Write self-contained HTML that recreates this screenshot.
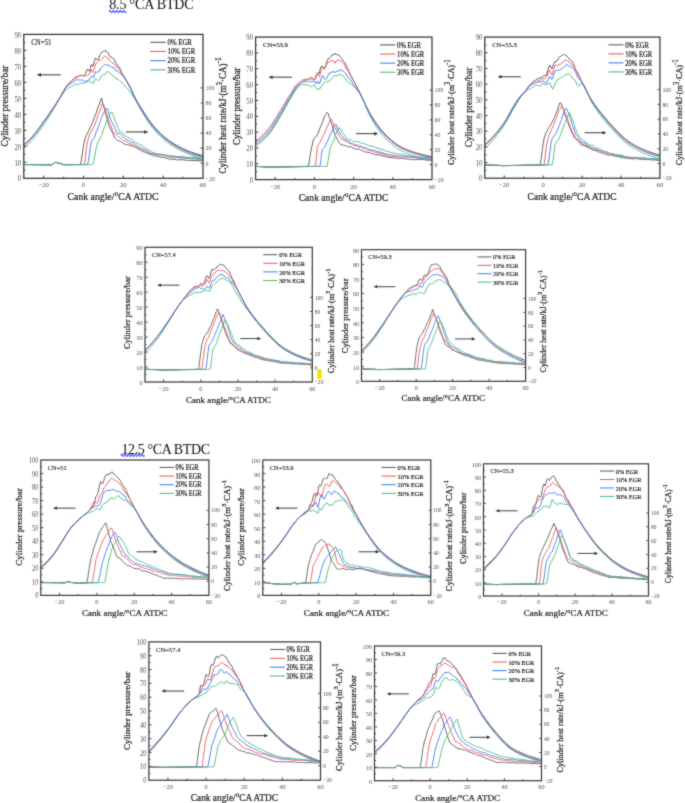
<!DOCTYPE html>
<html><head><meta charset="utf-8"><style>
html,body{margin:0;padding:0;background:#fff;width:685px;height:803px;overflow:hidden;font-family:"Liberation Serif",serif;}
svg{display:block;}
</style></head><body>
<svg width="685" height="803" viewBox="0 0 685 803">
<defs><filter id="bl" x="0" y="0" width="100%" height="100%" filterUnits="userSpaceOnUse"><feConvolveMatrix order="3" kernelMatrix="1 2 1 2 16 2 1 2 1" divisor="28" edgeMode="duplicate" preserveAlpha="false"/></filter></defs>
<rect width="685" height="803" fill="#fff"/>
<g filter="url(#bl)">

<text x="109.2" y="9.4" font-family="Liberation Serif, serif" font-size="14" letter-spacing="-0.15" fill="#111">8.5 °CA BTDC</text>
<path d="M109.20,11.60 q0.85,-2.00 1.70,0 t1.70,0 t1.70,0 t1.70,0 t1.70,0 t1.70,0 t1.70,0 t1.70,0 t1.70,0 t1.70,0" stroke="#3344f5" stroke-width="1.1" fill="none"/>
<text x="121.4" y="454" font-family="Liberation Serif, serif" font-size="14" letter-spacing="-0.37" fill="#111">12.5 °CA BTDC</text>
<path d="M120.80,455.40 q0.85,-2.00 1.70,0 t1.70,0 t1.70,0 t1.70,0 t1.70,0 t1.70,0 t1.70,0 t1.70,0 t1.70,0 t1.70,0 t1.70,0 t1.70,0 t1.70,0 t1.70,0" stroke="#3344f5" stroke-width="1.1" fill="none"/>
<rect x="317.3" y="369.1" width="4.4" height="10" fill="#ffe000"/>

<g transform="translate(23.8,34.4)">
<polyline points="0,130.1 1,130.2 2,130.2 3,130.2 4,130.2 5,130.2 6,130.2 7,130.2 8,130.2 9,130.3 10,130.3 11,130.3 11.9,130.3 12.9,130.3 13.9,130.3 14.9,130.3 15.9,130.3 16.9,130.3 17.9,130.4 18.9,130.4 19.9,130.4 20.9,130.4 21.9,130.4 22.9,130.4 23.9,130.4 24.9,130.4 25.9,130.4 26.9,130.5 27.9,130.5 28.9,129.8 29.9,129 30.9,128.3 31.9,128 32.9,128.2 33.8,128.4 34.8,128.7 35.8,128.9 36.8,129.2 37.8,129.6 38.8,129.9 39.8,130.3 40.8,130.3 41.8,130.3 42.8,130.3 43.8,130.3 44.8,130.3 45.8,130.3 46.8,130.2 47.8,130.2 48.8,130.2 49.8,130.2 50.8,130.2 51.8,130.2 52.8,130.2 53.8,130.2 54.8,130.2 55.8,130.2 56.7,130.2 57.7,124.8 58.7,118.1 59.7,111.3 60.7,106.6 61.7,103 62.7,100.4 63.7,98.6 64.7,96.6 65.7,94.6 66.7,92.2 67.7,90.3 68.7,88.2 69.7,85.6 70.7,83.2 71.7,80.3 72.7,77.9 73.7,74.3 74.7,71.8 75.7,69.5 76.7,66.5 77.7,63.6 78.6,67.3 79.6,71.3 80.6,74.3 81.6,78 82.6,82.1 83.6,85.6 84.6,89 85.6,91.9 86.6,94.5 87.6,96.5 88.6,97.9 89.6,100.5 90.6,102.8 91.6,104 92.6,105.1 93.6,105.9 94.6,105.9 95.6,106.9 96.6,107.1 97.6,107.4 98.6,108.3 99.6,108.9 100.6,109.7 101.5,109.9 102.5,110.4 103.5,110.1 104.5,110.6 105.5,110.6 106.5,111.1 107.5,111.4 108.5,111.4 109.5,111.7 110.5,112.4 111.5,113 112.5,113.5 113.5,114.1 114.5,114.8 115.5,115 116.5,115.6 117.5,116.3 118.5,116.8 119.5,117.2 120.5,117.7 121.5,118.1 122.5,118.5 123.4,119.1 124.4,119.3 125.4,119.7 126.4,120 127.4,120.5 128.4,120.7 129.4,121.1 130.4,121.4 131.4,121.7 132.4,121.7 133.4,121.8 134.4,122 135.4,122.3 136.4,122.5 137.4,122.7 138.4,123.1 139.4,123 140.4,123.1 141.4,123.4 142.4,123.7 143.4,124 144.4,124.4 145.4,124.5 146.3,125 147.3,124.8 148.3,124.7 149.3,124.8 150.3,125 151.3,125 152.3,125.3 153.3,125.5 154.3,125.5 155.3,125.5 156.3,125.2 157.3,125.3 158.3,125.5 159.3,125.4 160.3,125.5 161.3,125.8 162.3,125.9 163.3,125.8 164.3,126 165.3,126.1 166.3,125.9 167.3,126.2 168.2,126.2 169.2,126 170.2,126.1 171.2,126 172.2,126 173.2,126.3 174.2,126.3 175.2,126.4 176.2,126.5 177.2,126.4 178.2,126.5 179.2,126.5" fill="none" stroke="#5a5a5a" stroke-width="0.95" stroke-linejoin="round"/>
<polyline points="0,130.1 1,130.2 2,130.2 3,130.2 4,130.2 5,130.2 6,130.2 7,130.2 8,130.2 9,130.3 10,130.3 11,130.3 11.9,130.3 12.9,130.3 13.9,130.3 14.9,130.3 15.9,130.3 16.9,130.3 17.9,130.4 18.9,130.4 19.9,130.4 20.9,130.4 21.9,130.4 22.9,130.4 23.9,130.4 24.9,130.4 25.9,130.4 26.9,130.5 27.9,130.5 28.9,129.8 29.9,129 30.9,128.3 31.9,128 32.9,128.2 33.8,128.4 34.8,128.7 35.8,128.9 36.8,129.2 37.8,129.6 38.8,129.9 39.8,130.3 40.8,130.3 41.8,130.3 42.8,130.3 43.8,130.3 44.8,130.3 45.8,130.3 46.8,130.3 47.8,130.2 48.8,130.2 49.8,130.2 50.8,130.2 51.8,130.2 52.8,130.2 53.8,130.2 54.8,130.2 55.8,130.2 56.7,130.2 57.7,130.2 58.7,130.2 59.7,130.2 60.7,130.1 61.7,121.9 62.7,113.7 63.7,107.3 64.7,103.6 65.7,100.3 66.7,98 67.7,96.7 68.7,94.6 69.7,93.2 70.7,90.7 71.7,88.6 72.7,85.5 73.7,82.8 74.7,79.1 75.7,76.8 76.7,74.6 77.7,71.8 78.6,69.1 79.6,69.5 80.6,72 81.6,75.4 82.6,78.4 83.6,81 84.6,84.9 85.6,87.7 86.6,90.1 87.6,92.3 88.6,95.4 89.6,97.4 90.6,99.2 91.6,99.8 92.6,100.7 93.6,101.3 94.6,102.3 95.6,102.8 96.6,103.8 97.6,104.1 98.6,105.4 99.6,106.1 100.6,106.6 101.5,106.3 102.5,106.9 103.5,107.6 104.5,108.4 105.5,109 106.5,109.4 107.5,109.8 108.5,110.4 109.5,110.7 110.5,111.2 111.5,111.3 112.5,111.9 113.5,112.8 114.5,113.4 115.5,113.5 116.5,114.4 117.5,114.8 118.5,115.5 119.5,115.9 120.5,116.2 121.5,116.6 122.5,117.1 123.4,117.6 124.4,118.3 125.4,118.8 126.4,119 127.4,119 128.4,119.3 129.4,119.5 130.4,119.6 131.4,119.8 132.4,120 133.4,120.3 134.4,120.5 135.4,120.7 136.4,120.8 137.4,120.9 138.4,121.2 139.4,121.3 140.4,121.2 141.4,121.7 142.4,121.7 143.4,122 144.4,122.5 145.4,122.5 146.3,122.8 147.3,123 148.3,123 149.3,123.1 150.3,123.3 151.3,123.2 152.3,123.2 153.3,123.2 154.3,123.3 155.3,123.5 156.3,123.6 157.3,123.5 158.3,123.6 159.3,123.7 160.3,124 161.3,124.1 162.3,124 163.3,123.9 164.3,124 165.3,123.8 166.3,123.9 167.3,123.9 168.2,124 169.2,124 170.2,124.1 171.2,124.5 172.2,124.4 173.2,124.6 174.2,124.6 175.2,124.6 176.2,124.5 177.2,124.8 178.2,124.6 179.2,124.9" fill="none" stroke="#f25a5a" stroke-width="0.95" stroke-linejoin="round"/>
<polyline points="0,130.1 1,130.2 2,130.2 3,130.2 4,130.2 5,130.2 6,130.2 7,130.2 8,130.2 9,130.3 10,130.3 11,130.3 11.9,130.3 12.9,130.3 13.9,130.3 14.9,130.3 15.9,130.3 16.9,130.3 17.9,130.4 18.9,130.4 19.9,130.4 20.9,130.4 21.9,130.4 22.9,130.4 23.9,130.4 24.9,130.4 25.9,130.4 26.9,130.5 27.9,130.5 28.9,129.8 29.9,129 30.9,128.3 31.9,128 32.9,128.2 33.8,128.4 34.8,128.7 35.8,128.9 36.8,129.2 37.8,129.6 38.8,129.9 39.8,130.3 40.8,130.3 41.8,130.3 42.8,130.3 43.8,130.3 44.8,130.3 45.8,130.3 46.8,130.3 47.8,130.3 48.8,130.3 49.8,130.2 50.8,130.2 51.8,130.2 52.8,130.2 53.8,130.2 54.8,130.2 55.8,130.2 56.7,130.2 57.7,130.2 58.7,130.2 59.7,130.2 60.7,130.2 61.7,130.2 62.7,130.2 63.7,130.2 64.7,125.9 65.7,118.9 66.7,111.9 67.7,106.9 68.7,105.6 69.7,104.3 70.7,102.8 71.7,99.6 72.7,97.1 73.7,94.8 74.7,92.1 75.7,89.1 76.7,86.2 77.7,83.3 78.6,81 79.6,79.2 80.6,76.9 81.6,76.1 82.6,74.1 83.6,74.2 84.6,77.2 85.6,81 86.6,84.1 87.6,86.8 88.6,88.4 89.6,90.2 90.6,92.3 91.6,94.9 92.6,97.5 93.6,99 94.6,99.3 95.6,98.9 96.6,99.5 97.6,100.6 98.6,101.3 99.6,103 100.6,103.8 101.5,104.4 102.5,104.9 103.5,105.3 104.5,105.7 105.5,106.7 106.5,107.3 107.5,107.8 108.5,108.1 109.5,108.5 110.5,108.9 111.5,109.9 112.5,110.7 113.5,111.4 114.5,112.1 115.5,112.6 116.5,113.5 117.5,113.6 118.5,114.4 119.5,114.6 120.5,115.1 121.5,115.6 122.5,116.1 123.4,116.7 124.4,117.2 125.4,117.8 126.4,118.5 127.4,119 128.4,118.9 129.4,119.1 130.4,119.4 131.4,119.7 132.4,119.6 133.4,119.9 134.4,119.8 135.4,119.9 136.4,119.7 137.4,119.9 138.4,120.1 139.4,120.6 140.4,120.9 141.4,120.9 142.4,120.7 143.4,120.8 144.4,121.2 145.4,121.5 146.3,121.5 147.3,121.4 148.3,121.5 149.3,121.6 150.3,121.6 151.3,121.6 152.3,122 153.3,122.2 154.3,122.2 155.3,122.4 156.3,122.2 157.3,122.4 158.3,122.1 159.3,122.3 160.3,122.5 161.3,122.8 162.3,122.7 163.3,123.1 164.3,123 165.3,123.3 166.3,123.4 167.3,123.3 168.2,123.5 169.2,123.2 170.2,123.4 171.2,123.6 172.2,123.6 173.2,123.7 174.2,123.7 175.2,123.7 176.2,124.1 177.2,124.1 178.2,124.3 179.2,124.1" fill="none" stroke="#3f7ef0" stroke-width="0.95" stroke-linejoin="round"/>
<polyline points="0,130.1 1,130.2 2,130.2 3,130.2 4,130.2 5,130.2 6,130.2 7,130.2 8,130.2 9,130.3 10,130.3 11,130.3 11.9,130.3 12.9,130.3 13.9,130.3 14.9,130.3 15.9,130.3 16.9,130.3 17.9,130.4 18.9,130.4 19.9,130.4 20.9,130.4 21.9,130.4 22.9,130.4 23.9,130.4 24.9,130.4 25.9,130.4 26.9,130.5 27.9,130.5 28.9,129.8 29.9,129 30.9,128.3 31.9,128 32.9,128.2 33.8,128.4 34.8,128.7 35.8,128.9 36.8,129.2 37.8,129.6 38.8,129.9 39.8,130.3 40.8,130.3 41.8,130.3 42.8,130.3 43.8,130.3 44.8,130.3 45.8,130.3 46.8,130.3 47.8,130.3 48.8,130.3 49.8,130.3 50.8,130.3 51.8,130.2 52.8,130.2 53.8,130.2 54.8,130.2 55.8,130.2 56.7,130.2 57.7,130.2 58.7,130.2 59.7,130.2 60.7,130.2 61.7,130.2 62.7,130.2 63.7,130.2 64.7,130.2 65.7,130.2 66.7,130.2 67.7,130.2 68.7,130.2 69.7,128 70.7,122.6 71.7,117.2 72.7,112.1 73.7,108.9 74.7,106.9 75.7,105.4 76.7,102.8 77.7,101.2 78.6,99 79.6,95.6 80.6,92.5 81.6,90.7 82.6,87.6 83.6,84.9 84.6,83.4 85.6,81.3 86.6,79.6 87.6,77.6 88.6,78.6 89.6,81.2 90.6,83.8 91.6,86.9 92.6,89.4 93.6,91.7 94.6,94 95.6,97.1 96.6,97.4 97.6,97.9 98.6,97.8 99.6,99.1 100.6,100.6 101.5,101.6 102.5,102 103.5,102.5 104.5,103 105.5,103.9 106.5,104.3 107.5,104.3 108.5,105.5 109.5,106.5 110.5,107.4 111.5,107.5 112.5,108.4 113.5,108.7 114.5,109.4 115.5,109.8 116.5,110 117.5,110.6 118.5,111.5 119.5,112.2 120.5,112.7 121.5,113.7 122.5,114.5 123.4,114.6 124.4,115.4 125.4,115.8 126.4,116.5 127.4,116.9 128.4,117.7 129.4,118.2 130.4,118.7 131.4,118.7 132.4,119 133.4,119.2 134.4,119.8 135.4,119.8 136.4,120 137.4,120.1 138.4,120.4 139.4,120.5 140.4,120.6 141.4,120.8 142.4,121.4 143.4,121.6 144.4,121.7 145.4,121.8 146.3,122.3 147.3,122.4 148.3,122 149.3,122 150.3,122.3 151.3,122.7 152.3,122.5 153.3,122.9 154.3,122.8 155.3,123.1 156.3,123 157.3,123.3 158.3,123.1 159.3,123.5 160.3,123.6 161.3,123.6 162.3,123.7 163.3,124 164.3,124.1 165.3,124.2 166.3,124.3 167.3,124.5 168.2,124.5 169.2,124.5 170.2,124.3 171.2,124.3 172.2,124.6 173.2,124.5 174.2,124.6 175.2,125 176.2,124.9 177.2,125.2 178.2,125 179.2,125.1" fill="none" stroke="#4cbb7c" stroke-width="0.95" stroke-linejoin="round"/>
<polyline points="0,110.3 1,109.5 2,108.6 3,107.7 4,106.8 5,105.8 6,104.8 7,103.8 8,102.7 9,101.6 10,100.5 11,99.3 11.9,98.1 12.9,96.8 13.9,95.4 14.9,94.1 15.9,92.7 16.9,91.2 17.9,89.8 18.9,88.4 19.9,87 20.9,85.6 21.9,84.2 22.9,82.8 23.9,81.4 24.9,80 25.9,78.5 26.9,77.1 27.9,75.6 28.9,74.2 29.9,72.7 30.9,71.2 31.9,69.7 32.9,68.2 33.8,66.6 34.8,65.1 35.8,63.5 36.8,61.8 37.8,60.1 38.8,58.3 39.8,56.5 40.8,54.8 41.8,53.2 42.8,51.7 43.8,50.4 44.8,49.2 45.8,48.1 46.8,47.1 47.8,46.1 48.8,45.2 49.8,44.3 50.8,43.6 51.8,42.9 52.8,42.3 53.8,42.2 54.8,41.5 55.8,41.2 56.7,41.2 57.7,40.4 58.7,41.4 59.7,41.7 60.7,41.1 61.7,39.4 62.7,36.7 63.7,34.8 64.7,36.1 65.7,36.8 66.7,33.1 67.7,29.8 68.7,32.3 69.7,30.7 70.7,26 71.7,23.5 72.7,24.4 73.7,25.5 74.7,25.1 75.7,21.4 76.7,20 77.7,17.9 78.6,17.3 79.6,16.9 80.6,16.7 81.6,15.9 82.6,17.4 83.6,17.8 84.6,18.8 85.6,21.4 86.6,22.8 87.6,22.8 88.6,23.5 89.6,24 90.6,25.2 91.6,27.7 92.6,29.3 93.6,30.5 94.6,32.1 95.6,32.7 96.6,35.2 97.6,37.5 98.6,39.8 99.6,40.8 100.6,42.3 101.5,44.1 102.5,45.8 103.5,47.5 104.5,49.2 105.5,51 106.5,52.9 107.5,55.1 108.5,57.3 109.5,59.6 110.5,61.7 111.5,63.6 112.5,65.5 113.5,67.2 114.5,68.9 115.5,70.6 116.5,72.2 117.5,73.8 118.5,75.4 119.5,76.9 120.5,78.5 121.5,80 122.5,81.5 123.4,83 124.4,84.5 125.4,85.9 126.4,87.3 127.4,88.6 128.4,89.8 129.4,91.1 130.4,92.3 131.4,93.4 132.4,94.5 133.4,95.6 134.4,96.7 135.4,97.7 136.4,98.7 137.4,99.6 138.4,100.6 139.4,101.4 140.4,102.3 141.4,103.1 142.4,103.9 143.4,104.7 144.4,105.5 145.4,106.2 146.3,106.9 147.3,107.5 148.3,108.2 149.3,108.8 150.3,109.4 151.3,110 152.3,110.6 153.3,111.2 154.3,111.7 155.3,112.2 156.3,112.8 157.3,113.3 158.3,113.8 159.3,114.3 160.3,114.7 161.3,115.2 162.3,115.7 163.3,116.1 164.3,116.5 165.3,116.9 166.3,117.3 167.3,117.7 168.2,118 169.2,118.4 170.2,118.7 171.2,119 172.2,119.3 173.2,119.6 174.2,119.9 175.2,120.2 176.2,120.5 177.2,120.7 178.2,121 179.2,121.2" fill="none" stroke="#5a5a5a" stroke-width="1" stroke-linejoin="round"/>
<polyline points="0,113.8 1,113 2,112.1 3,111.2 4,110.3 5,109.3 6,108.3 7,107.2 8,106.2 9,105.1 10,103.9 11,102.8 11.9,101.5 12.9,100.2 13.9,98.9 14.9,97.5 15.9,96.1 16.9,94.7 17.9,93.3 18.9,91.8 19.9,90.3 20.9,88.9 21.9,87.3 22.9,85.8 23.9,84.2 24.9,82.6 25.9,81 26.9,79.3 27.9,77.7 28.9,76 29.9,74.3 30.9,72.6 31.9,70.8 32.9,68.9 33.8,67.1 34.8,65.4 35.8,63.7 36.8,62.3 37.8,60.9 38.8,59.5 39.8,58.2 40.8,57 41.8,55.9 42.8,55 43.8,54.2 44.8,53.5 45.8,52.9 46.8,52.4 47.8,51.9 48.8,51.4 49.8,50.8 50.8,50.3 51.8,49.9 52.8,49.7 53.8,50.2 54.8,49.7 55.8,49 56.7,48.7 57.7,48.9 58.7,48.7 59.7,48.8 60.7,48.8 61.7,47.8 62.7,47.7 63.7,47.3 64.7,46.7 65.7,47.1 66.7,47.2 67.7,48.5 68.7,49.5 69.7,48.6 70.7,45.6 71.7,44.2 72.7,44.9 73.7,45.9 74.7,46.3 75.7,45.4 76.7,43.6 77.7,41.7 78.6,41 79.6,40 80.6,40.7 81.6,39.3 82.6,37.8 83.6,37 84.6,37.6 85.6,38.6 86.6,39 87.6,39.6 88.6,40.6 89.6,42.1 90.6,42.5 91.6,43 92.6,44.7 93.6,44.6 94.6,45 95.6,46 96.6,46.9 97.6,47.5 98.6,49 99.6,50.1 100.6,51.3 101.5,52.1 102.5,53 103.5,54 104.5,55.1 105.5,56.3 106.5,57.7 107.5,59.1 108.5,60.7 109.5,62.3 110.5,63.9 111.5,65.5 112.5,67.2 113.5,69 114.5,70.9 115.5,72.7 116.5,74.6 117.5,76.3 118.5,78 119.5,79.7 120.5,81.3 121.5,82.9 122.5,84.5 123.4,86 124.4,87.5 125.4,88.9 126.4,90.3 127.4,91.6 128.4,92.9 129.4,94.1 130.4,95.3 131.4,96.5 132.4,97.6 133.4,98.7 134.4,99.7 135.4,100.7 136.4,101.7 137.4,102.7 138.4,103.6 139.4,104.5 140.4,105.3 141.4,106.2 142.4,107 143.4,107.7 144.4,108.5 145.4,109.2 146.3,109.9 147.3,110.6 148.3,111.2 149.3,111.8 150.3,112.5 151.3,113.1 152.3,113.6 153.3,114.2 154.3,114.8 155.3,115.3 156.3,115.8 157.3,116.3 158.3,116.8 159.3,117.3 160.3,117.8 161.3,118.2 162.3,118.7 163.3,119.1 164.3,119.6 165.3,120 166.3,120.4 167.3,120.7 168.2,121.1 169.2,121.4 170.2,121.7 171.2,122.1 172.2,122.4 173.2,122.7 174.2,123 175.2,123.3 176.2,123.5 177.2,123.8 178.2,124 179.2,124.2" fill="none" stroke="#4cbb7c" stroke-width="1" stroke-linejoin="round"/>
<polyline points="0,111.3 1,110.4 2,109.6 3,108.7 4,107.7 5,106.7 6,105.7 7,104.7 8,103.6 9,102.5 10,101.3 11,100.1 11.9,98.9 12.9,97.6 13.9,96.2 14.9,94.8 15.9,93.4 16.9,92 17.9,90.5 18.9,89.1 19.9,87.7 20.9,86.3 21.9,84.9 22.9,83.5 23.9,82 24.9,80.6 25.9,79.2 26.9,77.7 27.9,76.2 28.9,74.7 29.9,73.3 30.9,71.7 31.9,70.2 32.9,68.7 33.8,67.1 34.8,65.5 35.8,64 36.8,62.3 37.8,60.6 38.8,58.8 39.8,56.9 40.8,55.2 41.8,53.6 42.8,52.1 43.8,51 44.8,49.9 45.8,48.9 46.8,48 47.8,47.1 48.8,46.3 49.8,45.6 50.8,44.6 51.8,44 52.8,43.3 53.8,43.1 54.8,41.9 55.8,41.2 56.7,41.3 57.7,41.7 58.7,41.1 59.7,41.2 60.7,41.4 61.7,41.5 62.7,41.2 63.7,41.2 64.7,40.6 65.7,39.3 66.7,35.6 67.7,35.3 68.7,38.4 69.7,36.1 70.7,33.3 71.7,30.6 72.7,28.2 73.7,27.2 74.7,25.7 75.7,25.9 76.7,26.1 77.7,25.3 78.6,24.1 79.6,22.7 80.6,21.8 81.6,22.4 82.6,22.7 83.6,23.6 84.6,23.9 85.6,25.7 86.6,26.9 87.6,27.8 88.6,28.6 89.6,28.6 90.6,30.2 91.6,30.3 92.6,32.7 93.6,32.8 94.6,34.7 95.6,35.9 96.6,37.1 97.6,39 98.6,40.3 99.6,41.8 100.6,43.1 101.5,44.6 102.5,46.2 103.5,47.9 104.5,49.7 105.5,51.5 106.5,53.4 107.5,55.6 108.5,57.9 109.5,60.2 110.5,62.4 111.5,64.4 112.5,66.3 113.5,68.1 114.5,69.9 115.5,71.6 116.5,73.3 117.5,74.9 118.5,76.5 119.5,78.2 120.5,79.8 121.5,81.4 122.5,82.9 123.4,84.4 124.4,85.9 125.4,87.3 126.4,88.7 127.4,90 128.4,91.3 129.4,92.5 130.4,93.7 131.4,94.9 132.4,96 133.4,97.1 134.4,98.1 135.4,99.1 136.4,100.1 137.4,101.1 138.4,102 139.4,102.9 140.4,103.7 141.4,104.6 142.4,105.4 143.4,106.1 144.4,106.9 145.4,107.6 146.3,108.3 147.3,109 148.3,109.6 149.3,110.2 150.3,110.9 151.3,111.5 152.3,112 153.3,112.6 154.3,113.2 155.3,113.7 156.3,114.2 157.3,114.7 158.3,115.2 159.3,115.7 160.3,116.2 161.3,116.7 162.3,117.1 163.3,117.5 164.3,118 165.3,118.4 166.3,118.8 167.3,119.1 168.2,119.5 169.2,119.8 170.2,120.1 171.2,120.5 172.2,120.8 173.2,121.1 174.2,121.4 175.2,121.7 176.2,121.9 177.2,122.2 178.2,122.4 179.2,122.6" fill="none" stroke="#f25a5a" stroke-width="1" stroke-linejoin="round"/>
<polyline points="0,110.8 1,110 2,109.1 3,108.3 4,107.3 5,106.4 6,105.4 7,104.4 8,103.3 9,102.2 10,101.1 11,100 11.9,98.7 12.9,97.4 13.9,96.1 14.9,94.7 15.9,93.4 16.9,91.9 17.9,90.5 18.9,89.1 19.9,87.7 20.9,86.4 21.9,85 22.9,83.6 23.9,82.2 24.9,80.8 25.9,79.4 26.9,77.9 27.9,76.5 28.9,75 29.9,73.6 30.9,72.1 31.9,70.6 32.9,69.1 33.8,67.6 34.8,66 35.8,64.4 36.8,62.8 37.8,61 38.8,59.1 39.8,57.2 40.8,55.5 41.8,53.9 42.8,52.5 43.8,51.6 44.8,50.7 45.8,50 46.8,49.3 47.8,48.7 48.8,48.1 49.8,47.5 50.8,46.9 51.8,46 52.8,45.4 53.8,45.1 54.8,45.8 55.8,45.4 56.7,45.8 57.7,45.2 58.7,45.8 59.7,46.5 60.7,46.8 61.7,47 62.7,46.4 63.7,46.6 64.7,45.4 65.7,44.9 66.7,42.9 67.7,41.7 68.7,42.4 69.7,43.3 70.7,40.4 71.7,37.2 72.7,37.8 73.7,37.6 74.7,37.8 75.7,36.7 76.7,34 77.7,33.1 78.6,32.4 79.6,31.2 80.6,30.7 81.6,29.9 82.6,30.9 83.6,30 84.6,31.4 85.6,31 86.6,32.1 87.6,32.7 88.6,32.6 89.6,33 90.6,34.5 91.6,35.8 92.6,36.8 93.6,36.8 94.6,37.6 95.6,38.5 96.6,39.5 97.6,40 98.6,40.6 99.6,42.2 100.6,43.4 101.5,45.1 102.5,46.7 103.5,48.3 104.5,50 105.5,51.8 106.5,53.6 107.5,55.7 108.5,58 109.5,60.3 110.5,62.5 111.5,64.4 112.5,66.3 113.5,68.1 114.5,69.8 115.5,71.5 116.5,73.2 117.5,74.8 118.5,76.4 119.5,78 120.5,79.5 121.5,81.1 122.5,82.6 123.4,84.1 124.4,85.6 125.4,87 126.4,88.4 127.4,89.7 128.4,91 129.4,92.2 130.4,93.4 131.4,94.5 132.4,95.7 133.4,96.7 134.4,97.8 135.4,98.8 136.4,99.8 137.4,100.8 138.4,101.7 139.4,102.6 140.4,103.4 141.4,104.3 142.4,105.1 143.4,105.8 144.4,106.6 145.4,107.3 146.3,108 147.3,108.6 148.3,109.3 149.3,109.9 150.3,110.5 151.3,111.1 152.3,111.7 153.3,112.3 154.3,112.8 155.3,113.4 156.3,113.9 157.3,114.4 158.3,114.9 159.3,115.4 160.3,115.9 161.3,116.3 162.3,116.8 163.3,117.2 164.3,117.6 165.3,118 166.3,118.4 167.3,118.8 168.2,119.1 169.2,119.5 170.2,119.8 171.2,120.2 172.2,120.5 173.2,120.8 174.2,121.1 175.2,121.3 176.2,121.6 177.2,121.9 178.2,122.1 179.2,122.3" fill="none" stroke="#3f7ef0" stroke-width="1" stroke-linejoin="round"/>
</g>
<g transform="translate(23.8,34.4) scale(1.00000,0.99931)">
<rect x="0" y="0" width="179.2" height="144" fill="none" stroke="#3a3a3a" stroke-width="1.3"/>
<path d="M0,136h1.6M0,128h2.8M0,120h1.6M0,112h2.8M0,104h1.6M0,96h2.8M0,88h1.6M0,80h2.8M0,72h1.6M0,64h2.8M0,56h1.6M0,48h2.8M0,40h1.6M0,32h2.8M0,24h1.6M0,16h2.8M0,8h1.6M19.91,144v-2.8M39.82,144v-1.6M59.73,144v-2.8M79.64,144v-1.6M99.56,144v-2.8M119.47,144v-1.6M139.38,144v-2.8M159.29,144v-1.6M179.2,128.92h-2.4M179.2,113.84h-2.4M179.2,98.76h-2.4M179.2,83.69h-2.4M179.2,68.61h-2.4M179.2,53.53h-2.4" stroke="#444" stroke-width="1" fill="none"/>
<g font-family="Liberation Serif, serif" font-size="6.8" fill="#555"><text transform="translate(-2.6,147.2) scale(1.0,1.12)" text-anchor="end">0</text><text transform="translate(-2.6,131.2) scale(1.0,1.12)" text-anchor="end">10</text><text transform="translate(-2.6,115.2) scale(1.0,1.12)" text-anchor="end">20</text><text transform="translate(-2.6,99.2) scale(1.0,1.12)" text-anchor="end">30</text><text transform="translate(-2.6,83.2) scale(1.0,1.12)" text-anchor="end">40</text><text transform="translate(-2.6,67.2) scale(1.0,1.12)" text-anchor="end">50</text><text transform="translate(-2.6,51.2) scale(1.0,1.12)" text-anchor="end">60</text><text transform="translate(-2.6,35.2) scale(1.0,1.12)" text-anchor="end">70</text><text transform="translate(-2.6,19.2) scale(1.0,1.12)" text-anchor="end">80</text><text transform="translate(-2.6,3.2) scale(1.0,1.12)" text-anchor="end">90</text><text transform="translate(181.8,146.3) scale(0.88,0.95)">−20</text><text transform="translate(181.8,131.22) scale(0.88,0.95)">0</text><text transform="translate(181.8,116.14) scale(0.88,0.95)">20</text><text transform="translate(181.8,101.06) scale(0.88,0.95)">40</text><text transform="translate(181.8,85.99) scale(0.88,0.95)">60</text><text transform="translate(181.8,70.91) scale(0.88,0.95)">80</text><text transform="translate(181.8,55.83) scale(0.88,0.95)">100</text><text transform="translate(19.91,153.1) scale(1,1.05)" text-anchor="middle">−20</text><text transform="translate(59.73,153.1) scale(1,1.05)" text-anchor="middle">0</text><text transform="translate(99.56,153.1) scale(1,1.05)" text-anchor="middle">20</text><text transform="translate(139.38,153.1) scale(1,1.05)" text-anchor="middle">40</text><text transform="translate(179.2,153.1) scale(1,1.05)" text-anchor="middle">60</text></g>
<text font-family="Liberation Serif, serif" font-size="6.85" fill="#222" stroke="#222" stroke-width="0.12" transform="translate(7.5,10.4) scale(1,1.05)">CN=51</text>
<g font-family="Liberation Serif, serif" font-size="6.8" fill="#1a1a1a" stroke="#1a1a1a" stroke-width="0.18"><path d="M126.6,7.9H142" stroke="#5a5a5a" stroke-width="1.1"/><text transform="translate(143.7,10.7) scale(1.0,1.12)">0% EGR</text><path d="M126.6,17.1H142" stroke="#f25a5a" stroke-width="1.1"/><text transform="translate(143.7,19.9) scale(1.0,1.12)">10% EGR</text><path d="M126.6,26.3H142" stroke="#3f7ef0" stroke-width="1.1"/><text transform="translate(143.7,29.1) scale(1.0,1.12)">20% EGR</text><path d="M126.6,35.5H142" stroke="#4cbb7c" stroke-width="1.1"/><text transform="translate(143.7,38.3) scale(1.0,1.12)">30% EGR</text></g>
<path d="M16,40.5H36.9" stroke="#333" stroke-width="1"/><path d="M13,40.5l4.2,-1.8v3.6z" fill="#333"/>
<path d="M102.1,97.6H121.6" stroke="#333" stroke-width="1"/><path d="M124.6,97.6l-4.2,-1.8v3.6z" fill="#333"/>
<text font-family="Liberation Serif, serif" font-size="9.75" fill="#2a2a2a" stroke="#2a2a2a" stroke-width="0.25" x="89.3" y="166" text-anchor="middle">Cank angle/°CA ATDC</text>
</g>
<text font-family="Liberation Serif, serif" font-size="9.6" fill="#2a2a2a" stroke="#2a2a2a" stroke-width="0.25" text-anchor="middle" textLength="81" lengthAdjust="spacingAndGlyphs" transform="translate(8.3,106.05) rotate(-90)">Cylinder pressure/bar</text>
<text font-family="Liberation Serif, serif" font-size="9.3" fill="#2a2a2a" stroke="#2a2a2a" stroke-width="0.25" text-anchor="middle" textLength="116.3" lengthAdjust="spacingAndGlyphs" transform="translate(225.6,115.45) rotate(-90)">Cylinder heat rate/kJ·(m<tspan font-size="7.4" dy="-3.9">3</tspan><tspan dy="3.9">·CA)</tspan><tspan font-size="7.6" dy="-4.2">-1</tspan></text>
<g transform="translate(255.6,37.1)">
<polyline points="0,129.2 1,129.3 2,129.3 2.9,129.4 3.9,129.5 4.9,129.5 5.9,129.6 6.9,129.6 7.8,129.7 8.8,129.8 9.8,129.8 10.8,129.9 11.8,129.9 12.7,129.9 13.7,129.9 14.7,130 15.7,130 16.7,130 17.6,129.9 18.6,129.9 19.6,129.9 20.6,129.9 21.6,129.9 22.5,129.8 23.5,129.8 24.5,129.8 25.5,129.8 26.5,129.8 27.4,129.7 28.4,129.7 29.4,129.7 30.4,129.7 31.4,129.6 32.3,129.6 33.3,129.6 34.3,129.6 35.3,129.6 36.3,129.5 37.2,129.5 38.2,129.5 39.2,129.5 40.2,129.5 41.2,129.4 42.1,129.4 43.1,129.4 44.1,129.4 45.1,129.3 46.1,129.3 47,129.3 48,129.3 49,129.3 50,129.2 51,129.2 51.9,129.2 52.9,129.2 53.9,122.8 54.9,116.4 55.9,111 56.8,106.9 57.8,102.8 58.8,100.9 59.8,100.3 60.8,98.8 61.7,97.8 62.7,95.7 63.7,92.8 64.7,90.1 65.7,87.7 66.6,85.7 67.6,83 68.6,79.9 69.6,77.9 70.6,77 71.5,75.3 72.5,76.3 73.5,79.6 74.5,82 75.5,85.3 76.4,87.7 77.4,91 78.4,94.9 79.4,97.9 80.4,99.6 81.3,101.8 82.3,103.1 83.3,105.1 84.3,106.2 85.3,107.6 86.2,107.9 87.2,107.7 88.2,108.5 89.2,108.3 90.2,108.6 91.1,109.2 92.1,109.9 93.1,109.9 94.1,109.2 95.1,109.7 96,110.2 97,110.7 98,111.3 99,111.1 100,111.7 100.9,112.2 101.9,112.3 102.9,111.6 103.9,112 104.9,113 105.8,113.2 106.8,113.3 107.8,114.2 108.8,114.5 109.8,114.9 110.7,115.2 111.7,115 112.7,115.5 113.7,115.3 114.7,115.6 115.6,116.4 116.6,116.4 117.6,116.8 118.6,117.3 119.6,117.3 120.5,117.5 121.5,117.7 122.5,117.7 123.5,117.9 124.5,118.1 125.4,118.4 126.4,118.8 127.4,118.9 128.4,118.9 129.4,119.3 130.3,119.4 131.3,119.9 132.3,120 133.3,120.4 134.3,120.4 135.2,120.4 136.2,120.7 137.2,120.6 138.2,120.7 139.2,120.9 140.1,121 141.1,121.2 142.1,121.4 143.1,121.2 144.1,121.2 145,121.5 146,121.2 147,121.4 148,121.6 149,121.6 149.9,121.7 150.9,121.9 151.9,122 152.9,122.4 153.9,122.4 154.8,122.3 155.8,122.4 156.8,122.6 157.8,122.4 158.8,122.5 159.7,122.6 160.7,122.5 161.7,122.4 162.7,122.5 163.7,122.4 164.6,122.5 165.6,122.5 166.6,122.4 167.6,122.3 168.6,122.7 169.5,122.7 170.5,123 171.5,123 172.5,123 173.5,123 174.4,123.1 175.4,123.2 176.4,123" fill="none" stroke="#5a5a5a" stroke-width="0.94" stroke-linejoin="round"/>
<polyline points="0,129.2 1,129.3 2,129.3 2.9,129.4 3.9,129.5 4.9,129.5 5.9,129.6 6.9,129.6 7.8,129.7 8.8,129.8 9.8,129.8 10.8,129.9 11.8,129.9 12.7,129.9 13.7,129.9 14.7,130 15.7,130 16.7,130 17.6,130 18.6,129.9 19.6,129.9 20.6,129.9 21.6,129.9 22.5,129.9 23.5,129.9 24.5,129.8 25.5,129.8 26.5,129.8 27.4,129.8 28.4,129.8 29.4,129.7 30.4,129.7 31.4,129.7 32.3,129.7 33.3,129.7 34.3,129.7 35.3,129.6 36.3,129.6 37.2,129.6 38.2,129.6 39.2,129.6 40.2,129.6 41.2,129.5 42.1,129.5 43.1,129.5 44.1,129.5 45.1,129.5 46.1,129.4 47,129.4 48,129.4 49,129.4 50,129.4 51,129.4 51.9,129.3 52.9,129.3 53.9,129.3 54.9,129.3 55.9,129.3 56.8,129.3 57.8,129.2 58.8,129.2 59.8,129.2 60.8,119.6 61.7,110 62.7,108.1 63.7,106.3 64.7,104.5 65.7,102.2 66.6,100.8 67.6,98.7 68.6,97.3 69.6,94.3 70.6,92.4 71.5,89.8 72.5,87.8 73.5,85.7 74.5,83.3 75.5,81.9 76.4,83.3 77.4,86.1 78.4,87.7 79.4,90.1 80.4,92.5 81.3,94.1 82.3,96.3 83.3,98.1 84.3,99.9 85.3,101.6 86.2,101.8 87.2,102.1 88.2,103 89.2,104.1 90.2,103.8 91.1,104.5 92.1,105.3 93.1,105.9 94.1,106.3 95.1,106.2 96,107.3 97,107.6 98,108.6 99,108.1 100,108.5 100.9,108.6 101.9,109.2 102.9,109.3 103.9,110 104.9,109.9 105.8,110.1 106.8,111 107.8,111.3 108.8,111.5 109.8,111.8 110.7,112.4 111.7,113.2 112.7,113.4 113.7,113.3 114.7,113.5 115.6,113.7 116.6,114.1 117.6,114.4 118.6,114.9 119.6,115.3 120.5,115.5 121.5,115.7 122.5,115.9 123.5,116.1 124.5,116.3 125.4,116.4 126.4,116.7 127.4,117 128.4,117.5 129.4,117.7 130.3,118 131.3,118.4 132.3,118.6 133.3,118.9 134.3,118.9 135.2,119.2 136.2,119.1 137.2,119.4 138.2,119.2 139.2,119.5 140.1,119.5 141.1,119.4 142.1,119.5 143.1,119.6 144.1,120 145,120.1 146,120 147,120 148,119.9 149,119.9 149.9,120.1 150.9,120.1 151.9,120.4 152.9,120.5 153.9,120.5 154.8,120.4 155.8,120.4 156.8,120.5 157.8,120.6 158.8,120.4 159.7,120.7 160.7,121.2 161.7,121.2 162.7,121.1 163.7,121.2 164.6,121.1 165.6,121.1 166.6,121.3 167.6,121.5 168.6,121.4 169.5,121.9 170.5,121.9 171.5,122 172.5,121.7 173.5,121.8 174.4,121.8 175.4,122 176.4,122.4" fill="none" stroke="#f25a5a" stroke-width="0.94" stroke-linejoin="round"/>
<polyline points="0,129.2 1,129.3 2,129.3 2.9,129.4 3.9,129.5 4.9,129.5 5.9,129.6 6.9,129.6 7.8,129.7 8.8,129.8 9.8,129.8 10.8,129.9 11.8,129.9 12.7,129.9 13.7,129.9 14.7,130 15.7,130 16.7,130 17.6,130 18.6,129.9 19.6,129.9 20.6,129.9 21.6,129.9 22.5,129.9 23.5,129.9 24.5,129.8 25.5,129.8 26.5,129.8 27.4,129.8 28.4,129.8 29.4,129.8 30.4,129.8 31.4,129.7 32.3,129.7 33.3,129.7 34.3,129.7 35.3,129.7 36.3,129.7 37.2,129.6 38.2,129.6 39.2,129.6 40.2,129.6 41.2,129.6 42.1,129.6 43.1,129.5 44.1,129.5 45.1,129.5 46.1,129.5 47,129.5 48,129.5 49,129.5 50,129.4 51,129.4 51.9,129.4 52.9,129.4 53.9,129.4 54.9,129.4 55.9,129.3 56.8,129.3 57.8,129.3 58.8,129.3 59.8,129.3 60.8,129.3 61.7,129.2 62.7,129.2 63.7,129.2 64.7,127.5 65.7,119.2 66.6,112.3 67.6,111.4 68.6,110.4 69.6,108.9 70.6,107.2 71.5,104.6 72.5,103.1 73.5,99.8 74.5,97.7 75.5,95.9 76.4,94.4 77.4,91.7 78.4,88.9 79.4,87.2 80.4,87.3 81.3,89.8 82.3,92.8 83.3,94.5 84.3,95.9 85.3,97.5 86.2,98.7 87.2,99.9 88.2,101.4 89.2,102.1 90.2,102.7 91.1,103.5 92.1,103.7 93.1,104.2 94.1,105.3 95.1,105.5 96,106.7 97,106.5 98,107 99,107.9 100,107.7 100.9,107.9 101.9,108.2 102.9,108.5 103.9,109.1 104.9,108.8 105.8,109.2 106.8,109.7 107.8,110.2 108.8,110.5 109.8,110.7 110.7,110.9 111.7,111.1 112.7,111.9 113.7,112.4 114.7,112.5 115.6,112.7 116.6,113.1 117.6,113 118.6,113.2 119.6,113.6 120.5,114.2 121.5,114.1 122.5,114.6 123.5,114.8 124.5,115 125.4,115.2 126.4,115.5 127.4,115.8 128.4,116.1 129.4,116.6 130.3,116.8 131.3,117 132.3,117.4 133.3,117.5 134.3,117.8 135.2,117.7 136.2,117.9 137.2,118.1 138.2,118.4 139.2,118.5 140.1,118.6 141.1,118.6 142.1,118.7 143.1,118.9 144.1,119 145,119 146,119 147,118.9 148,119.2 149,119.2 149.9,119.5 150.9,119.5 151.9,119.4 152.9,119.4 153.9,119.7 154.8,119.8 155.8,119.9 156.8,120.1 157.8,120.2 158.8,120 159.7,120.5 160.7,120.3 161.7,120.5 162.7,120.8 163.7,121 164.6,121.1 165.6,121.2 166.6,121.3 167.6,121.3 168.6,121.3 169.5,121.5 170.5,121.6 171.5,121.8 172.5,121.8 173.5,122.3 174.4,122.1 175.4,122.1 176.4,122.2" fill="none" stroke="#3f7ef0" stroke-width="0.94" stroke-linejoin="round"/>
<polyline points="0,129.2 1,129.3 2,129.3 2.9,129.4 3.9,129.5 4.9,129.5 5.9,129.6 6.9,129.6 7.8,129.7 8.8,129.8 9.8,129.8 10.8,129.9 11.8,129.9 12.7,129.9 13.7,129.9 14.7,130 15.7,130 16.7,130 17.6,130 18.6,129.9 19.6,129.9 20.6,129.9 21.6,129.9 22.5,129.9 23.5,129.9 24.5,129.9 25.5,129.9 26.5,129.8 27.4,129.8 28.4,129.8 29.4,129.8 30.4,129.8 31.4,129.8 32.3,129.8 33.3,129.7 34.3,129.7 35.3,129.7 36.3,129.7 37.2,129.7 38.2,129.7 39.2,129.7 40.2,129.6 41.2,129.6 42.1,129.6 43.1,129.6 44.1,129.6 45.1,129.6 46.1,129.6 47,129.5 48,129.5 49,129.5 50,129.5 51,129.5 51.9,129.5 52.9,129.5 53.9,129.4 54.9,129.4 55.9,129.4 56.8,129.4 57.8,129.4 58.8,129.4 59.8,129.4 60.8,129.4 61.7,129.3 62.7,129.3 63.7,129.3 64.7,129.3 65.7,129.3 66.6,129.3 67.6,129.3 68.6,129.2 69.6,129.2 70.6,129.2 71.5,129.2 72.5,123.2 73.5,117.2 74.5,111.3 75.5,108.8 76.4,106.7 77.4,104.7 78.4,102.9 79.4,99.8 80.4,97.2 81.3,95 82.3,93.1 83.3,90.7 84.3,90.9 85.3,93 86.2,95 87.2,96.4 88.2,97 89.2,98.7 90.2,100.3 91.1,101.7 92.1,101.8 93.1,102.2 94.1,102.9 95.1,102.8 96,103.5 97,104.1 98,104.2 99,104.5 100,104.4 100.9,104.9 101.9,104.4 102.9,105.1 103.9,104.9 104.9,105.8 105.8,106 106.8,106.3 107.8,106.4 108.8,106.5 109.8,107.3 110.7,107.5 111.7,107.6 112.7,108.3 113.7,108.6 114.7,109 115.6,108.9 116.6,109.1 117.6,109.2 118.6,109.7 119.6,110.2 120.5,110.7 121.5,110.9 122.5,111.3 123.5,111.5 124.5,111.9 125.4,112.2 126.4,112.4 127.4,112.6 128.4,112.9 129.4,113.3 130.3,113.7 131.3,114.2 132.3,114.5 133.3,114.9 134.3,115 135.2,115.2 136.2,115.8 137.2,115.8 138.2,116.2 139.2,116.1 140.1,116.4 141.1,116.6 142.1,116.8 143.1,116.8 144.1,117.1 145,117.4 146,117.1 147,117.5 148,117.7 149,117.9 149.9,117.9 150.9,118.3 151.9,118.4 152.9,118.7 153.9,118.8 154.8,118.9 155.8,118.8 156.8,119 157.8,119.1 158.8,119 159.7,119.2 160.7,119.3 161.7,119.6 162.7,119.7 163.7,119.7 164.6,119.8 165.6,120.1 166.6,120 167.6,119.9 168.6,120.4 169.5,120.3 170.5,120.4 171.5,120.6 172.5,120.5 173.5,120.6 174.4,120.5 175.4,120.6 176.4,120.8" fill="none" stroke="#4cbb7c" stroke-width="0.94" stroke-linejoin="round"/>
<polyline points="0,107.2 1,106.6 2,106 2.9,105.4 3.9,104.6 4.9,103.9 5.9,103 6.9,102.2 7.8,101.3 8.8,100.3 9.8,99.3 10.8,98.3 11.8,97.3 12.7,96.2 13.7,95.1 14.7,93.9 15.7,92.6 16.7,91.2 17.6,89.7 18.6,88.2 19.6,86.6 20.6,85 21.6,83.4 22.5,81.8 23.5,80.2 24.5,78.6 25.5,77 26.5,75.4 27.4,73.7 28.4,71.9 29.4,70.2 30.4,68.4 31.4,66.7 32.3,65 33.3,63.3 34.3,61.6 35.3,60 36.3,58.3 37.2,56.6 38.2,54.9 39.2,53.3 40.2,51.8 41.2,50.4 42.1,49.2 43.1,48.2 44.1,47.2 45.1,46.2 46.1,45.3 47,44.5 48,43.8 49,43.3 50,42.9 51,42.9 51.9,42.5 52.9,42.5 53.9,41.5 54.9,40.7 55.9,40.5 56.8,41.1 57.8,41.6 58.8,42.2 59.8,41.2 60.8,37.5 61.7,36.7 62.7,35.8 63.7,36.4 64.7,31.3 65.7,29.3 66.6,29 67.6,30.1 68.6,30.7 69.6,30.1 70.6,27.5 71.5,23.7 72.5,21.8 73.5,21.3 74.5,20.4 75.5,19.3 76.4,17.7 77.4,18 78.4,16.7 79.4,16.9 80.4,16.5 81.3,17.7 82.3,17.8 83.3,18.1 84.3,19.2 85.3,20.6 86.2,21.6 87.2,22.9 88.2,24.6 89.2,25.5 90.2,27.5 91.1,29.1 92.1,31.4 93.1,33.9 94.1,37 95.1,38.7 96,40.1 97,42.1 98,43.6 99,45.4 100,47.5 100.9,49.4 101.9,51.3 102.9,53.2 103.9,55.2 104.9,57.1 105.8,59.1 106.8,61.2 107.8,63.2 108.8,65.3 109.8,67.3 110.7,69.3 111.7,71.2 112.7,73.1 113.7,75 114.7,76.7 115.6,78.3 116.6,79.9 117.6,81.4 118.6,82.9 119.6,84.4 120.5,85.8 121.5,87.2 122.5,88.6 123.5,89.9 124.5,91.2 125.4,92.4 126.4,93.6 127.4,94.8 128.4,95.9 129.4,96.9 130.3,97.9 131.3,98.9 132.3,99.8 133.3,100.8 134.3,101.7 135.2,102.5 136.2,103.4 137.2,104.2 138.2,105 139.2,105.8 140.1,106.5 141.1,107.2 142.1,107.8 143.1,108.4 144.1,109 145,109.5 146,110 147,110.5 148,111 149,111.4 149.9,111.9 150.9,112.3 151.9,112.7 152.9,113.1 153.9,113.5 154.8,113.8 155.8,114.2 156.8,114.5 157.8,114.8 158.8,115.1 159.7,115.4 160.7,115.7 161.7,116 162.7,116.3 163.7,116.6 164.6,116.8 165.6,117.1 166.6,117.4 167.6,117.6 168.6,117.8 169.5,118.1 170.5,118.3 171.5,118.5 172.5,118.7 173.5,118.9 174.4,119.1 175.4,119.2 176.4,119.4" fill="none" stroke="#5a5a5a" stroke-width="0.98" stroke-linejoin="round"/>
<polyline points="0,109.1 1,108.5 2,107.9 2.9,107.2 3.9,106.5 4.9,105.7 5.9,104.9 6.9,104 7.8,103.1 8.8,102.1 9.8,101.1 10.8,100.1 11.8,99 12.7,97.9 13.7,96.8 14.7,95.5 15.7,94.2 16.7,92.7 17.6,91.2 18.6,89.7 19.6,88.1 20.6,86.4 21.6,84.8 22.5,83.1 23.5,81.5 24.5,79.8 25.5,78.2 26.5,76.5 27.4,74.7 28.4,73 29.4,71.2 30.4,69.4 31.4,67.6 32.3,65.8 33.3,64.1 34.3,62.4 35.3,60.8 36.3,59.1 37.2,57.4 38.2,55.8 39.2,54.2 40.2,52.8 41.2,51.5 42.1,50.5 43.1,49.6 44.1,48.8 45.1,48 46.1,47.5 47,47.3 48,47.4 49,47.4 50,47.6 51,47.7 51.9,48.2 52.9,47.9 53.9,48.7 54.9,49.3 55.9,49.7 56.8,49 57.8,48.2 58.8,48 59.8,50.1 60.8,50.8 61.7,52.7 62.7,51.8 63.7,52.2 64.7,51 65.7,49.4 66.6,47.7 67.6,46.4 68.6,45.8 69.6,45.2 70.6,44.2 71.5,44.5 72.5,45 73.5,43.7 74.5,43.3 75.5,41.9 76.4,41 77.4,40.2 78.4,39 79.4,38.4 80.4,39.1 81.3,38.4 82.3,38.4 83.3,37.5 84.3,37.7 85.3,37.2 86.2,37.8 87.2,39 88.2,40.1 89.2,41 90.2,42.6 91.1,43.3 92.1,44.2 93.1,45.6 94.1,46.1 95.1,46.8 96,47.4 97,48.6 98,49.4 99,50.3 100,51.3 100.9,52.4 101.9,53.5 102.9,54.7 103.9,56.1 104.9,57.8 105.8,59.6 106.8,61.6 107.8,63.8 108.8,66 109.8,68.4 110.7,70.7 111.7,73 112.7,75.2 113.7,77.4 114.7,79.4 115.6,81.2 116.6,82.9 117.6,84.5 118.6,86.1 119.6,87.7 120.5,89.2 121.5,90.7 122.5,92.2 123.5,93.6 124.5,94.9 125.4,96.2 126.4,97.4 127.4,98.6 128.4,99.6 129.4,100.7 130.3,101.7 131.3,102.7 132.3,103.6 133.3,104.6 134.3,105.5 135.2,106.4 136.2,107.2 137.2,108 138.2,108.8 139.2,109.6 140.1,110.3 141.1,111 142.1,111.6 143.1,112.2 144.1,112.8 145,113.3 146,113.8 147,114.3 148,114.8 149,115.2 149.9,115.7 150.9,116.1 151.9,116.5 152.9,116.9 153.9,117.3 154.8,117.6 155.8,118 156.8,118.3 157.8,118.6 158.8,118.9 159.7,119.2 160.7,119.5 161.7,119.8 162.7,120.1 163.7,120.4 164.6,120.6 165.6,120.9 166.6,121.2 167.6,121.4 168.6,121.6 169.5,121.9 170.5,122.1 171.5,122.3 172.5,122.5 173.5,122.7 174.4,122.9 175.4,123 176.4,123.2" fill="none" stroke="#4cbb7c" stroke-width="0.98" stroke-linejoin="round"/>
<polyline points="0,104 1,103.3 2,102.6 2.9,101.8 3.9,100.9 4.9,100 5.9,99.1 6.9,98.1 7.8,97.1 8.8,96.1 9.8,95 10.8,93.9 11.8,92.8 12.7,91.6 13.7,90.4 14.7,89.1 15.7,87.7 16.7,86.3 17.6,84.8 18.6,83.3 19.6,81.7 20.6,80.2 21.6,78.6 22.5,77 23.5,75.4 24.5,73.8 25.5,72.3 26.5,70.7 27.4,69.1 28.4,67.4 29.4,65.8 30.4,64.2 31.4,62.5 32.3,60.9 33.3,59.3 34.3,57.8 35.3,56.2 36.3,54.6 37.2,53 38.2,51.3 39.2,49.8 40.2,48.4 41.2,47.2 42.1,46.2 43.1,45.5 44.1,44.7 45.1,44 46.1,43.4 47,42.8 48,42.5 49,42.3 50,42.1 51,42.2 51.9,42 52.9,41.4 53.9,41.6 54.9,42.1 55.9,42.2 56.8,42.8 57.8,42.3 58.8,42.2 59.8,42.2 60.8,38.6 61.7,35.4 62.7,38.4 63.7,39.4 64.7,36.4 65.7,31.1 66.6,30.1 67.6,30.7 68.6,32.4 69.6,30.8 70.6,27.6 71.5,25.7 72.5,25.8 73.5,24.7 74.5,24 75.5,23.2 76.4,23 77.4,24.3 78.4,24.3 79.4,26.1 80.4,24 81.3,24.1 82.3,22.5 83.3,23.4 84.3,23.6 85.3,24.1 86.2,24.8 87.2,25.8 88.2,26.5 89.2,28.4 90.2,31 91.1,32.5 92.1,33.7 93.1,34.6 94.1,35.9 95.1,38.2 96,39.5 97,41.5 98,43.7 99,45.4 100,47.2 100.9,49.1 101.9,50.9 102.9,52.8 103.9,54.8 104.9,56.8 105.8,58.8 106.8,60.9 107.8,63 108.8,65.1 109.8,67.2 110.7,69.3 111.7,71.3 112.7,73.2 113.7,75.1 114.7,76.9 115.6,78.6 116.6,80.2 117.6,81.8 118.6,83.4 119.6,84.9 120.5,86.4 121.5,87.8 122.5,89.2 123.5,90.5 124.5,91.8 125.4,93.1 126.4,94.3 127.4,95.4 128.4,96.5 129.4,97.5 130.3,98.5 131.3,99.5 132.3,100.4 133.3,101.4 134.3,102.3 135.2,103.2 136.2,104 137.2,104.8 138.2,105.6 139.2,106.4 140.1,107.1 141.1,107.8 142.1,108.4 143.1,109.1 144.1,109.6 145,110.1 146,110.7 147,111.1 148,111.6 149,112.1 149.9,112.5 150.9,112.9 151.9,113.3 152.9,113.7 153.9,114.1 154.8,114.4 155.8,114.8 156.8,115.1 157.8,115.4 158.8,115.8 159.7,116.1 160.7,116.4 161.7,116.6 162.7,116.9 163.7,117.2 164.6,117.5 165.6,117.7 166.6,118 167.6,118.2 168.6,118.5 169.5,118.7 170.5,118.9 171.5,119.1 172.5,119.3 173.5,119.5 174.4,119.7 175.4,119.9 176.4,120" fill="none" stroke="#f25a5a" stroke-width="0.98" stroke-linejoin="round"/>
<polyline points="0,105.3 1,104.7 2,104 2.9,103.3 3.9,102.5 4.9,101.7 5.9,100.8 6.9,99.9 7.8,98.9 8.8,98 9.8,96.9 10.8,95.9 11.8,94.8 12.7,93.7 13.7,92.5 14.7,91.3 15.7,89.9 16.7,88.5 17.6,87 18.6,85.5 19.6,83.9 20.6,82.3 21.6,80.7 22.5,79.1 23.5,77.5 24.5,75.9 25.5,74.4 26.5,72.8 27.4,71.1 28.4,69.5 29.4,67.8 30.4,66.1 31.4,64.5 32.3,62.8 33.3,61.2 34.3,59.7 35.3,58.1 36.3,56.4 37.2,54.7 38.2,52.9 39.2,51.3 40.2,49.9 41.2,48.7 42.1,47.8 43.1,47.1 44.1,46.5 45.1,45.9 46.1,45.4 47,45 48,44.7 49,44.5 50,44.6 51,44.7 51.9,44.3 52.9,44.1 53.9,44.9 54.9,44.1 55.9,45.2 56.8,44.3 57.8,44.4 58.8,43.7 59.8,46.1 60.8,47 61.7,44.2 62.7,44.4 63.7,46.8 64.7,44.8 65.7,40.8 66.6,38.3 67.6,38.9 68.6,41.3 69.6,42.4 70.6,41.5 71.5,40.1 72.5,38.3 73.5,36.3 74.5,35.9 75.5,35.3 76.4,34.9 77.4,34.5 78.4,34.7 79.4,35.4 80.4,34.7 81.3,34.3 82.3,33.9 83.3,33.9 84.3,32.6 85.3,33.2 86.2,33 87.2,34.1 88.2,34.3 89.2,35.4 90.2,36.5 91.1,38.3 92.1,39.9 93.1,40.5 94.1,42.2 95.1,43 96,44.4 97,45.8 98,47.7 99,49.2 100,50.6 100.9,51.9 101.9,53.1 102.9,54.3 103.9,55.8 104.9,57.5 105.8,59.3 106.8,61.3 107.8,63.4 108.8,65.5 109.8,67.7 110.7,69.8 111.7,72 112.7,74.1 113.7,76 114.7,77.9 115.6,79.6 116.6,81.2 117.6,82.7 118.6,84.3 119.6,85.7 120.5,87.2 121.5,88.6 122.5,90 123.5,91.3 124.5,92.6 125.4,93.9 126.4,95.1 127.4,96.2 128.4,97.3 129.4,98.3 130.3,99.3 131.3,100.3 132.3,101.2 133.3,102.2 134.3,103.1 135.2,104 136.2,104.8 137.2,105.6 138.2,106.4 139.2,107.2 140.1,107.9 141.1,108.6 142.1,109.2 143.1,109.8 144.1,110.4 145,110.9 146,111.4 147,111.9 148,112.4 149,112.9 149.9,113.3 150.9,113.7 151.9,114.1 152.9,114.5 153.9,114.9 154.8,115.2 155.8,115.6 156.8,115.9 157.8,116.2 158.8,116.5 159.7,116.8 160.7,117.1 161.7,117.4 162.7,117.7 163.7,118 164.6,118.3 165.6,118.5 166.6,118.8 167.6,119 168.6,119.3 169.5,119.5 170.5,119.7 171.5,119.9 172.5,120.1 173.5,120.3 174.4,120.5 175.4,120.7 176.4,120.8" fill="none" stroke="#3f7ef0" stroke-width="0.98" stroke-linejoin="round"/>
</g>
<g transform="translate(255.6,37.1) scale(0.98438,0.98958)">
<rect x="0" y="0" width="179.2" height="144" fill="none" stroke="#3a3a3a" stroke-width="1.3"/>
<path d="M0,136h1.6M0,128h2.8M0,120h1.6M0,112h2.8M0,104h1.6M0,96h2.8M0,88h1.6M0,80h2.8M0,72h1.6M0,64h2.8M0,56h1.6M0,48h2.8M0,40h1.6M0,32h2.8M0,24h1.6M0,16h2.8M0,8h1.6M19.91,144v-2.8M39.82,144v-1.6M59.73,144v-2.8M79.64,144v-1.6M99.56,144v-2.8M119.47,144v-1.6M139.38,144v-2.8M159.29,144v-1.6M179.2,128.92h-2.4M179.2,113.84h-2.4M179.2,98.76h-2.4M179.2,83.69h-2.4M179.2,68.61h-2.4M179.2,53.53h-2.4" stroke="#444" stroke-width="1" fill="none"/>
<g font-family="Liberation Serif, serif" font-size="6.8" fill="#555"><text transform="translate(-2.6,147.2) scale(1.0,1.12)" text-anchor="end">0</text><text transform="translate(-2.6,131.2) scale(1.0,1.12)" text-anchor="end">10</text><text transform="translate(-2.6,115.2) scale(1.0,1.12)" text-anchor="end">20</text><text transform="translate(-2.6,99.2) scale(1.0,1.12)" text-anchor="end">30</text><text transform="translate(-2.6,83.2) scale(1.0,1.12)" text-anchor="end">40</text><text transform="translate(-2.6,67.2) scale(1.0,1.12)" text-anchor="end">50</text><text transform="translate(-2.6,51.2) scale(1.0,1.12)" text-anchor="end">60</text><text transform="translate(-2.6,35.2) scale(1.0,1.12)" text-anchor="end">70</text><text transform="translate(-2.6,19.2) scale(1.0,1.12)" text-anchor="end">80</text><text transform="translate(-2.6,3.2) scale(1.0,1.12)" text-anchor="end">90</text><text transform="translate(181.8,146.3) scale(0.88,0.95)">−20</text><text transform="translate(181.8,131.22) scale(0.88,0.95)">0</text><text transform="translate(181.8,116.14) scale(0.88,0.95)">20</text><text transform="translate(181.8,101.06) scale(0.88,0.95)">40</text><text transform="translate(181.8,85.99) scale(0.88,0.95)">60</text><text transform="translate(181.8,70.91) scale(0.88,0.95)">80</text><text transform="translate(181.8,55.83) scale(0.88,0.95)">100</text><text transform="translate(19.91,153.1) scale(1,1.05)" text-anchor="middle">−20</text><text transform="translate(59.73,153.1) scale(1,1.05)" text-anchor="middle">0</text><text transform="translate(99.56,153.1) scale(1,1.05)" text-anchor="middle">20</text><text transform="translate(139.38,153.1) scale(1,1.05)" text-anchor="middle">40</text><text transform="translate(179.2,153.1) scale(1,1.05)" text-anchor="middle">60</text></g>
<text font-family="Liberation Serif, serif" font-size="6.85" fill="#222" stroke="#222" stroke-width="0.12" transform="translate(7.5,10.4) scale(1,1.05)">CN=53.9</text>
<g font-family="Liberation Serif, serif" font-size="6.8" fill="#1a1a1a" stroke="#1a1a1a" stroke-width="0.18"><path d="M126.6,7.9H142" stroke="#5a5a5a" stroke-width="1.1"/><text transform="translate(143.7,10.7) scale(1.0,1.12)">0% EGR</text><path d="M126.6,17.1H142" stroke="#f25a5a" stroke-width="1.1"/><text transform="translate(143.7,19.9) scale(1.0,1.12)">10% EGR</text><path d="M126.6,26.3H142" stroke="#3f7ef0" stroke-width="1.1"/><text transform="translate(143.7,29.1) scale(1.0,1.12)">20% EGR</text><path d="M126.6,35.5H142" stroke="#4cbb7c" stroke-width="1.1"/><text transform="translate(143.7,38.3) scale(1.0,1.12)">30% EGR</text></g>
<path d="M16,40.5H36.9" stroke="#333" stroke-width="1"/><path d="M13,40.5l4.2,-1.8v3.6z" fill="#333"/>
<path d="M102.1,97.6H121.6" stroke="#333" stroke-width="1"/><path d="M124.6,97.6l-4.2,-1.8v3.6z" fill="#333"/>
<text font-family="Liberation Serif, serif" font-size="9.75" fill="#2a2a2a" stroke="#2a2a2a" stroke-width="0.25" x="89.3" y="166" text-anchor="middle">Cank angle/°CA ATDC</text>
</g>
<text font-family="Liberation Serif, serif" font-size="9.47" fill="#2a2a2a" stroke="#2a2a2a" stroke-width="0.25" text-anchor="middle" textLength="77.3" lengthAdjust="spacingAndGlyphs" transform="translate(240.34,106.3) rotate(-90)">Cylinder pressure/bar</text>
<text font-family="Liberation Serif, serif" font-size="9.18" fill="#2a2a2a" stroke="#2a2a2a" stroke-width="0.25" text-anchor="middle" textLength="105.8" lengthAdjust="spacingAndGlyphs" transform="translate(454.33,112.2) rotate(-90)">Cylinder heat rate/kJ·(m<tspan font-size="7.3" dy="-3.85">3</tspan><tspan dy="3.85">·CA)</tspan><tspan font-size="7.5" dy="-4.15">-1</tspan></text>
<g transform="translate(484.8,37.1)">
<polyline points="0,127.8 1,127.8 1.9,127.8 2.9,127.9 3.9,127.9 4.9,127.9 5.8,128 6.8,128 7.8,128 8.8,128.1 9.7,128.1 10.7,128.1 11.7,128.2 12.6,128.2 13.6,128.2 14.6,128.3 15.6,128.4 16.5,128.5 17.5,128.6 18.5,128.5 19.5,128.5 20.4,128.5 21.4,128.5 22.4,128.5 23.3,128.4 24.3,128.4 25.3,128.4 26.3,128.4 27.2,128.4 28.2,128.3 29.2,128.3 30.2,128.3 31.1,128.3 32.1,128.3 33.1,128.2 34,128.2 35,128.2 36,128.2 37,128.2 37.9,128.1 38.9,128.1 39.9,128.1 40.9,128.1 41.8,128.1 42.8,128 43.8,128 44.7,128 45.7,128 46.7,128 47.7,127.9 48.6,127.9 49.6,127.9 50.6,127.9 51.6,127.9 52.5,127.8 53.5,127.8 54.5,127.8 55.4,127.8 56.4,121.7 57.4,114.1 58.4,106.6 59.3,101.6 60.3,98.1 61.3,95.4 62.3,94 63.2,91.9 64.2,90.2 65.2,89.2 66.1,87.2 67.1,85.7 68.1,83.4 69.1,81.6 70,79.4 71,76.5 72,74.7 73,71.9 73.9,68.8 74.9,65.9 75.9,65.8 76.8,67.5 77.8,70.4 78.8,72.4 79.8,76.1 80.7,79 81.7,81.6 82.7,84.5 83.7,86.9 84.6,89.7 85.6,91.8 86.6,93.9 87.5,96.6 88.5,98.3 89.5,100.4 90.5,101.3 91.4,102.1 92.4,102.7 93.4,104.4 94.4,104.7 95.3,106.6 96.3,107.5 97.3,108.1 98.3,107.8 99.2,108.5 100.2,108.8 101.2,109.5 102.1,109.8 103.1,110.3 104.1,111 105.1,111.3 106,111.8 107,112.4 108,112.9 109,113.3 109.9,113.2 110.9,113.5 111.9,113.9 112.8,114.2 113.8,114.9 114.8,115.2 115.8,115.3 116.7,116 117.7,116.1 118.7,116.2 119.7,116.7 120.6,117 121.6,117.3 122.6,117.9 123.5,117.9 124.5,117.8 125.5,117.8 126.5,118.2 127.4,118.4 128.4,118.8 129.4,118.9 130.4,119 131.3,119.1 132.3,119.4 133.3,119.5 134.2,119.7 135.2,120 136.2,120.2 137.2,120.5 138.1,120.6 139.1,120.7 140.1,120.8 141.1,121.1 142,121.1 143,121.3 144,121.3 144.9,121.4 145.9,121.6 146.9,121.7 147.9,121.7 148.8,121.9 149.8,121.8 150.8,121.6 151.8,121.5 152.7,121.7 153.7,121.8 154.7,122.1 155.6,122.2 156.6,122.1 157.6,122.3 158.6,122.2 159.5,122.5 160.5,122.5 161.5,122.6 162.5,122.3 163.4,122.4 164.4,122.3 165.4,122.7 166.3,122.8 167.3,122.8 168.3,122.7 169.3,122.8 170.2,122.9 171.2,122.9 172.2,123.3 173.2,123.2 174.1,123.5 175.1,123.3" fill="none" stroke="#5a5a5a" stroke-width="0.93" stroke-linejoin="round"/>
<polyline points="0,127.8 1,127.8 1.9,127.8 2.9,127.9 3.9,127.9 4.9,127.9 5.8,128 6.8,128 7.8,128 8.8,128.1 9.7,128.1 10.7,128.1 11.7,128.2 12.6,128.2 13.6,128.2 14.6,128.3 15.6,128.4 16.5,128.5 17.5,128.6 18.5,128.5 19.5,128.5 20.4,128.5 21.4,128.5 22.4,128.5 23.3,128.4 24.3,128.4 25.3,128.4 26.3,128.4 27.2,128.4 28.2,128.4 29.2,128.3 30.2,128.3 31.1,128.3 32.1,128.3 33.1,128.3 34,128.2 35,128.2 36,128.2 37,128.2 37.9,128.2 38.9,128.2 39.9,128.1 40.9,128.1 41.8,128.1 42.8,128.1 43.8,128.1 44.7,128 45.7,128 46.7,128 47.7,128 48.6,128 49.6,128 50.6,127.9 51.6,127.9 52.5,127.9 53.5,127.9 54.5,127.9 55.4,127.8 56.4,127.8 57.4,127.8 58.4,127.8 59.3,127.8 60.3,119.6 61.3,111.5 62.3,105.3 63.2,101.7 64.2,98.4 65.2,95.8 66.1,94.2 67.1,91.4 68.1,89.3 69.1,87.3 70,85 71,82.2 72,79.5 73,76.2 73.9,74.1 74.9,72.6 75.9,70.7 76.8,69 77.8,70 78.8,72.2 79.8,74.6 80.7,76.6 81.7,79.2 82.7,81.5 83.7,84.5 84.6,88.1 85.6,90.1 86.6,92.2 87.5,95.2 88.5,96.8 89.5,98.2 90.5,100.4 91.4,100.8 92.4,102.2 93.4,103 94.4,103.6 95.3,104.6 96.3,105.2 97.3,106.9 98.3,107.2 99.2,107.6 100.2,108.4 101.2,108.8 102.1,108.4 103.1,109.8 104.1,110.1 105.1,110.5 106,111.2 107,111.3 108,111.4 109,111.6 109.9,112.4 110.9,112.6 111.9,112.8 112.8,113 113.8,113.4 114.8,113.7 115.8,114.4 116.7,115 117.7,115.3 118.7,115.5 119.7,116.1 120.6,116.3 121.6,116.4 122.6,116.5 123.5,117 124.5,117.2 125.5,117.4 126.5,117.6 127.4,117.6 128.4,117.7 129.4,117.9 130.4,118.3 131.3,118.6 132.3,118.8 133.3,118.6 134.2,118.9 135.2,119 136.2,119.4 137.2,119.7 138.1,120 139.1,120.2 140.1,120.2 141.1,120.5 142,120.6 143,120.9 144,120.8 144.9,121.1 145.9,121 146.9,121.1 147.9,121.3 148.8,121.1 149.8,121.1 150.8,121.1 151.8,121 152.7,121.4 153.7,121.7 154.7,121.7 155.6,121.7 156.6,121.9 157.6,121.9 158.6,122 159.5,122 160.5,122.1 161.5,122.1 162.5,122.3 163.4,122.2 164.4,122.5 165.4,122.3 166.3,122.6 167.3,122.6 168.3,122.4 169.3,122.2 170.2,122.4 171.2,122.7 172.2,122.6 173.2,123 174.1,123.2 175.1,123.3" fill="none" stroke="#f25a5a" stroke-width="0.93" stroke-linejoin="round"/>
<polyline points="0,127.8 1,127.8 1.9,127.8 2.9,127.9 3.9,127.9 4.9,127.9 5.8,128 6.8,128 7.8,128 8.8,128.1 9.7,128.1 10.7,128.1 11.7,128.2 12.6,128.2 13.6,128.2 14.6,128.3 15.6,128.4 16.5,128.5 17.5,128.6 18.5,128.5 19.5,128.5 20.4,128.5 21.4,128.5 22.4,128.5 23.3,128.5 24.3,128.4 25.3,128.4 26.3,128.4 27.2,128.4 28.2,128.4 29.2,128.4 30.2,128.3 31.1,128.3 32.1,128.3 33.1,128.3 34,128.3 35,128.3 36,128.2 37,128.2 37.9,128.2 38.9,128.2 39.9,128.2 40.9,128.2 41.8,128.1 42.8,128.1 43.8,128.1 44.7,128.1 45.7,128.1 46.7,128.1 47.7,128 48.6,128 49.6,128 50.6,128 51.6,128 52.5,128 53.5,127.9 54.5,127.9 55.4,127.9 56.4,127.9 57.4,127.9 58.4,127.9 59.3,127.8 60.3,127.8 61.3,127.8 62.3,127.8 63.2,127.8 64.2,121.8 65.2,114.3 66.1,107.3 67.1,102 68.1,100.5 69.1,98.9 70,98.3 71,96.4 72,94.6 73,91.9 73.9,90 74.9,87.2 75.9,84.5 76.8,82.3 77.8,79 78.8,75.8 79.8,73.7 80.7,71.8 81.7,71.2 82.7,73.6 83.7,76.5 84.6,78.1 85.6,81.4 86.6,84.3 87.5,88.1 88.5,90.9 89.5,93.1 90.5,96.5 91.4,98.1 92.4,99.1 93.4,100.1 94.4,101.8 95.3,103.1 96.3,104.1 97.3,105.5 98.3,105.7 99.2,105.1 100.2,106.5 101.2,106.9 102.1,108.5 103.1,108.9 104.1,108.8 105.1,109.4 106,109.8 107,110.2 108,110.5 109,111.4 109.9,111.9 110.9,111.7 111.9,112.2 112.8,112.9 113.8,113 114.8,113.5 115.8,113.3 116.7,113.8 117.7,114.3 118.7,114.3 119.7,114.7 120.6,115.1 121.6,115.2 122.6,115.4 123.5,115.7 124.5,116.1 125.5,116.5 126.5,116.7 127.4,116.8 128.4,116.6 129.4,117.2 130.4,117.3 131.3,117.8 132.3,117.7 133.3,117.8 134.2,117.9 135.2,118 136.2,118.1 137.2,118.2 138.1,118.6 139.1,118.8 140.1,119.4 141.1,119.6 142,119.7 143,120 144,120 144.9,120.1 145.9,120.1 146.9,120.3 147.9,120.3 148.8,120.3 149.8,120.3 150.8,120.2 151.8,120.2 152.7,120.3 153.7,120.3 154.7,120.6 155.6,120.6 156.6,120.7 157.6,120.6 158.6,120.6 159.5,120.7 160.5,120.9 161.5,120.9 162.5,121.4 163.4,121.6 164.4,121.4 165.4,121.4 166.3,121.3 167.3,121.7 168.3,121.6 169.3,122 170.2,121.8 171.2,121.7 172.2,121.8 173.2,121.9 174.1,122.1 175.1,122" fill="none" stroke="#3f7ef0" stroke-width="0.93" stroke-linejoin="round"/>
<polyline points="0,127.8 1,127.8 1.9,127.8 2.9,127.9 3.9,127.9 4.9,127.9 5.8,128 6.8,128 7.8,128 8.8,128.1 9.7,128.1 10.7,128.1 11.7,128.2 12.6,128.2 13.6,128.2 14.6,128.3 15.6,128.4 16.5,128.5 17.5,128.6 18.5,128.5 19.5,128.5 20.4,128.5 21.4,128.5 22.4,128.5 23.3,128.5 24.3,128.5 25.3,128.4 26.3,128.4 27.2,128.4 28.2,128.4 29.2,128.4 30.2,128.4 31.1,128.3 32.1,128.3 33.1,128.3 34,128.3 35,128.3 36,128.3 37,128.3 37.9,128.2 38.9,128.2 39.9,128.2 40.9,128.2 41.8,128.2 42.8,128.2 43.8,128.1 44.7,128.1 45.7,128.1 46.7,128.1 47.7,128.1 48.6,128.1 49.6,128.1 50.6,128 51.6,128 52.5,128 53.5,128 54.5,128 55.4,128 56.4,128 57.4,127.9 58.4,127.9 59.3,127.9 60.3,127.9 61.3,127.9 62.3,127.9 63.2,127.8 64.2,127.8 65.2,127.8 66.1,127.8 67.1,127.8 68.1,124.6 69.1,116.8 70,108.9 71,106.1 72,104.4 73,103.8 73.9,102.1 74.9,99.7 75.9,96.9 76.8,94.9 77.8,91.7 78.8,89.5 79.8,86.8 80.7,84.4 81.7,82.1 82.7,79.9 83.7,76.9 84.6,75.3 85.6,77.4 86.6,80.1 87.5,81.9 88.5,84.9 89.5,87.7 90.5,91.3 91.4,93.1 92.4,95.6 93.4,98 94.4,99.4 95.3,100.2 96.3,101.6 97.3,102.4 98.3,102.9 99.2,104.1 100.2,104.2 101.2,105.7 102.1,106.1 103.1,106.9 104.1,107.3 105.1,107.9 106,108 107,108.2 108,108.2 109,108.9 109.9,109.7 110.9,110.5 111.9,110.8 112.8,111.4 113.8,111.6 114.8,111.9 115.8,112.5 116.7,112.9 117.7,113.4 118.7,113.8 119.7,114.1 120.6,114.3 121.6,114.7 122.6,114.8 123.5,115.3 124.5,115.9 125.5,116.5 126.5,116.6 127.4,116.9 128.4,117.2 129.4,117.5 130.4,118.1 131.3,118.2 132.3,118.7 133.3,119 134.2,119.4 135.2,119.2 136.2,119.4 137.2,119.4 138.1,119.6 139.1,119.6 140.1,119.8 141.1,120.1 142,120.1 143,120.5 144,120.3 144.9,120.2 145.9,120.5 146.9,120.5 147.9,120.5 148.8,120.8 149.8,121 150.8,121.1 151.8,121.2 152.7,121.3 153.7,121.3 154.7,121.3 155.6,121.5 156.6,121.7 157.6,121.6 158.6,121.6 159.5,122 160.5,121.8 161.5,121.6 162.5,121.6 163.4,121.7 164.4,121.7 165.4,121.9 166.3,121.9 167.3,122.1 168.3,122 169.3,121.9 170.2,121.8 171.2,122.2 172.2,122 173.2,122.2 174.1,122.1 175.1,122.1" fill="none" stroke="#4cbb7c" stroke-width="0.93" stroke-linejoin="round"/>
<polyline points="0,107.5 1,106.7 1.9,105.8 2.9,104.9 3.9,104 4.9,103.1 5.8,102.1 6.8,101.1 7.8,100 8.8,99 9.7,97.9 10.7,96.8 11.7,95.7 12.6,94.5 13.6,93.3 14.6,92.1 15.6,90.8 16.5,89.5 17.5,88.2 18.5,86.8 19.5,85.4 20.4,83.9 21.4,82.3 22.4,80.6 23.3,78.8 24.3,77 25.3,75.3 26.3,73.5 27.2,71.8 28.2,70 29.2,68.3 30.2,66.7 31.1,65.2 32.1,63.7 33.1,62.3 34,61 35,59.7 36,58.6 37,57.6 37.9,56.6 38.9,55.5 39.9,54.5 40.9,53.3 41.8,51.9 42.8,50.6 43.8,49.2 44.7,48.1 45.7,47.1 46.7,46.1 47.7,45.2 48.6,44.4 49.6,43.5 50.6,43 51.6,42.5 52.5,41.7 53.5,41.8 54.5,40.9 55.4,41.7 56.4,40 57.4,40.2 58.4,39 59.3,38.5 60.3,39 61.3,38.4 62.3,35.9 63.2,32.8 64.2,29.7 65.2,28.1 66.1,30.7 67.1,31.9 68.1,28.9 69.1,26.4 70,24.4 71,24.7 72,24 73,23 73.9,20.6 74.9,19.5 75.9,19.4 76.8,18.4 77.8,18.4 78.8,17.4 79.8,17.6 80.7,17.6 81.7,18.6 82.7,19.9 83.7,20.7 84.6,22 85.6,23.1 86.6,23.6 87.5,24.6 88.5,26.4 89.5,29 90.5,32 91.4,33.6 92.4,34.5 93.4,36.6 94.4,39.2 95.3,41.2 96.3,43.3 97.3,45.3 98.3,46.9 99.2,48.9 100.2,50.8 101.2,52.7 102.1,54.6 103.1,56.4 104.1,58.1 105.1,59.9 106,61.5 107,63.1 108,64.5 109,66 109.9,67.4 110.9,68.8 111.9,70.1 112.8,71.4 113.8,72.7 114.8,73.9 115.8,75.1 116.7,76.3 117.7,77.5 118.7,78.7 119.7,79.8 120.6,80.9 121.6,82.1 122.6,83.2 123.5,84.3 124.5,85.4 125.5,86.5 126.5,87.6 127.4,88.7 128.4,89.8 129.4,90.9 130.4,92 131.3,93 132.3,94 133.3,95 134.2,96 135.2,97 136.2,97.9 137.2,98.9 138.1,99.7 139.1,100.6 140.1,101.4 141.1,102.2 142,102.9 143,103.7 144,104.3 144.9,105 145.9,105.6 146.9,106.2 147.9,106.8 148.8,107.4 149.8,108 150.8,108.5 151.8,109 152.7,109.6 153.7,110.1 154.7,110.5 155.6,111 156.6,111.5 157.6,111.9 158.6,112.3 159.5,112.7 160.5,113.1 161.5,113.5 162.5,113.9 163.4,114.3 164.4,114.6 165.4,115 166.3,115.3 167.3,115.7 168.3,116 169.3,116.3 170.2,116.6 171.2,116.9 172.2,117.2 173.2,117.4 174.1,117.7 175.1,117.9" fill="none" stroke="#5a5a5a" stroke-width="0.98" stroke-linejoin="round"/>
<polyline points="0,111.3 1,110.4 1.9,109.5 2.9,108.5 3.9,107.6 4.9,106.6 5.8,105.5 6.8,104.4 7.8,103.4 8.8,102.2 9.7,101.1 10.7,100 11.7,98.8 12.6,97.5 13.6,96.3 14.6,95 15.6,93.7 16.5,92.3 17.5,90.9 18.5,89.5 19.5,88.1 20.4,86.6 21.4,85 22.4,83.3 23.3,81.6 24.3,79.8 25.3,78 26.3,76.3 27.2,74.5 28.2,72.7 29.2,71.1 30.2,69.5 31.1,67.9 32.1,66.2 33.1,64.5 34,62.9 35,61.2 36,59.7 37,58.3 37.9,57 38.9,55.8 39.9,54.9 40.9,54.1 41.8,53.5 42.8,53 43.8,52.4 44.7,51.9 45.7,51.4 46.7,50.8 47.7,50.2 48.6,49.6 49.6,49 50.6,48.5 51.6,48.2 52.5,48 53.5,48.2 54.5,49.1 55.4,49.2 56.4,48.1 57.4,47.4 58.4,46 59.3,46.8 60.3,47.7 61.3,47.8 62.3,47.1 63.2,46.5 64.2,45.9 65.2,46 66.1,48 67.1,51.1 68.1,52 69.1,49.5 70,47.1 71,45.5 72,44 73,42.2 73.9,42.1 74.9,41 75.9,40.7 76.8,39.9 77.8,39.7 78.8,39 79.8,38.1 80.7,37.1 81.7,37.9 82.7,37 83.7,36.8 84.6,37.2 85.6,38.6 86.6,39.2 87.5,41.1 88.5,41.6 89.5,42.5 90.5,43.4 91.4,45.8 92.4,47.8 93.4,48.8 94.4,48.1 95.3,47.6 96.3,46.8 97.3,46.8 98.3,47.2 99.2,48.3 100.2,49.9 101.2,51.9 102.1,54.1 103.1,56.6 104.1,59 105.1,61.4 106,63.6 107,65.5 108,67.1 109,68.6 109.9,70.1 110.9,71.6 111.9,73 112.8,74.4 113.8,75.7 114.8,77.1 115.8,78.4 116.7,79.6 117.7,80.9 118.7,82.1 119.7,83.3 120.6,84.5 121.6,85.7 122.6,86.8 123.5,87.9 124.5,89 125.5,90.1 126.5,91.2 127.4,92.3 128.4,93.4 129.4,94.5 130.4,95.6 131.3,96.6 132.3,97.6 133.3,98.6 134.2,99.6 135.2,100.6 136.2,101.5 137.2,102.5 138.1,103.3 139.1,104.2 140.1,105 141.1,105.8 142,106.5 143,107.3 144,107.9 144.9,108.6 145.9,109.2 146.9,109.8 147.9,110.4 148.8,111 149.8,111.6 150.8,112.1 151.8,112.7 152.7,113.2 153.7,113.7 154.7,114.1 155.6,114.6 156.6,115.1 157.6,115.5 158.6,115.9 159.5,116.3 160.5,116.7 161.5,117.1 162.5,117.5 163.4,117.9 164.4,118.2 165.4,118.6 166.3,118.9 167.3,119.3 168.3,119.6 169.3,119.9 170.2,120.2 171.2,120.5 172.2,120.8 173.2,121 174.1,121.3 175.1,121.5" fill="none" stroke="#4cbb7c" stroke-width="0.98" stroke-linejoin="round"/>
<polyline points="0,108.5 1,107.6 1.9,106.8 2.9,105.8 3.9,104.9 4.9,103.9 5.8,102.9 6.8,101.9 7.8,100.9 8.8,99.8 9.7,98.7 10.7,97.6 11.7,96.4 12.6,95.3 13.6,94.1 14.6,92.8 15.6,91.6 16.5,90.3 17.5,88.9 18.5,87.5 19.5,86.1 20.4,84.6 21.4,83 22.4,81.2 23.3,79.4 24.3,77.6 25.3,75.9 26.3,74.1 27.2,72.4 28.2,70.6 29.2,68.9 30.2,67.3 31.1,65.7 32.1,64.3 33.1,62.8 34,61.5 35,60.2 36,59.1 37,58 37.9,57 38.9,56 39.9,54.9 40.9,53.7 41.8,52.3 42.8,50.9 43.8,49.6 44.7,48.5 45.7,47.7 46.7,47 47.7,46.3 48.6,45.7 49.6,45.1 50.6,44.4 51.6,44.3 52.5,43.9 53.5,43.7 54.5,43.7 55.4,43.4 56.4,42.6 57.4,41.6 58.4,41.7 59.3,41.9 60.3,41.5 61.3,40.3 62.3,39.1 63.2,36.1 64.2,33.5 65.2,33.6 66.1,36 67.1,38 68.1,35 69.1,31.5 70,28.4 71,28.2 72,28.3 73,28.2 73.9,27.7 74.9,27.1 75.9,27.1 76.8,26.1 77.8,25 78.8,24.7 79.8,23.3 80.7,23 81.7,23 82.7,23.7 83.7,24.5 84.6,24.8 85.6,26.1 86.6,27.6 87.5,28.3 88.5,29.9 89.5,30.3 90.5,32.2 91.4,34.2 92.4,35.6 93.4,37.3 94.4,39.2 95.3,41.5 96.3,43.5 97.3,45.1 98.3,47.2 99.2,49 100.2,50.9 101.2,52.8 102.1,54.8 103.1,56.7 104.1,58.5 105.1,60.3 106,62.1 107,63.7 108,65.2 109,66.7 109.9,68.2 110.9,69.6 111.9,71 112.8,72.4 113.8,73.7 114.8,75 115.8,76.3 116.7,77.5 117.7,78.8 118.7,80 119.7,81.2 120.6,82.3 121.6,83.5 122.6,84.6 123.5,85.7 124.5,86.8 125.5,87.9 126.5,89 127.4,90.1 128.4,91.2 129.4,92.3 130.4,93.4 131.3,94.4 132.3,95.4 133.3,96.5 134.2,97.4 135.2,98.4 136.2,99.3 137.2,100.3 138.1,101.1 139.1,102 140.1,102.8 141.1,103.6 142,104.4 143,105.1 144,105.7 144.9,106.4 145.9,107 146.9,107.6 147.9,108.2 148.8,108.8 149.8,109.4 150.8,109.9 151.8,110.5 152.7,111 153.7,111.5 154.7,112 155.6,112.4 156.6,112.9 157.6,113.3 158.6,113.7 159.5,114.1 160.5,114.5 161.5,114.9 162.5,115.3 163.4,115.7 164.4,116 165.4,116.4 166.3,116.7 167.3,117.1 168.3,117.4 169.3,117.7 170.2,118 171.2,118.3 172.2,118.6 173.2,118.8 174.1,119.1 175.1,119.3" fill="none" stroke="#f25a5a" stroke-width="0.98" stroke-linejoin="round"/>
<polyline points="0,108 1,107.2 1.9,106.3 2.9,105.5 3.9,104.5 4.9,103.6 5.8,102.6 6.8,101.6 7.8,100.6 8.8,99.6 9.7,98.5 10.7,97.4 11.7,96.3 12.6,95.1 13.6,94 14.6,92.8 15.6,91.5 16.5,90.2 17.5,88.9 18.5,87.5 19.5,86.1 20.4,84.7 21.4,83.1 22.4,81.4 23.3,79.6 24.3,77.8 25.3,76.1 26.3,74.4 27.2,72.6 28.2,70.9 29.2,69.2 30.2,67.6 31.1,66.1 32.1,64.6 33.1,63.2 34,61.9 35,60.7 36,59.5 37,58.5 37.9,57.5 38.9,56.5 39.9,55.4 40.9,54.2 41.8,52.7 42.8,51.2 43.8,49.9 44.7,48.9 45.7,48.3 46.7,47.7 47.7,47.3 48.6,46.9 49.6,46.3 50.6,46 51.6,45.3 52.5,45 53.5,45.3 54.5,44.6 55.4,44.9 56.4,45.2 57.4,44 58.4,43.8 59.3,44.5 60.3,45.3 61.3,46.3 62.3,44.7 63.2,42.4 64.2,40.5 65.2,39.2 66.1,41.5 67.1,42.3 68.1,40 69.1,37.1 70,34.1 71,33.4 72,33.7 73,32.6 73.9,33.2 74.9,33.2 75.9,32.3 76.8,32 77.8,30.9 78.8,30 79.8,29.6 80.7,28.4 81.7,27.2 82.7,28.1 83.7,29 84.6,28.6 85.6,29.8 86.6,30.2 87.5,31.1 88.5,31.7 89.5,33.3 90.5,34.1 91.4,36.3 92.4,38.9 93.4,40.6 94.4,41.7 95.3,42.9 96.3,44.2 97.3,45.7 98.3,47.6 99.2,49.3 100.2,51.2 101.2,53.1 102.1,55 103.1,57 104.1,58.9 105.1,60.7 106,62.5 107,64.1 108,65.7 109,67.1 109.9,68.5 110.9,69.9 111.9,71.3 112.8,72.6 113.8,73.9 114.8,75.2 115.8,76.4 116.7,77.7 117.7,78.9 118.7,80 119.7,81.2 120.6,82.3 121.6,83.5 122.6,84.6 123.5,85.7 124.5,86.8 125.5,87.9 126.5,89 127.4,90.1 128.4,91.2 129.4,92.3 130.4,93.4 131.3,94.4 132.3,95.4 133.3,96.5 134.2,97.4 135.2,98.4 136.2,99.3 137.2,100.3 138.1,101.1 139.1,102 140.1,102.8 141.1,103.6 142,104.4 143,105.1 144,105.7 144.9,106.4 145.9,107 146.9,107.6 147.9,108.2 148.8,108.8 149.8,109.4 150.8,109.9 151.8,110.5 152.7,111 153.7,111.5 154.7,112 155.6,112.4 156.6,112.9 157.6,113.3 158.6,113.7 159.5,114.1 160.5,114.5 161.5,114.9 162.5,115.3 163.4,115.7 164.4,116 165.4,116.4 166.3,116.7 167.3,117.1 168.3,117.4 169.3,117.7 170.2,118 171.2,118.3 172.2,118.6 173.2,118.8 174.1,119.1 175.1,119.3" fill="none" stroke="#3f7ef0" stroke-width="0.98" stroke-linejoin="round"/>
</g>
<g transform="translate(484.8,37.1) scale(0.97712,0.97986)">
<rect x="0" y="0" width="179.2" height="144" fill="none" stroke="#3a3a3a" stroke-width="1.3"/>
<path d="M0,136h1.6M0,128h2.8M0,120h1.6M0,112h2.8M0,104h1.6M0,96h2.8M0,88h1.6M0,80h2.8M0,72h1.6M0,64h2.8M0,56h1.6M0,48h2.8M0,40h1.6M0,32h2.8M0,24h1.6M0,16h2.8M0,8h1.6M19.91,144v-2.8M39.82,144v-1.6M59.73,144v-2.8M79.64,144v-1.6M99.56,144v-2.8M119.47,144v-1.6M139.38,144v-2.8M159.29,144v-1.6M179.2,128.92h-2.4M179.2,113.84h-2.4M179.2,98.76h-2.4M179.2,83.69h-2.4M179.2,68.61h-2.4M179.2,53.53h-2.4" stroke="#444" stroke-width="1" fill="none"/>
<g font-family="Liberation Serif, serif" font-size="6.8" fill="#555"><text transform="translate(-2.6,147.2) scale(1.0,1.12)" text-anchor="end">0</text><text transform="translate(-2.6,131.2) scale(1.0,1.12)" text-anchor="end">10</text><text transform="translate(-2.6,115.2) scale(1.0,1.12)" text-anchor="end">20</text><text transform="translate(-2.6,99.2) scale(1.0,1.12)" text-anchor="end">30</text><text transform="translate(-2.6,83.2) scale(1.0,1.12)" text-anchor="end">40</text><text transform="translate(-2.6,67.2) scale(1.0,1.12)" text-anchor="end">50</text><text transform="translate(-2.6,51.2) scale(1.0,1.12)" text-anchor="end">60</text><text transform="translate(-2.6,35.2) scale(1.0,1.12)" text-anchor="end">70</text><text transform="translate(-2.6,19.2) scale(1.0,1.12)" text-anchor="end">80</text><text transform="translate(-2.6,3.2) scale(1.0,1.12)" text-anchor="end">90</text><text transform="translate(181.8,146.3) scale(0.88,0.95)">−20</text><text transform="translate(181.8,131.22) scale(0.88,0.95)">0</text><text transform="translate(181.8,116.14) scale(0.88,0.95)">20</text><text transform="translate(181.8,101.06) scale(0.88,0.95)">40</text><text transform="translate(181.8,85.99) scale(0.88,0.95)">60</text><text transform="translate(181.8,70.91) scale(0.88,0.95)">80</text><text transform="translate(181.8,55.83) scale(0.88,0.95)">100</text><text transform="translate(19.91,153.1) scale(1,1.05)" text-anchor="middle">−20</text><text transform="translate(59.73,153.1) scale(1,1.05)" text-anchor="middle">0</text><text transform="translate(99.56,153.1) scale(1,1.05)" text-anchor="middle">20</text><text transform="translate(139.38,153.1) scale(1,1.05)" text-anchor="middle">40</text><text transform="translate(179.2,153.1) scale(1,1.05)" text-anchor="middle">60</text></g>
<text font-family="Liberation Serif, serif" font-size="6.85" fill="#222" stroke="#222" stroke-width="0.12" transform="translate(7.5,10.4) scale(1,1.05)">CN=55.3</text>
<g font-family="Liberation Serif, serif" font-size="6.8" fill="#1a1a1a" stroke="#1a1a1a" stroke-width="0.18"><path d="M126.6,7.9H142" stroke="#5a5a5a" stroke-width="1.1"/><text transform="translate(143.7,10.7) scale(1.0,1.12)">0% EGR</text><path d="M126.6,17.1H142" stroke="#f25a5a" stroke-width="1.1"/><text transform="translate(143.7,19.9) scale(1.0,1.12)">10% EGR</text><path d="M126.6,26.3H142" stroke="#3f7ef0" stroke-width="1.1"/><text transform="translate(143.7,29.1) scale(1.0,1.12)">20% EGR</text><path d="M126.6,35.5H142" stroke="#4cbb7c" stroke-width="1.1"/><text transform="translate(143.7,38.3) scale(1.0,1.12)">30% EGR</text></g>
<path d="M16,40.5H36.9" stroke="#333" stroke-width="1"/><path d="M13,40.5l4.2,-1.8v3.6z" fill="#333"/>
<path d="M102.1,97.6H121.6" stroke="#333" stroke-width="1"/><path d="M124.6,97.6l-4.2,-1.8v3.6z" fill="#333"/>
<text font-family="Liberation Serif, serif" font-size="9.75" fill="#2a2a2a" stroke="#2a2a2a" stroke-width="0.25" x="89.3" y="166" text-anchor="middle">Cank angle/°CA ATDC</text>
</g>
<text font-family="Liberation Serif, serif" font-size="9.39" fill="#2a2a2a" stroke="#2a2a2a" stroke-width="0.24" text-anchor="middle" textLength="79.7" lengthAdjust="spacingAndGlyphs" transform="translate(471.7,107.4) rotate(-90)">Cylinder pressure/bar</text>
<text font-family="Liberation Serif, serif" font-size="9.1" fill="#2a2a2a" stroke="#2a2a2a" stroke-width="0.24" text-anchor="middle" textLength="106" lengthAdjust="spacingAndGlyphs" transform="translate(682.35,112.3) rotate(-90)">Cylinder heat rate/kJ·(m<tspan font-size="7.24" dy="-3.82">3</tspan><tspan dy="3.82">·CA)</tspan><tspan font-size="7.44" dy="-4.11">-1</tspan></text>
<g transform="translate(145,247.3)">
<polyline points="0,122 0.9,122 1.9,122 2.8,122.1 3.7,122.1 4.6,122.1 5.6,122.2 6.5,122.2 7.4,122.2 8.4,122.3 9.3,122.3 10.2,122.3 11.2,122.4 12.1,122.4 13,122.4 13.9,122.5 14.9,122.6 15.8,122.7 16.7,122.7 17.7,122.7 18.6,122.7 19.5,122.7 20.4,122.7 21.4,122.6 22.3,122.6 23.2,122.6 24.2,122.6 25.1,122.6 26,122.5 27,122.5 27.9,122.5 28.8,122.5 29.7,122.5 30.7,122.4 31.6,122.4 32.5,122.4 33.5,122.4 34.4,122.4 35.3,122.4 36.2,122.3 37.2,122.3 38.1,122.3 39,122.3 40,122.3 40.9,122.2 41.8,122.2 42.8,122.2 43.7,122.2 44.6,122.2 45.5,122.1 46.5,122.1 47.4,122.1 48.3,122.1 49.3,122.1 50.2,122 51.1,122 52,122 53,122 53.9,120.4 54.8,112.7 55.8,104.9 56.7,98 57.6,94.4 58.6,91.6 59.5,88.9 60.4,88.1 61.3,86.9 62.3,85.2 63.2,83.9 64.1,81.8 65.1,79.4 66,78.1 66.9,75.8 67.8,73.1 68.8,71.5 69.7,68.8 70.6,66.1 71.6,64 72.5,61.5 73.4,63.4 74.4,66.6 75.3,68.6 76.2,71.6 77.1,74.8 78.1,78.2 79,80.9 79.9,84.1 80.9,86 81.8,88.8 82.7,90.6 83.7,92.4 84.6,94.1 85.5,96.3 86.4,96.6 87.4,97.1 88.3,98.6 89.2,98.8 90.2,100.1 91.1,100.6 92,102.1 92.9,102.3 93.9,103.1 94.8,103.5 95.7,103.9 96.7,104.5 97.6,104.9 98.5,105 99.5,105.6 100.4,106.5 101.3,106.7 102.2,106.7 103.2,107.2 104.1,107.5 105,108.1 106,108.4 106.9,108.9 107.8,108.9 108.7,109.3 109.7,109.9 110.6,109.9 111.5,110.2 112.5,110.6 113.4,110.9 114.3,111.3 115.3,111.6 116.2,112 117.1,112.3 118,112.5 119,112.4 119.9,112.7 120.8,113 121.8,113.1 122.7,113.4 123.6,113.5 124.5,113.5 125.5,113.7 126.4,113.9 127.3,113.8 128.3,114 129.2,114.4 130.1,114.4 131.1,114.6 132,114.8 132.9,115.1 133.8,115.6 134.8,115.5 135.7,115.8 136.6,115.8 137.6,115.8 138.5,116 139.4,116.1 140.3,116 141.3,115.8 142.2,115.8 143.1,116.1 144.1,116.3 145,116.2 145.9,116.3 146.9,116.5 147.8,116.6 148.7,116.7 149.6,116.5 150.6,116.5 151.5,116.4 152.4,116.8 153.4,116.8 154.3,116.8 155.2,116.8 156.1,116.8 157.1,117 158,117 158.9,117 159.9,117.3 160.8,117 161.7,117.1 162.7,117.1 163.6,117.3 164.5,117.6 165.4,117.6 166.4,117.6 167.3,117.8" fill="none" stroke="#5a5a5a" stroke-width="0.89" stroke-linejoin="round"/>
<polyline points="0,122 0.9,122 1.9,122 2.8,122.1 3.7,122.1 4.6,122.1 5.6,122.2 6.5,122.2 7.4,122.2 8.4,122.3 9.3,122.3 10.2,122.3 11.2,122.4 12.1,122.4 13,122.4 13.9,122.5 14.9,122.6 15.8,122.7 16.7,122.7 17.7,122.7 18.6,122.7 19.5,122.7 20.4,122.7 21.4,122.6 22.3,122.6 23.2,122.6 24.2,122.6 25.1,122.6 26,122.6 27,122.5 27.9,122.5 28.8,122.5 29.7,122.5 30.7,122.5 31.6,122.4 32.5,122.4 33.5,122.4 34.4,122.4 35.3,122.4 36.2,122.4 37.2,122.3 38.1,122.3 39,122.3 40,122.3 40.9,122.3 41.8,122.3 42.8,122.2 43.7,122.2 44.6,122.2 45.5,122.2 46.5,122.2 47.4,122.2 48.3,122.1 49.3,122.1 50.2,122.1 51.1,122.1 52,122.1 53,122.1 53.9,122 54.8,122 55.8,122 56.7,122 57.6,115.8 58.6,108 59.5,101 60.4,97.3 61.3,94 62.3,91.7 63.2,90.7 64.1,88.6 65.1,85.7 66,83 66.9,80.8 67.8,78.9 68.8,76.5 69.7,74.2 70.6,72.1 71.6,69.4 72.5,67.5 73.4,65.3 74.4,65.6 75.3,67.6 76.2,70.5 77.1,72.6 78.1,75.7 79,78.5 79.9,80.4 80.9,83 81.8,86.5 82.7,88.9 83.7,91.3 84.6,93.9 85.5,94.3 86.4,95.6 87.4,96.6 88.3,97.1 89.2,98.6 90.2,99.6 91.1,100.2 92,100.8 92.9,102.2 93.9,102 94.8,102.8 95.7,103 96.7,104.1 97.6,104.5 98.5,104.7 99.5,104.7 100.4,104.7 101.3,105.1 102.2,105.6 103.2,106.6 104.1,106.9 105,106.9 106,107.2 106.9,108.1 107.8,108.2 108.7,108.7 109.7,109.1 110.6,109.3 111.5,109.4 112.5,109.6 113.4,109.9 114.3,110.6 115.3,110.9 116.2,111.3 117.1,111.4 118,111.7 119,111.8 119.9,112.1 120.8,112.3 121.8,112.4 122.7,112.5 123.6,112.7 124.5,112.9 125.5,112.9 126.4,113.2 127.3,113.4 128.3,113.3 129.2,113.7 130.1,113.7 131.1,113.8 132,114.3 132.9,114.4 133.8,114.6 134.8,115 135.7,115.1 136.6,115.4 137.6,115.2 138.5,115.3 139.4,115.3 140.3,115.4 141.3,115.7 142.2,115.9 143.1,115.9 144.1,115.8 145,115.9 145.9,115.9 146.9,115.9 147.8,116.1 148.7,116.3 149.6,116.2 150.6,116.4 151.5,116.4 152.4,116.3 153.4,116.6 154.3,116.5 155.2,116.6 156.1,116.6 157.1,116.6 158,116.6 158.9,116.8 159.9,116.8 160.8,117 161.7,116.9 162.7,117.3 163.6,117.4 164.5,117.3 165.4,117.4 166.4,117.4 167.3,117.2" fill="none" stroke="#f25a5a" stroke-width="0.89" stroke-linejoin="round"/>
<polyline points="0,122 0.9,122 1.9,122 2.8,122.1 3.7,122.1 4.6,122.1 5.6,122.2 6.5,122.2 7.4,122.2 8.4,122.3 9.3,122.3 10.2,122.3 11.2,122.4 12.1,122.4 13,122.4 13.9,122.5 14.9,122.6 15.8,122.7 16.7,122.7 17.7,122.7 18.6,122.7 19.5,122.7 20.4,122.7 21.4,122.6 22.3,122.6 23.2,122.6 24.2,122.6 25.1,122.6 26,122.6 27,122.6 27.9,122.5 28.8,122.5 29.7,122.5 30.7,122.5 31.6,122.5 32.5,122.5 33.5,122.4 34.4,122.4 35.3,122.4 36.2,122.4 37.2,122.4 38.1,122.4 39,122.3 40,122.3 40.9,122.3 41.8,122.3 42.8,122.3 43.7,122.3 44.6,122.3 45.5,122.2 46.5,122.2 47.4,122.2 48.3,122.2 49.3,122.2 50.2,122.2 51.1,122.1 52,122.1 53,122.1 53.9,122.1 54.8,122.1 55.8,122.1 56.7,122.1 57.6,122 58.6,122 59.5,122 60.4,122 61.3,118.8 62.3,111 63.2,103.7 64.1,97.6 65.1,96.5 66,95.1 66.9,93.8 67.8,92.5 68.8,90 69.7,87.9 70.6,85.6 71.6,82.9 72.5,81.2 73.4,78.4 74.4,76.2 75.3,74.5 76.2,72.3 77.1,69.2 78.1,67.1 79,69.9 79.9,72.4 80.9,74.9 81.8,76.7 82.7,79.5 83.7,83 84.6,86.2 85.5,89.1 86.4,92.2 87.4,93.2 88.3,94.8 89.2,95.3 90.2,96.9 91.1,97.5 92,98.6 92.9,99.7 93.9,99.9 94.8,101 95.7,101.4 96.7,101.6 97.6,102.4 98.5,103.4 99.5,104.2 100.4,104.9 101.3,105.3 102.2,105.6 103.2,105.6 104.1,105.8 105,106.4 106,106.7 106.9,107.1 107.8,107.3 108.7,108.1 109.7,108.1 110.6,108.6 111.5,108.8 112.5,108.9 113.4,109.1 114.3,109.4 115.3,109.7 116.2,110.3 117.1,110.6 118,110.8 119,111 119.9,111.2 120.8,111.2 121.8,111.2 122.7,111.5 123.6,111.5 124.5,111.7 125.5,111.9 126.4,112.2 127.3,112.3 128.3,112.5 129.2,112.8 130.1,113 131.1,113.1 132,113.2 132.9,113.3 133.8,113.4 134.8,113.7 135.7,114.2 136.6,114.4 137.6,114.5 138.5,114.5 139.4,114.2 140.3,114.4 141.3,114.5 142.2,114.5 143.1,114.9 144.1,115 145,114.8 145.9,115 146.9,115.2 147.8,115.1 148.7,115.3 149.6,115.5 150.6,115.4 151.5,115.7 152.4,115.5 153.4,115.7 154.3,115.6 155.2,115.7 156.1,115.7 157.1,115.8 158,115.9 158.9,115.9 159.9,116 160.8,116.3 161.7,116.3 162.7,116.2 163.6,116.4 164.5,116.1 165.4,116.3 166.4,116.4 167.3,116.3" fill="none" stroke="#3f7ef0" stroke-width="0.89" stroke-linejoin="round"/>
<polyline points="0,122 0.9,122 1.9,122 2.8,122.1 3.7,122.1 4.6,122.1 5.6,122.2 6.5,122.2 7.4,122.2 8.4,122.3 9.3,122.3 10.2,122.3 11.2,122.4 12.1,122.4 13,122.4 13.9,122.5 14.9,122.6 15.8,122.7 16.7,122.7 17.7,122.7 18.6,122.7 19.5,122.7 20.4,122.7 21.4,122.7 22.3,122.6 23.2,122.6 24.2,122.6 25.1,122.6 26,122.6 27,122.6 27.9,122.6 28.8,122.5 29.7,122.5 30.7,122.5 31.6,122.5 32.5,122.5 33.5,122.5 34.4,122.5 35.3,122.4 36.2,122.4 37.2,122.4 38.1,122.4 39,122.4 40,122.4 40.9,122.4 41.8,122.3 42.8,122.3 43.7,122.3 44.6,122.3 45.5,122.3 46.5,122.3 47.4,122.3 48.3,122.2 49.3,122.2 50.2,122.2 51.1,122.2 52,122.2 53,122.2 53.9,122.2 54.8,122.1 55.8,122.1 56.7,122.1 57.6,122.1 58.6,122.1 59.5,122.1 60.4,122.1 61.3,122 62.3,122 63.2,122 64.1,122 65.1,122 66,117.1 66.9,109 67.8,102.2 68.8,100.5 69.7,99.2 70.6,97.6 71.6,95.5 72.5,92.4 73.4,90 74.4,87 75.3,84.8 76.2,82.6 77.1,79.9 78.1,78.1 79,75 79.9,72.6 80.9,74.1 81.8,76.1 82.7,77.1 83.7,79.8 84.6,81.3 85.5,84 86.4,86.6 87.4,88.6 88.3,91.8 89.2,93.6 90.2,95.2 91.1,96.3 92,96.8 92.9,97.8 93.9,97.6 94.8,98.1 95.7,99.5 96.7,100.8 97.6,101.8 98.5,101.6 99.5,102.4 100.4,102.7 101.3,103.2 102.2,103.9 103.2,104.6 104.1,104.6 105,105.1 106,105.7 106.9,106.1 107.8,106.2 108.7,106.9 109.7,107.3 110.6,107.8 111.5,108.5 112.5,108.4 113.4,108.7 114.3,109 115.3,109.1 116.2,109.4 117.1,109.9 118,110.3 119,110.5 119.9,111.2 120.8,111.2 121.8,111.4 122.7,111.7 123.6,112 124.5,112.6 125.5,112.9 126.4,113.3 127.3,113.6 128.3,113.9 129.2,113.9 130.1,113.8 131.1,114.1 132,114.1 132.9,114.4 133.8,114.3 134.8,114.6 135.7,114.8 136.6,114.8 137.6,114.9 138.5,115.2 139.4,115.2 140.3,115.5 141.3,115.5 142.2,115.6 143.1,115.9 144.1,115.7 145,115.9 145.9,115.7 146.9,115.8 147.8,115.8 148.7,115.8 149.6,115.9 150.6,116 151.5,116 152.4,116 153.4,115.9 154.3,116.1 155.2,115.9 156.1,115.9 157.1,116.1 158,116.2 158.9,116.3 159.9,116.3 160.8,116.1 161.7,116.4 162.7,116.3 163.6,116.4 164.5,116.4 165.4,116.6 166.4,116.6 167.3,116.6" fill="none" stroke="#4cbb7c" stroke-width="0.89" stroke-linejoin="round"/>
<polyline points="0,103.1 0.9,102.2 1.9,101.3 2.8,100.4 3.7,99.4 4.6,98.4 5.6,97.4 6.5,96.4 7.4,95.4 8.4,94.3 9.3,93.2 10.2,92.1 11.2,90.9 12.1,89.8 13,88.6 13.9,87.3 14.9,86.1 15.8,84.8 16.7,83.5 17.7,82.1 18.6,80.8 19.5,79.4 20.4,78.1 21.4,76.7 22.3,75.3 23.2,74 24.2,72.5 25.1,71.1 26,69.6 27,68.2 27.9,66.8 28.8,65.3 29.7,63.9 30.7,62.6 31.6,61.3 32.5,60 33.5,58.7 34.4,57.4 35.3,56.1 36.2,54.9 37.2,53.6 38.1,52.4 39,51.1 40,49.8 40.9,48.5 41.8,47.3 42.8,46 43.7,44.9 44.6,43.8 45.5,42.8 46.5,41.8 47.4,40.9 48.3,40.3 49.3,39.4 50.2,39.2 51.1,39.7 52,39.4 53,39.3 53.9,38.6 54.8,37.6 55.8,35.9 56.7,37 57.6,36.9 58.6,36.1 59.5,34.7 60.4,32 61.3,28.8 62.3,28.4 63.2,29.9 64.1,31.1 65.1,29.2 66,24.7 66.9,21.9 67.8,21.7 68.8,22.9 69.7,22.1 70.6,21.2 71.6,19.5 72.5,19.8 73.4,18.5 74.4,17.7 75.3,16.8 76.2,17.3 77.1,17.5 78.1,17.7 79,18 79.9,19.6 80.9,20.4 81.8,22 82.7,22.2 83.7,23.1 84.6,25.5 85.5,26.9 86.4,29.2 87.4,31.7 88.3,32.8 89.2,34.9 90.2,37.4 91.1,39.5 92,41.4 92.9,43.3 93.9,45 94.8,46.7 95.7,48.5 96.7,50.3 97.6,52.1 98.5,53.8 99.5,55.5 100.4,57.1 101.3,58.7 102.2,60.2 103.2,61.6 104.1,63 105,64.3 106,65.6 106.9,66.9 107.8,68.2 108.7,69.4 109.7,70.6 110.6,71.7 111.5,72.9 112.5,74 113.4,75.1 114.3,76.2 115.3,77.2 116.2,78.3 117.1,79.4 118,80.5 119,81.5 119.9,82.6 120.8,83.7 121.8,84.7 122.7,85.7 123.6,86.8 124.5,87.8 125.5,88.8 126.4,89.8 127.3,90.7 128.3,91.7 129.2,92.6 130.1,93.5 131.1,94.4 132,95.2 132.9,96 133.8,96.8 134.8,97.6 135.7,98.3 136.6,98.9 137.6,99.6 138.5,100.2 139.4,100.8 140.3,101.4 141.3,102 142.2,102.5 143.1,103.1 144.1,103.6 145,104.1 145.9,104.6 146.9,105.1 147.8,105.5 148.7,106 149.6,106.4 150.6,106.8 151.5,107.2 152.4,107.6 153.4,108 154.3,108.4 155.2,108.7 156.1,109.1 157.1,109.4 158,109.8 158.9,110.1 159.9,110.4 160.8,110.7 161.7,111 162.7,111.3 163.6,111.6 164.5,111.8 165.4,112.1 166.4,112.3 167.3,112.5" fill="none" stroke="#5a5a5a" stroke-width="0.93" stroke-linejoin="round"/>
<polyline points="0,105.8 0.9,104.9 1.9,104 2.8,103.1 3.7,102.1 4.6,101.1 5.6,100.1 6.5,99 7.4,97.9 8.4,96.8 9.3,95.7 10.2,94.6 11.2,93.4 12.1,92.2 13,90.9 13.9,89.6 14.9,88.3 15.8,87 16.7,85.6 17.7,84.2 18.6,82.7 19.5,81.3 20.4,79.8 21.4,78.4 22.3,76.9 23.2,75.4 24.2,73.9 25.1,72.3 26,70.7 27,69.1 27.9,67.5 28.8,66 29.7,64.5 30.7,63 31.6,61.6 32.5,60.1 33.5,58.7 34.4,57.3 35.3,55.9 36.2,54.7 37.2,53.6 38.1,52.7 39,51.9 40,51.2 40.9,50.5 41.8,49.9 42.8,49.3 43.7,48.8 44.6,48.2 45.5,47.7 46.5,47.2 47.4,46.8 48.3,46.3 49.3,45.7 50.2,45.7 51.1,44.9 52,45.1 53,45.1 53.9,44.6 54.8,45.1 55.8,45 56.7,45 57.6,43.4 58.6,43.5 59.5,43 60.4,43 61.3,43.4 62.3,42.9 63.2,43.6 64.1,43.7 65.1,43.9 66,41.4 66.9,38.7 67.8,38.4 68.8,37.4 69.7,36.5 70.6,35.9 71.6,34.7 72.5,34.3 73.4,32.9 74.4,32 75.3,32.2 76.2,31.7 77.1,30.9 78.1,30.9 79,31.3 79.9,31.7 80.9,32.9 81.8,32.8 82.7,33.7 83.7,33.5 84.6,34.6 85.5,35.6 86.4,36.6 87.4,38.6 88.3,40 89.2,42.2 90.2,43.8 91.1,45 92,46.6 92.9,48.2 93.9,49.8 94.8,51.4 95.7,53 96.7,54.5 97.6,55.9 98.5,57.2 99.5,58.5 100.4,59.8 101.3,61 102.2,62.2 103.2,63.4 104.1,64.6 105,65.7 106,66.8 106.9,67.9 107.8,69 108.7,70.1 109.7,71.2 110.6,72.2 111.5,73.3 112.5,74.3 113.4,75.3 114.3,76.4 115.3,77.4 116.2,78.4 117.1,79.4 118,80.4 119,81.5 119.9,82.5 120.8,83.5 121.8,84.6 122.7,85.6 123.6,86.7 124.5,87.7 125.5,88.7 126.4,89.7 127.3,90.7 128.3,91.7 129.2,92.7 130.1,93.6 131.1,94.5 132,95.4 132.9,96.2 133.8,97.1 134.8,97.8 135.7,98.6 136.6,99.2 137.6,99.9 138.5,100.5 139.4,101.1 140.3,101.7 141.3,102.3 142.2,102.8 143.1,103.4 144.1,103.9 145,104.4 145.9,104.9 146.9,105.4 147.8,105.8 148.7,106.3 149.6,106.7 150.6,107.1 151.5,107.5 152.4,107.9 153.4,108.3 154.3,108.7 155.2,109 156.1,109.4 157.1,109.7 158,110.1 158.9,110.4 159.9,110.7 160.8,111 161.7,111.3 162.7,111.6 163.6,111.9 164.5,112.1 165.4,112.4 166.4,112.6 167.3,112.8" fill="none" stroke="#4cbb7c" stroke-width="0.93" stroke-linejoin="round"/>
<polyline points="0,103.6 0.9,102.7 1.9,101.7 2.8,100.8 3.7,99.8 4.6,98.8 5.6,97.8 6.5,96.8 7.4,95.7 8.4,94.6 9.3,93.5 10.2,92.4 11.2,91.2 12.1,90.1 13,88.9 13.9,87.6 14.9,86.3 15.8,85 16.7,83.7 17.7,82.3 18.6,81 19.5,79.6 20.4,78.2 21.4,76.9 22.3,75.5 23.2,74.1 24.2,72.7 25.1,71.2 26,69.7 27,68.3 27.9,66.8 28.8,65.4 29.7,64 30.7,62.6 31.6,61.3 32.5,59.9 33.5,58.6 34.4,57.3 35.3,56 36.2,54.8 37.2,53.6 38.1,52.4 39,51.2 40,50.1 40.9,48.9 41.8,47.8 42.8,46.7 43.7,45.7 44.6,44.8 45.5,43.9 46.5,43 47.4,42.2 48.3,41.2 49.3,40.8 50.2,39.6 51.1,39.3 52,39 53,39.1 53.9,38 54.8,38.3 55.8,38.6 56.7,38 57.6,38.7 58.6,37.8 59.5,37.7 60.4,35.6 61.3,33.3 62.3,31.9 63.2,34.3 64.1,35.7 65.1,34.1 66,30.5 66.9,29 67.8,27.6 68.8,26.2 69.7,25.7 70.6,25 71.6,24.2 72.5,22.6 73.4,22.9 74.4,23 75.3,23.6 76.2,23.1 77.1,23.3 78.1,23.4 79,23.8 79.9,24 80.9,24.5 81.8,25.9 82.7,26.6 83.7,28.1 84.6,28.4 85.5,29.7 86.4,30.7 87.4,32.8 88.3,34.7 89.2,36.7 90.2,38.2 91.1,39.6 92,41.2 92.9,43.2 93.9,44.9 94.8,46.8 95.7,48.6 96.7,50.4 97.6,52.3 98.5,54.1 99.5,55.9 100.4,57.6 101.3,59.3 102.2,60.8 103.2,62.3 104.1,63.7 105,65.1 106,66.5 106.9,67.8 107.8,69.1 108.7,70.4 109.7,71.6 110.6,72.8 111.5,74 112.5,75.2 113.4,76.3 114.3,77.5 115.3,78.6 116.2,79.7 117.1,80.8 118,81.8 119,82.9 119.9,83.9 120.8,85 121.8,86 122.7,87.1 123.6,88.1 124.5,89.1 125.5,90.1 126.4,91.1 127.3,92.1 128.3,93 129.2,93.9 130.1,94.8 131.1,95.7 132,96.6 132.9,97.4 133.8,98.2 134.8,98.9 135.7,99.6 136.6,100.3 137.6,100.9 138.5,101.6 139.4,102.2 140.3,102.8 141.3,103.3 142.2,103.9 143.1,104.4 144.1,104.9 145,105.5 145.9,105.9 146.9,106.4 147.8,106.9 148.7,107.3 149.6,107.7 150.6,108.2 151.5,108.6 152.4,109 153.4,109.3 154.3,109.7 155.2,110.1 156.1,110.4 157.1,110.8 158,111.1 158.9,111.5 159.9,111.8 160.8,112.1 161.7,112.4 162.7,112.7 163.6,112.9 164.5,113.2 165.4,113.4 166.4,113.7 167.3,113.9" fill="none" stroke="#f25a5a" stroke-width="0.93" stroke-linejoin="round"/>
<polyline points="0,102.7 0.9,101.8 1.9,100.9 2.8,100 3.7,99 4.6,98.1 5.6,97.1 6.5,96 7.4,95 8.4,93.9 9.3,92.9 10.2,91.8 11.2,90.6 12.1,89.5 13,88.3 13.9,87.1 14.9,85.8 15.8,84.6 16.7,83.2 17.7,81.9 18.6,80.6 19.5,79.2 20.4,77.9 21.4,76.5 22.3,75.2 23.2,73.8 24.2,72.4 25.1,71 26,69.5 27,68.1 27.9,66.7 28.8,65.3 29.7,63.9 30.7,62.6 31.6,61.2 32.5,59.9 33.5,58.5 34.4,57.2 35.3,55.9 36.2,54.7 37.2,53.5 38.1,52.4 39,51.4 40,50.4 40.9,49.4 41.8,48.5 42.8,47.7 43.7,46.9 44.6,46.1 45.5,45.3 46.5,44.6 47.4,43.6 48.3,42.7 49.3,42.4 50.2,41.7 51.1,41 52,41 53,40.3 53.9,39.9 54.8,40.4 55.8,41.2 56.7,40.9 57.6,40.9 58.6,41.9 59.5,41.7 60.4,40.8 61.3,39.8 62.3,38.7 63.2,40.3 64.1,40.8 65.1,40.1 66,36.2 66.9,34.7 67.8,33.1 68.8,33 69.7,32.7 70.6,31.3 71.6,30.3 72.5,29.5 73.4,29 74.4,28.2 75.3,26.7 76.2,27.2 77.1,27.4 78.1,27.6 79,28.9 79.9,29.3 80.9,29.9 81.8,30.5 82.7,31 83.7,30.5 84.6,32.2 85.5,33.3 86.4,35.6 87.4,35.4 88.3,36.4 89.2,38 90.2,39.3 91.1,40.3 92,42.1 92.9,43.5 93.9,45.2 94.8,47.1 95.7,48.8 96.7,50.7 97.6,52.5 98.5,54.4 99.5,56.2 100.4,58 101.3,59.7 102.2,61.2 103.2,62.7 104.1,64.1 105,65.4 106,66.8 106.9,68.1 107.8,69.3 108.7,70.6 109.7,71.8 110.6,73 111.5,74.1 112.5,75.3 113.4,76.4 114.3,77.5 115.3,78.6 116.2,79.7 117.1,80.8 118,81.8 119,82.9 119.9,83.9 120.8,85 121.8,86 122.7,87.1 123.6,88.1 124.5,89.1 125.5,90.1 126.4,91.1 127.3,92.1 128.3,93 129.2,93.9 130.1,94.8 131.1,95.7 132,96.6 132.9,97.4 133.8,98.2 134.8,98.9 135.7,99.6 136.6,100.3 137.6,100.9 138.5,101.6 139.4,102.2 140.3,102.8 141.3,103.3 142.2,103.9 143.1,104.4 144.1,104.9 145,105.5 145.9,105.9 146.9,106.4 147.8,106.9 148.7,107.3 149.6,107.7 150.6,108.2 151.5,108.6 152.4,109 153.4,109.3 154.3,109.7 155.2,110.1 156.1,110.4 157.1,110.8 158,111.1 158.9,111.5 159.9,111.8 160.8,112.1 161.7,112.4 162.7,112.7 163.6,112.9 164.5,113.2 165.4,113.4 166.4,113.7 167.3,113.9" fill="none" stroke="#3f7ef0" stroke-width="0.93" stroke-linejoin="round"/>
</g>
<g transform="translate(145,247.3) scale(0.93359,0.93542)">
<rect x="0" y="0" width="179.2" height="144" fill="none" stroke="#3a3a3a" stroke-width="1.3"/>
<path d="M0,136h1.6M0,128h2.8M0,120h1.6M0,112h2.8M0,104h1.6M0,96h2.8M0,88h1.6M0,80h2.8M0,72h1.6M0,64h2.8M0,56h1.6M0,48h2.8M0,40h1.6M0,32h2.8M0,24h1.6M0,16h2.8M0,8h1.6M19.91,144v-2.8M39.82,144v-1.6M59.73,144v-2.8M79.64,144v-1.6M99.56,144v-2.8M119.47,144v-1.6M139.38,144v-2.8M159.29,144v-1.6M179.2,128.92h-2.4M179.2,113.84h-2.4M179.2,98.76h-2.4M179.2,83.69h-2.4M179.2,68.61h-2.4M179.2,53.53h-2.4" stroke="#444" stroke-width="1" fill="none"/>
<g font-family="Liberation Serif, serif" font-size="6.8" fill="#555"><text transform="translate(-2.6,147.2) scale(1.0,1.12)" text-anchor="end">0</text><text transform="translate(-2.6,131.2) scale(1.0,1.12)" text-anchor="end">10</text><text transform="translate(-2.6,115.2) scale(1.0,1.12)" text-anchor="end">20</text><text transform="translate(-2.6,99.2) scale(1.0,1.12)" text-anchor="end">30</text><text transform="translate(-2.6,83.2) scale(1.0,1.12)" text-anchor="end">40</text><text transform="translate(-2.6,67.2) scale(1.0,1.12)" text-anchor="end">50</text><text transform="translate(-2.6,51.2) scale(1.0,1.12)" text-anchor="end">60</text><text transform="translate(-2.6,35.2) scale(1.0,1.12)" text-anchor="end">70</text><text transform="translate(-2.6,19.2) scale(1.0,1.12)" text-anchor="end">80</text><text transform="translate(-2.6,3.2) scale(1.0,1.12)" text-anchor="end">90</text><text transform="translate(181.8,146.3) scale(0.88,0.95)">−20</text><text transform="translate(181.8,131.22) scale(0.88,0.95)">0</text><text transform="translate(181.8,116.14) scale(0.88,0.95)">20</text><text transform="translate(181.8,101.06) scale(0.88,0.95)">40</text><text transform="translate(181.8,85.99) scale(0.88,0.95)">60</text><text transform="translate(181.8,70.91) scale(0.88,0.95)">80</text><text transform="translate(181.8,55.83) scale(0.88,0.95)">100</text><text transform="translate(19.91,153.1) scale(1,1.05)" text-anchor="middle">−20</text><text transform="translate(59.73,153.1) scale(1,1.05)" text-anchor="middle">0</text><text transform="translate(99.56,153.1) scale(1,1.05)" text-anchor="middle">20</text><text transform="translate(139.38,153.1) scale(1,1.05)" text-anchor="middle">40</text><text transform="translate(179.2,153.1) scale(1,1.05)" text-anchor="middle">60</text></g>
<text font-family="Liberation Serif, serif" font-size="6.85" fill="#222" stroke="#222" stroke-width="0.12" transform="translate(7.5,10.4) scale(1,1.05)">CN=57.4</text>
<g font-family="Liberation Serif, serif" font-size="6.8" fill="#1a1a1a" stroke="#1a1a1a" stroke-width="0.18"><path d="M126.6,7.9H142" stroke="#5a5a5a" stroke-width="1.1"/><text transform="translate(143.7,10.7) scale(1.0,1.12)">0% EGR</text><path d="M126.6,17.1H142" stroke="#f25a5a" stroke-width="1.1"/><text transform="translate(143.7,19.9) scale(1.0,1.12)">10% EGR</text><path d="M126.6,26.3H142" stroke="#3f7ef0" stroke-width="1.1"/><text transform="translate(143.7,29.1) scale(1.0,1.12)">20% EGR</text><path d="M126.6,35.5H142" stroke="#4cbb7c" stroke-width="1.1"/><text transform="translate(143.7,38.3) scale(1.0,1.12)">30% EGR</text></g>
<path d="M16,40.5H36.9" stroke="#333" stroke-width="1"/><path d="M13,40.5l4.2,-1.8v3.6z" fill="#333"/>
<path d="M102.1,97.6H121.6" stroke="#333" stroke-width="1"/><path d="M124.6,97.6l-4.2,-1.8v3.6z" fill="#333"/>
<text font-family="Liberation Serif, serif" font-size="9.75" fill="#2a2a2a" stroke="#2a2a2a" stroke-width="0.25" x="89.3" y="166" text-anchor="middle">Cank angle/°CA ATDC</text>
</g>
<text font-family="Liberation Serif, serif" font-size="8.97" fill="#2a2a2a" stroke="#2a2a2a" stroke-width="0.23" text-anchor="middle" textLength="72.7" lengthAdjust="spacingAndGlyphs" transform="translate(129.53,312.6) rotate(-90)">Cylinder pressure/bar</text>
<text font-family="Liberation Serif, serif" font-size="8.69" fill="#2a2a2a" stroke="#2a2a2a" stroke-width="0.23" text-anchor="middle" textLength="104.9" lengthAdjust="spacingAndGlyphs" transform="translate(333.96,320.85) rotate(-90)">Cylinder heat rate/kJ·(m<tspan font-size="6.92" dy="-3.64">3</tspan><tspan dy="3.64">·CA)</tspan><tspan font-size="7.1" dy="-3.92">-1</tspan></text>
<g transform="translate(361.5,249.7)">
<polyline points="0,119.2 0.9,119.2 1.8,119.2 2.7,119.3 3.6,119.3 4.6,119.3 5.5,119.4 6.4,119.4 7.3,119.4 8.2,119.5 9.1,119.5 10,119.5 10.9,119.5 11.9,119.6 12.8,119.6 13.7,119.7 14.6,119.8 15.5,119.8 16.4,119.9 17.3,119.9 18.2,119.9 19.1,119.8 20.1,119.8 21,119.8 21.9,119.8 22.8,119.8 23.7,119.8 24.6,119.7 25.5,119.7 26.4,119.7 27.4,119.7 28.3,119.7 29.2,119.6 30.1,119.6 31,119.6 31.9,119.6 32.8,119.6 33.7,119.6 34.6,119.5 35.6,119.5 36.5,119.5 37.4,119.5 38.3,119.5 39.2,119.4 40.1,119.4 41,119.4 41.9,119.4 42.8,119.4 43.8,119.4 44.7,119.3 45.6,119.3 46.5,119.3 47.4,119.3 48.3,119.3 49.2,119.2 50.1,119.2 51.1,119.2 52,119.2 52.9,117.7 53.8,110.1 54.7,102.6 55.6,96 56.5,92.5 57.4,89.1 58.3,87.1 59.3,85.6 60.2,84.6 61.1,83.7 62,81.2 62.9,79.5 63.8,77.9 64.7,75.8 65.6,73.9 66.6,72 67.5,70 68.4,67.5 69.3,64.8 70.2,62.7 71.1,59.6 72,62.4 72.9,64.7 73.8,67.2 74.8,69.4 75.7,72 76.6,75.6 77.5,78.3 78.4,81.3 79.3,83.4 80.2,85.4 81.1,87.7 82.1,90.3 83,92.9 83.9,94.9 84.8,95.3 85.7,96.4 86.6,96.4 87.5,97.5 88.4,97.9 89.3,99 90.3,99.4 91.2,100.7 92.1,100.6 93,101 93.9,101.6 94.8,101.9 95.7,102.4 96.6,103.2 97.5,103 98.5,103.3 99.4,104 100.3,104.5 101.2,104.9 102.1,105.4 103,105.8 103.9,106 104.8,106.5 105.8,106.2 106.7,106.4 107.6,106.9 108.5,107.5 109.4,107.9 110.3,108 111.2,108.3 112.1,108.6 113,109.1 114,109.3 114.9,109.9 115.8,109.9 116.7,110.2 117.6,110.3 118.5,110.6 119.4,110.6 120.3,110.6 121.3,110.9 122.2,111 123.1,111.3 124,111.3 124.9,111.6 125.8,111.6 126.7,111.8 127.6,111.7 128.5,111.9 129.5,112.4 130.4,112.5 131.3,112.6 132.2,112.9 133.1,113.1 134,113 134.9,113.2 135.8,113.3 136.8,113.1 137.7,113.4 138.6,113.6 139.5,113.7 140.4,113.8 141.3,113.8 142.2,113.9 143.1,114 144,113.9 145,113.9 145.9,113.8 146.8,114 147.7,114.2 148.6,113.9 149.5,114.1 150.4,113.9 151.3,114.2 152.2,114.4 153.2,114.4 154.1,114.4 155,114.5 155.9,114.5 156.8,114.6 157.7,114.6 158.6,114.4 159.5,114.6 160.5,114.6 161.4,114.6 162.3,114.8 163.2,114.9 164.1,115" fill="none" stroke="#5a5a5a" stroke-width="0.87" stroke-linejoin="round"/>
<polyline points="0,119.2 0.9,119.2 1.8,119.2 2.7,119.3 3.6,119.3 4.6,119.3 5.5,119.4 6.4,119.4 7.3,119.4 8.2,119.5 9.1,119.5 10,119.5 10.9,119.5 11.9,119.6 12.8,119.6 13.7,119.7 14.6,119.8 15.5,119.8 16.4,119.9 17.3,119.9 18.2,119.9 19.1,119.9 20.1,119.8 21,119.8 21.9,119.8 22.8,119.8 23.7,119.8 24.6,119.7 25.5,119.7 26.4,119.7 27.4,119.7 28.3,119.7 29.2,119.7 30.1,119.6 31,119.6 31.9,119.6 32.8,119.6 33.7,119.6 34.6,119.6 35.6,119.5 36.5,119.5 37.4,119.5 38.3,119.5 39.2,119.5 40.1,119.5 41,119.4 41.9,119.4 42.8,119.4 43.8,119.4 44.7,119.4 45.6,119.4 46.5,119.3 47.4,119.3 48.3,119.3 49.2,119.3 50.1,119.3 51.1,119.3 52,119.2 52.9,119.2 53.8,119.2 54.7,119.2 55.6,119.2 56.5,113.1 57.4,105.5 58.3,98.8 59.3,95.6 60.2,92.1 61.1,90.2 62,88.5 62.9,87 63.8,84.6 64.7,82.1 65.6,79.3 66.6,77.7 67.5,75.2 68.4,72.8 69.3,70.1 70.2,68.1 71.1,65.7 72,63.4 72.9,65.3 73.8,67.7 74.8,69.4 75.7,71.1 76.6,73.3 77.5,76.1 78.4,79 79.3,81.4 80.2,84 81.1,86.5 82.1,89.3 83,90.2 83.9,91.1 84.8,92.6 85.7,93.4 86.6,94.9 87.5,95.3 88.4,97.3 89.3,97.6 90.3,99.5 91.2,100.1 92.1,100 93,100.4 93.9,101.2 94.8,101.7 95.7,102 96.6,102.1 97.5,102.8 98.5,103.5 99.4,103.8 100.3,103.7 101.2,104.4 102.1,104.7 103,104.4 103.9,104.5 104.8,105 105.8,105.6 106.7,105.9 107.6,106.5 108.5,106.5 109.4,106.9 110.3,107.4 111.2,107.7 112.1,107.8 113,108.5 114,108.6 114.9,109 115.8,109.2 116.7,109.1 117.6,109.5 118.5,109.5 119.4,109.8 120.3,110.1 121.3,110 122.2,110.3 123.1,110.3 124,110.5 124.9,110.7 125.8,110.8 126.7,111.1 127.6,111.2 128.5,111.4 129.5,111.7 130.4,111.8 131.3,111.9 132.2,112.2 133.1,112.2 134,112.5 134.9,112.7 135.8,112.9 136.8,113 137.7,113.1 138.6,113 139.5,113.1 140.4,113.1 141.3,113.2 142.2,113.2 143.1,113.3 144,113.1 145,113 145.9,113.3 146.8,113.4 147.7,113.4 148.6,113.5 149.5,113.5 150.4,113.4 151.3,113.7 152.2,113.7 153.2,113.6 154.1,113.9 155,113.8 155.9,113.8 156.8,114 157.7,114.3 158.6,114.2 159.5,114.1 160.5,114.2 161.4,114.4 162.3,114.5 163.2,114.7 164.1,114.7" fill="none" stroke="#f25a5a" stroke-width="0.87" stroke-linejoin="round"/>
<polyline points="0,119.2 0.9,119.2 1.8,119.2 2.7,119.3 3.6,119.3 4.6,119.3 5.5,119.4 6.4,119.4 7.3,119.4 8.2,119.5 9.1,119.5 10,119.5 10.9,119.5 11.9,119.6 12.8,119.6 13.7,119.7 14.6,119.8 15.5,119.8 16.4,119.9 17.3,119.9 18.2,119.9 19.1,119.9 20.1,119.8 21,119.8 21.9,119.8 22.8,119.8 23.7,119.8 24.6,119.8 25.5,119.7 26.4,119.7 27.4,119.7 28.3,119.7 29.2,119.7 30.1,119.7 31,119.7 31.9,119.6 32.8,119.6 33.7,119.6 34.6,119.6 35.6,119.6 36.5,119.6 37.4,119.5 38.3,119.5 39.2,119.5 40.1,119.5 41,119.5 41.9,119.5 42.8,119.5 43.8,119.4 44.7,119.4 45.6,119.4 46.5,119.4 47.4,119.4 48.3,119.4 49.2,119.3 50.1,119.3 51.1,119.3 52,119.3 52.9,119.3 53.8,119.3 54.7,119.3 55.6,119.2 56.5,119.2 57.4,119.2 58.3,119.2 59.3,119.2 60.2,116.1 61.1,108.5 62,101.2 62.9,95.4 63.8,94 64.7,92.8 65.6,92.2 66.6,89.8 67.5,88.3 68.4,85.3 69.3,82.9 70.2,81.4 71.1,79.3 72,77 72.9,74 73.8,71.9 74.8,69.7 75.7,67.6 76.6,65.9 77.5,67.9 78.4,70.6 79.3,72.5 80.2,75.4 81.1,78.8 82.1,81.3 83,83.8 83.9,86.5 84.8,89.8 85.7,91.5 86.6,92.7 87.5,94.4 88.4,94.9 89.3,96 90.3,96.4 91.2,97.9 92.1,97.9 93,98.9 93.9,98.9 94.8,99.6 95.7,100.1 96.6,100.4 97.5,101.2 98.5,102.6 99.4,102.7 100.3,103.1 101.2,103.6 102.1,103.9 103,104.4 103.9,104.6 104.8,104.8 105.8,104.9 106.7,105.1 107.6,105.8 108.5,106 109.4,106.5 110.3,106.5 111.2,107.1 112.1,107.4 113,107.5 114,108 114.9,108.2 115.8,108.1 116.7,108.2 117.6,108.5 118.5,108.5 119.4,108.9 120.3,109 121.3,109.1 122.2,109.2 123.1,109.5 124,109.6 124.9,110 125.8,110.4 126.7,110.5 127.6,110.4 128.5,110.5 129.5,110.7 130.4,111.2 131.3,111.3 132.2,111.5 133.1,111.6 134,112 134.9,111.9 135.8,111.7 136.8,111.9 137.7,111.9 138.6,111.9 139.5,112.1 140.4,112.1 141.3,112.1 142.2,112.1 143.1,112.2 144,112.2 145,112.5 145.9,112.4 146.8,112.7 147.7,112.8 148.6,112.8 149.5,112.8 150.4,113.1 151.3,113.2 152.2,113.3 153.2,113.3 154.1,113.5 155,113.3 155.9,113.4 156.8,113.4 157.7,113.8 158.6,113.7 159.5,113.5 160.5,113.5 161.4,113.6 162.3,113.8 163.2,113.9 164.1,113.9" fill="none" stroke="#3f7ef0" stroke-width="0.87" stroke-linejoin="round"/>
<polyline points="0,119.2 0.9,119.2 1.8,119.2 2.7,119.3 3.6,119.3 4.6,119.3 5.5,119.4 6.4,119.4 7.3,119.4 8.2,119.5 9.1,119.5 10,119.5 10.9,119.5 11.9,119.6 12.8,119.6 13.7,119.7 14.6,119.8 15.5,119.8 16.4,119.9 17.3,119.9 18.2,119.9 19.1,119.9 20.1,119.8 21,119.8 21.9,119.8 22.8,119.8 23.7,119.8 24.6,119.8 25.5,119.8 26.4,119.7 27.4,119.7 28.3,119.7 29.2,119.7 30.1,119.7 31,119.7 31.9,119.7 32.8,119.7 33.7,119.6 34.6,119.6 35.6,119.6 36.5,119.6 37.4,119.6 38.3,119.6 39.2,119.6 40.1,119.5 41,119.5 41.9,119.5 42.8,119.5 43.8,119.5 44.7,119.5 45.6,119.5 46.5,119.4 47.4,119.4 48.3,119.4 49.2,119.4 50.1,119.4 51.1,119.4 52,119.4 52.9,119.3 53.8,119.3 54.7,119.3 55.6,119.3 56.5,119.3 57.4,119.3 58.3,119.3 59.3,119.2 60.2,119.2 61.1,119.2 62,119.2 62.9,119.2 63.8,119.2 64.7,114.4 65.6,106.5 66.6,99.9 67.5,98.4 68.4,96.8 69.3,95.1 70.2,92.9 71.1,90.3 72,87.9 72.9,85.7 73.8,83.7 74.8,80.7 75.7,78.9 76.6,76.2 77.5,73.8 78.4,71.1 79.3,72.1 80.2,73.6 81.1,75.7 82.1,77.5 83,79.5 83.9,82.7 84.8,85.2 85.7,87.2 86.6,89.6 87.5,91.7 88.4,92.4 89.3,93.4 90.3,93.9 91.2,94.7 92.1,95.9 93,97 93.9,97.4 94.8,97.8 95.7,99.1 96.6,99.2 97.5,99.5 98.5,100.4 99.4,100.7 100.3,101.7 101.2,101.7 102.1,102.6 103,103.1 103.9,103.3 104.8,103.8 105.8,104 106.7,104.2 107.6,104.5 108.5,105 109.4,105.4 110.3,105.5 111.2,105.9 112.1,106.3 113,106.8 114,107.4 114.9,107.7 115.8,107.8 116.7,108.1 117.6,108.5 118.5,108.8 119.4,108.9 120.3,109.4 121.3,109.5 122.2,110 123.1,110 124,110.5 124.9,110.8 125.8,111 126.7,111.1 127.6,111.2 128.5,111.4 129.5,111.5 130.4,111.7 131.3,111.9 132.2,112 133.1,112.3 134,112.3 134.9,112.3 135.8,112.4 136.8,112.5 137.7,112.4 138.6,112.4 139.5,112.5 140.4,112.9 141.3,112.9 142.2,113.1 143.1,113.2 144,113.3 145,113.1 145.9,113.1 146.8,113.1 147.7,113.3 148.6,113.1 149.5,113.1 150.4,113.4 151.3,113.3 152.2,113.2 153.2,113.5 154.1,113.6 155,113.8 155.9,114 156.8,113.9 157.7,113.6 158.6,113.6 159.5,113.6 160.5,113.8 161.4,114.1 162.3,114 163.2,113.8 164.1,114" fill="none" stroke="#4cbb7c" stroke-width="0.87" stroke-linejoin="round"/>
<polyline points="0,100.7 0.9,99.9 1.8,99 2.7,98.1 3.6,97.1 4.6,96.2 5.5,95.2 6.4,94.2 7.3,93.2 8.2,92.1 9.1,91 10,90 10.9,88.9 11.9,87.7 12.8,86.5 13.7,85.3 14.6,84.1 15.5,82.8 16.4,81.5 17.3,80.2 18.2,78.9 19.1,77.6 20.1,76.3 21,74.9 21.9,73.6 22.8,72.3 23.7,70.9 24.6,69.5 25.5,68.1 26.4,66.7 27.4,65.3 28.3,63.9 29.2,62.5 30.1,61.1 31,59.8 31.9,58.5 32.8,57.1 33.7,55.8 34.6,54.5 35.6,53.2 36.5,52 37.4,50.7 38.3,49.5 39.2,48.4 40.1,47.2 41,46.1 41.9,44.9 42.8,43.9 43.8,42.8 44.7,41.8 45.6,40.7 46.5,39.9 47.4,38.8 48.3,38.4 49.2,37.6 50.1,37.4 51.1,37.4 52,36.1 52.9,36.3 53.8,36.2 54.7,36 55.6,34 56.5,33.2 57.4,30.1 58.3,29.2 59.3,29.6 60.2,30.7 61.1,29.5 62,27.4 62.9,25.5 63.8,25.2 64.7,25.7 65.6,25.1 66.6,23.8 67.5,20.7 68.4,18.2 69.3,16.4 70.2,14.8 71.1,15 72,15 72.9,14.3 73.8,14.7 74.8,14.1 75.7,14.6 76.6,15.1 77.5,16.3 78.4,16.9 79.3,19.1 80.2,20.3 81.1,21.4 82.1,23.5 83,24.5 83.9,26.1 84.8,27 85.7,29.3 86.6,31.7 87.5,34.9 88.4,36 89.3,38 90.3,39.6 91.2,41.4 92.1,43 93,44.7 93.9,46.3 94.8,48 95.7,49.6 96.6,51.1 97.5,52.6 98.5,54.1 99.4,55.5 100.3,56.9 101.2,58.3 102.1,59.6 103,60.9 103.9,62.2 104.8,63.4 105.8,64.6 106.7,65.8 107.6,67 108.5,68.2 109.4,69.3 110.3,70.4 111.2,71.5 112.1,72.6 113,73.7 114,74.8 114.9,75.8 115.8,76.9 116.7,77.9 117.6,79 118.5,80 119.4,81 120.3,82 121.3,83 122.2,84 123.1,85 124,86 124.9,86.9 125.8,87.9 126.7,88.8 127.6,89.7 128.5,90.5 129.5,91.4 130.4,92.2 131.3,93 132.2,93.8 133.1,94.5 134,95.2 134.9,95.9 135.8,96.5 136.8,97.2 137.7,97.8 138.6,98.4 139.5,99 140.4,99.6 141.3,100.2 142.2,100.7 143.1,101.2 144,101.8 145,102.3 145.9,102.8 146.8,103.3 147.7,103.8 148.6,104.2 149.5,104.7 150.4,105.2 151.3,105.6 152.2,106 153.2,106.5 154.1,106.9 155,107.3 155.9,107.7 156.8,108.1 157.7,108.5 158.6,108.9 159.5,109.3 160.5,109.6 161.4,110 162.3,110.3 163.2,110.7 164.1,111" fill="none" stroke="#5a5a5a" stroke-width="0.92" stroke-linejoin="round"/>
<polyline points="0,103.4 0.9,102.5 1.8,101.6 2.7,100.7 3.6,99.8 4.6,98.8 5.5,97.8 6.4,96.7 7.3,95.7 8.2,94.6 9.1,93.5 10,92.4 10.9,91.2 11.9,90.1 12.8,88.8 13.7,87.6 14.6,86.3 15.5,85 16.4,83.6 17.3,82.2 18.2,80.8 19.1,79.4 20.1,78 21,76.6 21.9,75.2 22.8,73.7 23.7,72.2 24.6,70.6 25.5,69.1 26.4,67.5 27.4,66 28.3,64.4 29.2,63 30.1,61.6 31,60.2 31.9,58.7 32.8,57.3 33.7,55.9 34.6,54.6 35.6,53.4 36.5,52.4 37.4,51.5 38.3,50.7 39.2,50 40.1,49.4 41,48.8 41.9,48.3 42.8,47.8 43.8,47.3 44.7,46.8 45.6,46.3 46.5,46.1 47.4,45.7 48.3,45.1 49.2,45.1 50.1,44.8 51.1,44.5 52,44 52.9,43.7 53.8,45.2 54.7,45.2 55.6,43.9 56.5,43.4 57.4,42.5 58.3,43.2 59.3,43.1 60.2,43 61.1,43.8 62,43.9 62.9,43.9 63.8,41.4 64.7,40 65.6,37.7 66.6,36.8 67.5,35.3 68.4,34.9 69.3,33.9 70.2,33.8 71.1,34.1 72,33.2 72.9,32.7 73.8,31.5 74.8,31.5 75.7,30 76.6,30.3 77.5,30 78.4,30.3 79.3,30 80.2,30.8 81.1,31.7 82.1,32.1 83,33.2 83.9,33.1 84.8,33.9 85.7,35.1 86.6,35.2 87.5,36.1 88.4,36.5 89.3,37.7 90.3,38.3 91.2,39.2 92.1,40.2 93,41.5 93.9,43.1 94.8,44.7 95.7,46.5 96.6,48.4 97.5,50.2 98.5,52 99.4,53.7 100.3,55.3 101.2,56.7 102.1,58.1 103,59.5 103.9,60.8 104.8,62.2 105.8,63.5 106.7,64.7 107.6,66 108.5,67.2 109.4,68.4 110.3,69.6 111.2,70.8 112.1,72 113,73.1 114,74.2 114.9,75.2 115.8,76.3 116.7,77.3 117.6,78.4 118.5,79.4 119.4,80.4 120.3,81.5 121.3,82.5 122.2,83.5 123.1,84.4 124,85.4 124.9,86.3 125.8,87.3 126.7,88.2 127.6,89.1 128.5,89.9 129.5,90.8 130.4,91.6 131.3,92.4 132.2,93.2 133.1,93.9 134,94.6 134.9,95.3 135.8,96 136.8,96.6 137.7,97.2 138.6,97.8 139.5,98.4 140.4,99 141.3,99.6 142.2,100.1 143.1,100.7 144,101.2 145,101.7 145.9,102.2 146.8,102.7 147.7,103.2 148.6,103.6 149.5,104.1 150.4,104.6 151.3,105 152.2,105.5 153.2,105.9 154.1,106.3 155,106.7 155.9,107.1 156.8,107.5 157.7,107.9 158.6,108.3 159.5,108.7 160.5,109.1 161.4,109.4 162.3,109.7 163.2,110.1 164.1,110.4" fill="none" stroke="#4cbb7c" stroke-width="0.92" stroke-linejoin="round"/>
<polyline points="0,101.6 0.9,100.7 1.8,99.8 2.7,98.9 3.6,98 4.6,97 5.5,96 6.4,95 7.3,93.9 8.2,92.9 9.1,91.8 10,90.7 10.9,89.6 11.9,88.4 12.8,87.3 13.7,86 14.6,84.8 15.5,83.5 16.4,82.2 17.3,80.9 18.2,79.6 19.1,78.2 20.1,76.9 21,75.5 21.9,74.2 22.8,72.8 23.7,71.4 24.6,70 25.5,68.6 26.4,67.2 27.4,65.8 28.3,64.4 29.2,63 30.1,61.6 31,60.3 31.9,58.9 32.8,57.6 33.7,56.2 34.6,54.9 35.6,53.7 36.5,52.4 37.4,51.2 38.3,50 39.2,48.7 40.1,47.5 41,46.3 41.9,45.2 42.8,44.1 43.8,43.2 44.7,42.4 45.6,41.6 46.5,40.9 47.4,40.6 48.3,39.8 49.2,39.6 50.1,38.6 51.1,38 52,36.6 52.9,36.1 53.8,35.7 54.7,35.2 55.6,36.1 56.5,35.9 57.4,35.4 58.3,33.8 59.3,33.3 60.2,33.7 61.1,31.9 62,30.2 62.9,27.7 63.8,27.1 64.7,27.2 65.6,26.4 66.6,25.3 67.5,23.6 68.4,22.4 69.3,21 70.2,21.1 71.1,20.2 72,20.1 72.9,19.2 73.8,19.4 74.8,19.4 75.7,18.9 76.6,18.3 77.5,19.2 78.4,19.8 79.3,21.3 80.2,22.6 81.1,23.9 82.1,24.3 83,25.8 83.9,27.4 84.8,27.9 85.7,31.1 86.6,33 87.5,35.5 88.4,37.2 89.3,38.5 90.3,40.3 91.2,42.1 92.1,43.7 93,45.3 93.9,47 94.8,48.6 95.7,50.3 96.6,51.9 97.5,53.5 98.5,55 99.4,56.5 100.3,58 101.2,59.4 102.1,60.7 103,62.1 103.9,63.4 104.8,64.7 105.8,66 106.7,67.2 107.6,68.5 108.5,69.7 109.4,70.9 110.3,72 111.2,73.2 112.1,74.3 113,75.4 114,76.5 114.9,77.6 115.8,78.6 116.7,79.7 117.6,80.7 118.5,81.8 119.4,82.8 120.3,83.8 121.3,84.8 122.2,85.8 123.1,86.8 124,87.7 124.9,88.7 125.8,89.6 126.7,90.5 127.6,91.4 128.5,92.3 129.5,93.1 130.4,93.9 131.3,94.7 132.2,95.5 133.1,96.2 134,97 134.9,97.6 135.8,98.3 136.8,98.9 137.7,99.6 138.6,100.2 139.5,100.8 140.4,101.4 141.3,101.9 142.2,102.5 143.1,103 144,103.5 145,104 145.9,104.5 146.8,105 147.7,105.5 148.6,106 149.5,106.4 150.4,106.9 151.3,107.4 152.2,107.8 153.2,108.2 154.1,108.7 155,109.1 155.9,109.5 156.8,109.9 157.7,110.3 158.6,110.7 159.5,111 160.5,111.4 161.4,111.7 162.3,112.1 163.2,112.4 164.1,112.7" fill="none" stroke="#f25a5a" stroke-width="0.92" stroke-linejoin="round"/>
<polyline points="0,101.2 0.9,100.3 1.8,99.5 2.7,98.6 3.6,97.6 4.6,96.7 5.5,95.7 6.4,94.7 7.3,93.7 8.2,92.7 9.1,91.6 10,90.5 10.9,89.4 11.9,88.3 12.8,87.2 13.7,86 14.6,84.7 15.5,83.5 16.4,82.2 17.3,80.9 18.2,79.6 19.1,78.3 20.1,77 21,75.6 21.9,74.3 22.8,73 23.7,71.6 24.6,70.2 25.5,68.9 26.4,67.5 27.4,66.1 28.3,64.7 29.2,63.3 30.1,62 31,60.7 31.9,59.3 32.8,58 33.7,56.7 34.6,55.4 35.6,54.1 36.5,52.8 37.4,51.6 38.3,50.4 39.2,49 40.1,47.7 41,46.4 41.9,45.3 42.8,44.3 43.8,43.5 44.7,43 45.6,42.5 46.5,42.1 47.4,41.6 48.3,41.4 49.2,42 50.1,41.4 51.1,40.6 52,40.4 52.9,40.2 53.8,39.5 54.7,39.5 55.6,39.5 56.5,38.6 57.4,38.1 58.3,36.2 59.3,36.4 60.2,37.8 61.1,37 62,34.7 62.9,32.6 63.8,31.6 64.7,30.6 65.6,30 66.6,29.1 67.5,28.3 68.4,27.1 69.3,26.5 70.2,26.2 71.1,25.4 72,24.8 72.9,25.4 73.8,24.6 74.8,24.7 75.7,24.6 76.6,24.9 77.5,25.5 78.4,26.1 79.3,25.6 80.2,26.2 81.1,27.1 82.1,27 83,28.6 83.9,29.9 84.8,31.3 85.7,32.4 86.6,34.7 87.5,36.2 88.4,38.1 89.3,39.3 90.3,41.1 91.2,42.8 92.1,44.3 93,45.8 93.9,47.5 94.8,49.1 95.7,50.8 96.6,52.4 97.5,54 98.5,55.6 99.4,57.1 100.3,58.5 101.2,59.9 102.1,61.2 103,62.5 103.9,63.8 104.8,65.1 105.8,66.4 106.7,67.6 107.6,68.8 108.5,70 109.4,71.1 110.3,72.3 111.2,73.4 112.1,74.5 113,75.6 114,76.7 114.9,77.7 115.8,78.8 116.7,79.8 117.6,80.9 118.5,81.9 119.4,82.9 120.3,83.9 121.3,84.9 122.2,85.9 123.1,86.9 124,87.9 124.9,88.8 125.8,89.8 126.7,90.7 127.6,91.6 128.5,92.4 129.5,93.3 130.4,94.1 131.3,94.9 132.2,95.7 133.1,96.4 134,97.1 134.9,97.8 135.8,98.4 136.8,99.1 137.7,99.7 138.6,100.3 139.5,100.9 140.4,101.5 141.3,102.1 142.2,102.6 143.1,103.1 144,103.7 145,104.2 145.9,104.7 146.8,105.2 147.7,105.7 148.6,106.1 149.5,106.6 150.4,107.1 151.3,107.5 152.2,107.9 153.2,108.4 154.1,108.8 155,109.2 155.9,109.6 156.8,110 157.7,110.4 158.6,110.8 159.5,111.2 160.5,111.5 161.4,111.9 162.3,112.2 163.2,112.6 164.1,112.9" fill="none" stroke="#3f7ef0" stroke-width="0.92" stroke-linejoin="round"/>
</g>
<g transform="translate(361.5,249.7) scale(0.91574,0.91389)">
<rect x="0" y="0" width="179.2" height="144" fill="none" stroke="#3a3a3a" stroke-width="1.3"/>
<path d="M0,136h1.6M0,128h2.8M0,120h1.6M0,112h2.8M0,104h1.6M0,96h2.8M0,88h1.6M0,80h2.8M0,72h1.6M0,64h2.8M0,56h1.6M0,48h2.8M0,40h1.6M0,32h2.8M0,24h1.6M0,16h2.8M0,8h1.6M19.91,144v-2.8M39.82,144v-1.6M59.73,144v-2.8M79.64,144v-1.6M99.56,144v-2.8M119.47,144v-1.6M139.38,144v-2.8M159.29,144v-1.6M179.2,128.92h-2.4M179.2,113.84h-2.4M179.2,98.76h-2.4M179.2,83.69h-2.4M179.2,68.61h-2.4M179.2,53.53h-2.4" stroke="#444" stroke-width="1" fill="none"/>
<g font-family="Liberation Serif, serif" font-size="6.8" fill="#555"><text transform="translate(-2.6,147.2) scale(1.0,1.12)" text-anchor="end">0</text><text transform="translate(-2.6,131.2) scale(1.0,1.12)" text-anchor="end">10</text><text transform="translate(-2.6,115.2) scale(1.0,1.12)" text-anchor="end">20</text><text transform="translate(-2.6,99.2) scale(1.0,1.12)" text-anchor="end">30</text><text transform="translate(-2.6,83.2) scale(1.0,1.12)" text-anchor="end">40</text><text transform="translate(-2.6,67.2) scale(1.0,1.12)" text-anchor="end">50</text><text transform="translate(-2.6,51.2) scale(1.0,1.12)" text-anchor="end">60</text><text transform="translate(-2.6,35.2) scale(1.0,1.12)" text-anchor="end">70</text><text transform="translate(-2.6,19.2) scale(1.0,1.12)" text-anchor="end">80</text><text transform="translate(-2.6,3.2) scale(1.0,1.12)" text-anchor="end">90</text><text transform="translate(181.8,146.3) scale(0.88,0.95)">−20</text><text transform="translate(181.8,131.22) scale(0.88,0.95)">0</text><text transform="translate(181.8,116.14) scale(0.88,0.95)">20</text><text transform="translate(181.8,101.06) scale(0.88,0.95)">40</text><text transform="translate(181.8,85.99) scale(0.88,0.95)">60</text><text transform="translate(181.8,70.91) scale(0.88,0.95)">80</text><text transform="translate(181.8,55.83) scale(0.88,0.95)">100</text><text transform="translate(19.91,153.1) scale(1,1.05)" text-anchor="middle">−20</text><text transform="translate(59.73,153.1) scale(1,1.05)" text-anchor="middle">0</text><text transform="translate(99.56,153.1) scale(1,1.05)" text-anchor="middle">20</text><text transform="translate(139.38,153.1) scale(1,1.05)" text-anchor="middle">40</text><text transform="translate(179.2,153.1) scale(1,1.05)" text-anchor="middle">60</text></g>
<text font-family="Liberation Serif, serif" font-size="6.85" fill="#222" stroke="#222" stroke-width="0.12" transform="translate(7.5,10.4) scale(1,1.05)">CN=59.3</text>
<g font-family="Liberation Serif, serif" font-size="6.8" fill="#1a1a1a" stroke="#1a1a1a" stroke-width="0.18"><path d="M126.6,7.9H142" stroke="#5a5a5a" stroke-width="1.1"/><text transform="translate(143.7,10.7) scale(1.0,1.12)">0% EGR</text><path d="M126.6,17.1H142" stroke="#f25a5a" stroke-width="1.1"/><text transform="translate(143.7,19.9) scale(1.0,1.12)">10% EGR</text><path d="M126.6,26.3H142" stroke="#3f7ef0" stroke-width="1.1"/><text transform="translate(143.7,29.1) scale(1.0,1.12)">20% EGR</text><path d="M126.6,35.5H142" stroke="#4cbb7c" stroke-width="1.1"/><text transform="translate(143.7,38.3) scale(1.0,1.12)">30% EGR</text></g>
<path d="M16,40.5H36.9" stroke="#333" stroke-width="1"/><path d="M13,40.5l4.2,-1.8v3.6z" fill="#333"/>
<path d="M102.1,97.6H121.6" stroke="#333" stroke-width="1"/><path d="M124.6,97.6l-4.2,-1.8v3.6z" fill="#333"/>
<text font-family="Liberation Serif, serif" font-size="9.75" fill="#2a2a2a" stroke="#2a2a2a" stroke-width="0.25" x="89.3" y="166" text-anchor="middle">Cank angle/°CA ATDC</text>
</g>
<text font-family="Liberation Serif, serif" font-size="8.78" fill="#2a2a2a" stroke="#2a2a2a" stroke-width="0.23" text-anchor="middle" textLength="74.9" lengthAdjust="spacingAndGlyphs" transform="translate(348.11,315.9) rotate(-90)">Cylinder pressure/bar</text>
<text font-family="Liberation Serif, serif" font-size="8.51" fill="#2a2a2a" stroke="#2a2a2a" stroke-width="0.23" text-anchor="middle" textLength="102.3" lengthAdjust="spacingAndGlyphs" transform="translate(546.01,321.25) rotate(-90)">Cylinder heat rate/kJ·(m<tspan font-size="6.77" dy="-3.57">3</tspan><tspan dy="3.57">·CA)</tspan><tspan font-size="6.95" dy="-3.84">-1</tspan></text>
<g transform="translate(40.8,460)">
<polyline points="0,122.5 0.9,122.5 1.9,122.6 2.8,122.6 3.7,122.6 4.7,122.6 5.6,122.6 6.5,122.6 7.5,122.6 8.4,122.6 9.3,122.6 10.3,122.7 11.2,122.7 12.1,122.7 13.1,122.7 14,122.7 14.9,122.7 15.9,122.7 16.8,122.7 17.7,122.7 18.7,122.7 19.6,122.8 20.5,122.8 21.5,122.8 22.4,122.8 23.3,122.8 24.3,122.8 25.2,122.4 26.1,121.9 27.1,121.5 28,121.8 29,122.1 29.9,122.4 30.8,122.5 31.8,122.6 32.7,122.7 33.6,122.8 34.6,122.9 35.5,123 36.4,123.1 37.4,123.2 38.3,123.1 39.2,123.1 40.2,123 41.1,122.9 42,122.9 43,122.8 43.9,122.7 44.8,122.6 45.8,122.6 46.7,120 47.6,113.6 48.6,107.3 49.5,101.8 50.4,97.8 51.4,94.2 52.3,91 53.2,87.5 54.2,84.8 55.1,82.7 56,79.7 57,77.3 57.9,74.6 58.8,71.5 59.8,70.6 60.7,69 61.6,67.5 62.6,66.3 63.5,64.9 64.4,63 65.4,63.6 66.3,67.6 67.2,71.3 68.2,74.2 69.1,78.1 70,81.4 71,83.7 71.9,85.8 72.8,87.6 73.8,90.2 74.7,92.9 75.6,95.6 76.6,97.2 77.5,97 78.4,98.2 79.4,98.6 80.3,99.9 81.2,100.4 82.2,101.6 83.1,102.6 84.1,103.6 85,103.9 85.9,104.9 86.9,105.6 87.8,105.5 88.7,106.2 89.7,106.6 90.6,106.5 91.5,107.4 92.5,107.8 93.4,108.7 94.3,108.3 95.3,108.8 96.2,109 97.1,108.7 98.1,108.7 99,109.2 99.9,109.8 100.9,110.6 101.8,111 102.7,110.8 103.7,111.3 104.6,111.4 105.5,111.3 106.5,111.6 107.4,112 108.3,112.3 109.3,112.8 110.2,113.2 111.1,113.7 112.1,114.1 113,114.2 113.9,114.8 114.9,115.1 115.8,115.2 116.7,115.7 117.7,116 118.6,116.4 119.5,116.6 120.5,117.2 121.4,117.6 122.3,118.1 123.3,118.4 124.2,118.3 125.1,118.3 126.1,118.2 127,118 127.9,118.2 128.9,118.3 129.8,118.2 130.7,118.3 131.7,118.2 132.6,118.2 133.5,118.3 134.5,118.5 135.4,118.7 136.3,118.6 137.3,118.6 138.2,118.8 139.1,118.6 140.1,118.7 141,118.8 142,118.8 142.9,118.9 143.8,118.7 144.8,118.6 145.7,118.7 146.6,118.7 147.6,118.6 148.5,118.9 149.4,118.8 150.4,118.8 151.3,118.6 152.2,118.9 153.2,118.8 154.1,119 155,118.9 156,118.9 156.9,118.9 157.8,118.9 158.8,119.1 159.7,119.1 160.6,119.1 161.6,119.3 162.5,119.2 163.4,119.5 164.4,119.3 165.3,119.4 166.2,119.3 167.2,119.5 168.1,119.1" fill="none" stroke="#5a5a5a" stroke-width="0.89" stroke-linejoin="round"/>
<polyline points="0,122.5 0.9,122.5 1.9,122.6 2.8,122.6 3.7,122.6 4.7,122.6 5.6,122.6 6.5,122.6 7.5,122.6 8.4,122.6 9.3,122.6 10.3,122.7 11.2,122.7 12.1,122.7 13.1,122.7 14,122.7 14.9,122.7 15.9,122.7 16.8,122.7 17.7,122.7 18.7,122.7 19.6,122.8 20.5,122.8 21.5,122.8 22.4,122.8 23.3,122.8 24.3,122.8 25.2,122.4 26.1,121.9 27.1,121.5 28,121.8 29,122.1 29.9,122.4 30.8,122.5 31.8,122.6 32.7,122.7 33.6,122.8 34.6,122.9 35.5,123 36.4,123.1 37.4,123.2 38.3,123.2 39.2,123.1 40.2,123.1 41.1,123 42,123 43,123 43.9,122.9 44.8,122.9 45.8,122.8 46.7,122.8 47.6,122.7 48.6,122.7 49.5,122.6 50.4,122.6 51.4,122.6 52.3,118.7 53.2,112.4 54.2,106.1 55.1,99.9 56,96.8 57,93.9 57.9,91.4 58.8,89.2 59.8,86.5 60.7,83.2 61.6,80.9 62.6,79.9 63.5,78.1 64.4,76.6 65.4,75.4 66.3,74.3 67.2,72.7 68.2,71 69.1,69.7 70,68 71,68.1 71.9,71.2 72.8,74.1 73.8,77.5 74.7,80.6 75.6,82.5 76.6,84.9 77.5,87.2 78.4,89.1 79.4,90.8 80.3,93 81.2,95.1 82.2,96.2 83.1,96.6 84.1,96.9 85,98.3 85.9,98.6 86.9,99.1 87.8,100.2 88.7,101.8 89.7,102.6 90.6,103.3 91.5,103.7 92.5,104.5 93.4,104.2 94.3,104.7 95.3,104.4 96.2,105.3 97.1,105.6 98.1,106.6 99,106.6 99.9,107 100.9,107.2 101.8,107.4 102.7,108 103.7,108.3 104.6,108.6 105.5,108.6 106.5,109.3 107.4,109.2 108.3,109.8 109.3,109.6 110.2,110.4 111.1,110.6 112.1,111.2 113,111.2 113.9,111.3 114.9,111.5 115.8,111.7 116.7,111.9 117.7,112.3 118.6,112.5 119.5,112.8 120.5,113 121.4,113.4 122.3,113.7 123.3,114.1 124.2,114.3 125.1,114.6 126.1,114.6 127,115 127.9,115.4 128.9,115.6 129.8,115.3 130.7,115.5 131.7,115.6 132.6,115.4 133.5,115.7 134.5,115.7 135.4,115.9 136.3,116 137.3,115.9 138.2,116.2 139.1,116.2 140.1,116.2 141,116.4 142,116.1 142.9,116.4 143.8,116.4 144.8,116.6 145.7,116.7 146.6,116.6 147.6,116.5 148.5,116.5 149.4,116.6 150.4,116.8 151.3,116.9 152.2,117 153.2,117.2 154.1,117.2 155,117.1 156,117.2 156.9,117.1 157.8,117.3 158.8,117.6 159.7,117.7 160.6,117.7 161.6,117.8 162.5,117.8 163.4,117.7 164.4,117.8 165.3,118 166.2,118 167.2,118.2 168.1,118.2" fill="none" stroke="#f25a5a" stroke-width="0.89" stroke-linejoin="round"/>
<polyline points="0,122.5 0.9,122.5 1.9,122.6 2.8,122.6 3.7,122.6 4.7,122.6 5.6,122.6 6.5,122.6 7.5,122.6 8.4,122.6 9.3,122.6 10.3,122.7 11.2,122.7 12.1,122.7 13.1,122.7 14,122.7 14.9,122.7 15.9,122.7 16.8,122.7 17.7,122.7 18.7,122.7 19.6,122.8 20.5,122.8 21.5,122.8 22.4,122.8 23.3,122.8 24.3,122.8 25.2,122.4 26.1,121.9 27.1,121.5 28,121.8 29,122.1 29.9,122.4 30.8,122.5 31.8,122.6 32.7,122.7 33.6,122.8 34.6,122.9 35.5,123 36.4,123.1 37.4,123.2 38.3,123.2 39.2,123.2 40.2,123.1 41.1,123.1 42,123.1 43,123 43.9,123 44.8,123 45.8,122.9 46.7,122.9 47.6,122.9 48.6,122.8 49.5,122.8 50.4,122.8 51.4,122.7 52.3,122.7 53.2,122.7 54.2,122.6 55.1,122.6 56,122.6 57,122.6 57.9,120.7 58.8,116.2 59.8,111.6 60.7,107 61.6,102.8 62.6,100 63.5,96.7 64.4,93.6 65.4,91.5 66.3,88.4 67.2,86.8 68.2,83.6 69.1,81.8 70,79.1 71,76.8 71.9,75.7 72.8,73.6 73.8,72 74.7,72.8 75.6,75.4 76.6,78.1 77.5,80.7 78.4,83.6 79.4,85.2 80.3,87.2 81.2,88.6 82.2,91.2 83.1,92.7 84.1,93.9 85,95.8 85.9,95.4 86.9,96.1 87.8,97.7 88.7,98.9 89.7,99.8 90.6,100.3 91.5,101.1 92.5,101.7 93.4,102.3 94.3,103.1 95.3,103.7 96.2,103.4 97.1,103.9 98.1,104.8 99,104.8 99.9,104.9 100.9,105.6 101.8,105.7 102.7,105.5 103.7,106.1 104.6,106.4 105.5,106.7 106.5,106.6 107.4,106.9 108.3,107.3 109.3,107.9 110.2,107.9 111.1,108.4 112.1,109 113,109.2 113.9,109.4 114.9,109.4 115.8,110 116.7,110.4 117.7,110.9 118.6,111.1 119.5,111.1 120.5,111.3 121.4,111.5 122.3,111.9 123.3,112.3 124.2,112.5 125.1,113 126.1,113.4 127,113.5 127.9,113.9 128.9,113.9 129.8,114.1 130.7,114 131.7,114 132.6,114.4 133.5,114.5 134.5,114.5 135.4,114.4 136.3,114.5 137.3,114.8 138.2,114.8 139.1,114.6 140.1,114.9 141,115 142,115 142.9,115.2 143.8,115.1 144.8,115.4 145.7,115.6 146.6,115.8 147.6,115.8 148.5,115.8 149.4,115.9 150.4,116.2 151.3,116.1 152.2,116.4 153.2,116.3 154.1,116.5 155,116.5 156,116.5 156.9,116.4 157.8,116.7 158.8,116.8 159.7,117 160.6,117.1 161.6,117 162.5,117 163.4,117.1 164.4,117.1 165.3,117.4 166.2,117.4 167.2,117.7 168.1,117.9" fill="none" stroke="#3f7ef0" stroke-width="0.89" stroke-linejoin="round"/>
<polyline points="0,122.5 0.9,122.5 1.9,122.6 2.8,122.6 3.7,122.6 4.7,122.6 5.6,122.6 6.5,122.6 7.5,122.6 8.4,122.6 9.3,122.6 10.3,122.7 11.2,122.7 12.1,122.7 13.1,122.7 14,122.7 14.9,122.7 15.9,122.7 16.8,122.7 17.7,122.7 18.7,122.7 19.6,122.8 20.5,122.8 21.5,122.8 22.4,122.8 23.3,122.8 24.3,122.8 25.2,122.4 26.1,121.9 27.1,121.5 28,121.8 29,122.1 29.9,122.4 30.8,122.5 31.8,122.6 32.7,122.7 33.6,122.8 34.6,122.9 35.5,123 36.4,123.1 37.4,123.2 38.3,123.2 39.2,123.2 40.2,123.1 41.1,123.1 42,123.1 43,123.1 43.9,123 44.8,123 45.8,123 46.7,123 47.6,123 48.6,122.9 49.5,122.9 50.4,122.9 51.4,122.9 52.3,122.8 53.2,122.8 54.2,122.8 55.1,122.8 56,122.7 57,122.7 57.9,122.7 58.8,122.7 59.8,122.6 60.7,122.6 61.6,122.6 62.6,122.6 63.5,122.6 64.4,120.4 65.4,115.1 66.3,109.8 67.2,104.4 68.2,100.2 69.1,96.9 70,92.7 71,89.3 71.9,87 72.8,84.8 73.8,83.6 74.7,82.3 75.6,80.3 76.6,78.6 77.5,77.3 78.4,76.1 79.4,77.7 80.3,78.4 81.2,80.2 82.2,81.8 83.1,82.6 84.1,84.7 85,86.4 85.9,88.5 86.9,91.1 87.8,93.5 88.7,94.6 89.7,95.1 90.6,95.6 91.5,96.3 92.5,97 93.4,97.4 94.3,98.9 95.3,99.1 96.2,100.2 97.1,100.1 98.1,100.9 99,101.1 99.9,101.5 100.9,101.6 101.8,102.3 102.7,102.5 103.7,103.2 104.6,103.5 105.5,104 106.5,104.7 107.4,104.9 108.3,105.2 109.3,105.5 110.2,106.2 111.1,106.4 112.1,106.8 113,107.1 113.9,107.7 114.9,107.9 115.8,108.3 116.7,108.7 117.7,109.1 118.6,109.4 119.5,110 120.5,110.3 121.4,110.6 122.3,111 123.3,111.3 124.2,111.7 125.1,112.2 126.1,112.4 127,112.8 127.9,113.3 128.9,113.3 129.8,113.5 130.7,113.6 131.7,113.6 132.6,113.8 133.5,114.1 134.5,114.1 135.4,114 136.3,114.1 137.3,114 138.2,114.3 139.1,114.4 140.1,114.6 141,114.7 142,114.7 142.9,114.7 143.8,114.7 144.8,114.9 145.7,115 146.6,115.3 147.6,115.4 148.5,115.9 149.4,115.7 150.4,116 151.3,116 152.2,116 153.2,116 154.1,116.1 155,116.2 156,116.5 156.9,116.7 157.8,116.7 158.8,116.8 159.7,116.7 160.6,116.8 161.6,117 162.5,117.1 163.4,117.1 164.4,117.3 165.3,117.3 166.2,117.4 167.2,117.4 168.1,117.7" fill="none" stroke="#4cbb7c" stroke-width="0.89" stroke-linejoin="round"/>
<polyline points="0,107.1 0.9,106.4 1.9,105.7 2.8,104.9 3.7,104.1 4.7,103.2 5.6,102.3 6.5,101.3 7.5,100.4 8.4,99.4 9.3,98.3 10.3,97.3 11.2,96.2 12.1,95 13.1,93.8 14,92.6 14.9,91.2 15.9,89.8 16.8,88.4 17.7,86.9 18.7,85.5 19.6,84 20.5,82.5 21.5,81 22.4,79.5 23.3,78.1 24.3,76.5 25.2,75 26.1,73.5 27.1,72 28,70.6 29,69.4 29.9,68.2 30.8,67 31.8,65.9 32.7,64.8 33.6,63.8 34.6,62.9 35.5,61.9 36.4,61.1 37.4,60.2 38.3,59.4 39.2,58.6 40.2,57.8 41.1,56.9 42,56.1 43,55.4 43.9,54.7 44.8,54 45.8,53.3 46.7,52.5 47.6,51.4 48.6,50.3 49.5,49.4 50.4,47.8 51.4,47.4 52.3,46 53.2,44.8 54.2,40.1 55.1,36.8 56,35.4 57,33.3 57.9,29.9 58.8,24.9 59.8,21.5 60.7,22.6 61.6,24 62.6,21.9 63.5,18.6 64.4,16.1 65.4,14.6 66.3,14.6 67.2,14.7 68.2,14.3 69.1,13.7 70,13.4 71,11.9 71.9,12.4 72.8,14 73.8,14.1 74.7,15.2 75.6,16.3 76.6,17.5 77.5,18.2 78.4,18.9 79.4,20.7 80.3,22.2 81.2,24.1 82.2,25.2 83.1,26.8 84.1,27.5 85,30.1 85.9,31.8 86.9,34 87.8,36.1 88.7,38.3 89.7,40.3 90.6,42 91.5,43.9 92.5,45.8 93.4,47.2 94.3,48.9 95.3,50.6 96.2,52.3 97.1,54 98.1,55.6 99,57.2 99.9,58.8 100.9,60.3 101.8,61.8 102.7,63.2 103.7,64.6 104.6,66 105.5,67.3 106.5,68.7 107.4,70 108.3,71.3 109.3,72.5 110.2,73.8 111.1,75 112.1,76.2 113,77.3 113.9,78.4 114.9,79.5 115.8,80.6 116.7,81.6 117.7,82.7 118.6,83.7 119.5,84.6 120.5,85.6 121.4,86.5 122.3,87.5 123.3,88.4 124.2,89.3 125.1,90.1 126.1,91 127,91.8 127.9,92.7 128.9,93.5 129.8,94.3 130.7,95 131.7,95.8 132.6,96.5 133.5,97.2 134.5,97.9 135.4,98.6 136.3,99.3 137.3,99.9 138.2,100.6 139.1,101.2 140.1,101.8 141,102.4 142,102.9 142.9,103.5 143.8,104 144.8,104.6 145.7,105.1 146.6,105.6 147.6,106.1 148.5,106.6 149.4,107 150.4,107.5 151.3,108 152.2,108.4 153.2,108.9 154.1,109.3 155,109.7 156,110.2 156.9,110.6 157.8,111 158.8,111.4 159.7,111.8 160.6,112.2 161.6,112.5 162.5,112.9 163.4,113.3 164.4,113.6 165.3,114 166.2,114.3 167.2,114.6 168.1,115" fill="none" stroke="#5a5a5a" stroke-width="0.94" stroke-linejoin="round"/>
<polyline points="0,108.7 0.9,108 1.9,107.2 2.8,106.4 3.7,105.5 4.7,104.6 5.6,103.6 6.5,102.6 7.5,101.6 8.4,100.6 9.3,99.5 10.3,98.4 11.2,97.3 12.1,96.1 13.1,94.8 14,93.5 14.9,92.1 15.9,90.7 16.8,89.2 17.7,87.7 18.7,86.2 19.6,84.6 20.5,83.1 21.5,81.6 22.4,80.1 23.3,78.6 24.3,77 25.2,75.4 26.1,73.8 27.1,72.3 28,70.9 29,69.6 29.9,68.3 30.8,67.1 31.8,66 32.7,64.9 33.6,63.8 34.6,62.9 35.5,61.9 36.4,61 37.4,60.1 38.3,59.2 39.2,58.4 40.2,57.6 41.1,56.9 42,56.2 43,55.5 43.9,54.9 44.8,54.3 45.8,53.7 46.7,53.2 47.6,53 48.6,52.6 49.5,52.2 50.4,51.8 51.4,51.8 52.3,51.5 53.2,50.6 54.2,50.1 55.1,49.1 56,49 57,48.3 57.9,49.3 58.8,50.2 59.8,49.5 60.7,47 61.6,45.1 62.6,44.2 63.5,43.4 64.4,43.5 65.4,42.1 66.3,42.2 67.2,40.8 68.2,40.1 69.1,39.1 70,37.6 71,38.1 71.9,38.1 72.8,39.2 73.8,38.7 74.7,37.4 75.6,36.5 76.6,36.2 77.5,35.9 78.4,35.8 79.4,37.8 80.3,38.5 81.2,38.9 82.2,39.4 83.1,40.1 84.1,40.3 85,40.9 85.9,41.3 86.9,42.1 87.8,43.3 88.7,44.5 89.7,45.4 90.6,46 91.5,46.3 92.5,47 93.4,47.9 94.3,49.2 95.3,50.7 96.2,52.3 97.1,54 98.1,55.9 99,57.7 99.9,59.6 100.9,61.4 101.8,63.1 102.7,64.7 103.7,66.2 104.6,67.6 105.5,69 106.5,70.4 107.4,71.8 108.3,73.2 109.3,74.5 110.2,75.8 111.1,77.1 112.1,78.3 113,79.5 113.9,80.7 114.9,81.9 115.8,83 116.7,84.1 117.7,85.1 118.6,86.1 119.5,87.1 120.5,88 121.4,89 122.3,89.9 123.3,90.8 124.2,91.7 125.1,92.6 126.1,93.4 127,94.3 127.9,95.1 128.9,95.9 129.8,96.7 130.7,97.5 131.7,98.2 132.6,99 133.5,99.7 134.5,100.4 135.4,101.1 136.3,101.7 137.3,102.4 138.2,103 139.1,103.6 140.1,104.2 141,104.8 142,105.4 142.9,105.9 143.8,106.5 144.8,107 145.7,107.5 146.6,108 147.6,108.5 148.5,109 149.4,109.5 150.4,109.9 151.3,110.4 152.2,110.9 153.2,111.3 154.1,111.7 155,112.2 156,112.6 156.9,113 157.8,113.4 158.8,113.8 159.7,114.2 160.6,114.6 161.6,115 162.5,115.4 163.4,115.7 164.4,116.1 165.3,116.4 166.2,116.8 167.2,117.1 168.1,117.4" fill="none" stroke="#4cbb7c" stroke-width="0.94" stroke-linejoin="round"/>
<polyline points="0,107.5 0.9,106.8 1.9,106 2.8,105.2 3.7,104.4 4.7,103.5 5.6,102.6 6.5,101.7 7.5,100.7 8.4,99.7 9.3,98.6 10.3,97.5 11.2,96.4 12.1,95.3 13.1,94.1 14,92.8 14.9,91.4 15.9,90 16.8,88.6 17.7,87.1 18.7,85.6 19.6,84.1 20.5,82.6 21.5,81.2 22.4,79.7 23.3,78.2 24.3,76.7 25.2,75.1 26.1,73.6 27.1,72.1 28,70.7 29,69.4 29.9,68.2 30.8,67 31.8,65.9 32.7,64.9 33.6,63.8 34.6,62.9 35.5,61.9 36.4,61.1 37.4,60.2 38.3,59.4 39.2,58.6 40.2,57.8 41.1,56.9 42,56.1 43,55.4 43.9,54.7 44.8,54.1 45.8,53.4 46.7,52.6 47.6,51.7 48.6,50.6 49.5,49.1 50.4,46.9 51.4,45 52.3,43.1 53.2,41.7 54.2,42 55.1,42.6 56,43.1 57,41.8 57.9,39.5 58.8,35.9 59.8,34.8 60.7,33.4 61.6,31.8 62.6,29.5 63.5,27.3 64.4,26.3 65.4,25.1 66.3,23.5 67.2,22.8 68.2,20.9 69.1,19.9 70,18.7 71,18.3 71.9,18.8 72.8,19.2 73.8,20.1 74.7,20.7 75.6,21.1 76.6,21.5 77.5,22.4 78.4,23.1 79.4,24.3 80.3,25.9 81.2,26.8 82.2,28.8 83.1,30.8 84.1,32 85,33.2 85.9,34.6 86.9,35.3 87.8,37.1 88.7,38.5 89.7,40.4 90.6,42.1 91.5,43.5 92.5,45.3 93.4,47.3 94.3,49 95.3,50.8 96.2,52.5 97.1,54.2 98.1,55.9 99,57.6 99.9,59.2 100.9,60.9 101.8,62.4 102.7,63.9 103.7,65.3 104.6,66.8 105.5,68.2 106.5,69.5 107.4,70.9 108.3,72.2 109.3,73.5 110.2,74.8 111.1,76.1 112.1,77.3 113,78.5 113.9,79.7 114.9,80.8 115.8,81.9 116.7,83 117.7,84 118.6,85 119.5,86 120.5,86.9 121.4,87.9 122.3,88.8 123.3,89.7 124.2,90.6 125.1,91.5 126.1,92.3 127,93.2 127.9,94 128.9,94.8 129.8,95.6 130.7,96.4 131.7,97.1 132.6,97.9 133.5,98.6 134.5,99.3 135.4,100 136.3,100.6 137.3,101.3 138.2,101.9 139.1,102.5 140.1,103.1 141,103.7 142,104.3 142.9,104.8 143.8,105.4 144.8,105.9 145.7,106.4 146.6,106.9 147.6,107.4 148.5,107.9 149.4,108.4 150.4,108.9 151.3,109.3 152.2,109.8 153.2,110.2 154.1,110.7 155,111.1 156,111.5 156.9,111.9 157.8,112.3 158.8,112.7 159.7,113.1 160.6,113.5 161.6,113.9 162.5,114.3 163.4,114.6 164.4,115 165.3,115.3 166.2,115.7 167.2,116 168.1,116.3" fill="none" stroke="#f25a5a" stroke-width="0.94" stroke-linejoin="round"/>
<polyline points="0,106.7 0.9,106 1.9,105.3 2.8,104.5 3.7,103.7 4.7,102.8 5.6,101.9 6.5,101 7.5,100 8.4,99.1 9.3,98 10.3,97 11.2,95.9 12.1,94.8 13.1,93.6 14,92.3 14.9,91 15.9,89.6 16.8,88.2 17.7,86.7 18.7,85.3 19.6,83.8 20.5,82.3 21.5,80.9 22.4,79.4 23.3,78 24.3,76.4 25.2,74.9 26.1,73.4 27.1,71.9 28,70.6 29,69.3 29.9,68.1 30.8,67 31.8,65.9 32.7,64.8 33.6,63.8 34.6,62.9 35.5,61.9 36.4,61.1 37.4,60.2 38.3,59.4 39.2,58.6 40.2,57.8 41.1,56.9 42,56.1 43,55.4 43.9,54.6 44.8,53.8 45.8,53.1 46.7,52.3 47.6,51.4 48.6,50.6 49.5,49.6 50.4,48.8 51.4,48.2 52.3,47.4 53.2,47.3 54.2,46.2 55.1,45.6 56,46.4 57,45.9 57.9,45 58.8,44.7 59.8,42.5 60.7,39.5 61.6,35.9 62.6,33.3 63.5,31.9 64.4,31.1 65.4,30.6 66.3,30.8 67.2,30.4 68.2,30.6 69.1,30.3 70,30.6 71,29.4 71.9,29.4 72.8,29.1 73.8,30.4 74.7,30.7 75.6,31 76.6,31.4 77.5,31.3 78.4,31.6 79.4,32.4 80.3,33.1 81.2,34 82.2,34.5 83.1,35.9 84.1,36 85,37.8 85.9,39.6 86.9,40.7 87.8,41.6 88.7,42 89.7,43.7 90.6,44.3 91.5,45.6 92.5,46.5 93.4,47.7 94.3,49.1 95.3,50.7 96.2,52.3 97.1,54 98.1,55.8 99,57.5 99.9,59.3 100.9,61 101.8,62.6 102.7,64.2 103.7,65.6 104.6,67 105.5,68.3 106.5,69.7 107.4,71 108.3,72.3 109.3,73.6 110.2,74.9 111.1,76.1 112.1,77.3 113,78.5 113.9,79.6 114.9,80.7 115.8,81.8 116.7,82.9 117.7,83.9 118.6,84.9 119.5,85.9 120.5,86.8 121.4,87.8 122.3,88.7 123.3,89.6 124.2,90.5 125.1,91.4 126.1,92.2 127,93.1 127.9,93.9 128.9,94.7 129.8,95.5 130.7,96.2 131.7,97 132.6,97.7 133.5,98.5 134.5,99.2 135.4,99.8 136.3,100.5 137.3,101.2 138.2,101.8 139.1,102.4 140.1,103 141,103.6 142,104.1 142.9,104.7 143.8,105.2 144.8,105.8 145.7,106.3 146.6,106.8 147.6,107.3 148.5,107.8 149.4,108.3 150.4,108.7 151.3,109.2 152.2,109.6 153.2,110.1 154.1,110.5 155,110.9 156,111.4 156.9,111.8 157.8,112.2 158.8,112.6 159.7,113 160.6,113.4 161.6,113.8 162.5,114.1 163.4,114.5 164.4,114.9 165.3,115.2 166.2,115.5 167.2,115.9 168.1,116.2" fill="none" stroke="#3f7ef0" stroke-width="0.94" stroke-linejoin="round"/>
</g>
<g transform="translate(40.8,460) scale(0.93806,0.94028)">
<rect x="0" y="0" width="179.2" height="144" fill="none" stroke="#3a3a3a" stroke-width="1.3"/>
<path d="M0,136.8h1.6M0,129.6h2.8M0,122.4h1.6M0,115.2h2.8M0,108h1.6M0,100.8h2.8M0,93.6h1.6M0,86.4h2.8M0,79.2h1.6M0,72h2.8M0,64.8h1.6M0,57.6h2.8M0,50.4h1.6M0,43.2h2.8M0,36h1.6M0,28.8h2.8M0,21.6h1.6M0,14.4h2.8M0,7.2h1.6M19.91,144v-2.8M39.82,144v-1.6M59.73,144v-2.8M79.64,144v-1.6M99.56,144v-2.8M119.47,144v-1.6M139.38,144v-2.8M159.29,144v-1.6M179.2,128.92h-2.4M179.2,113.84h-2.4M179.2,98.76h-2.4M179.2,83.69h-2.4M179.2,68.61h-2.4M179.2,53.53h-2.4" stroke="#444" stroke-width="1" fill="none"/>
<g font-family="Liberation Serif, serif" font-size="6.8" fill="#555"><text transform="translate(-2.6,147.2) scale(1.0,1.12)" text-anchor="end">0</text><text transform="translate(-2.6,132.8) scale(1.0,1.12)" text-anchor="end">10</text><text transform="translate(-2.6,118.4) scale(1.0,1.12)" text-anchor="end">20</text><text transform="translate(-2.6,104) scale(1.0,1.12)" text-anchor="end">30</text><text transform="translate(-2.6,89.6) scale(1.0,1.12)" text-anchor="end">40</text><text transform="translate(-2.6,75.2) scale(1.0,1.12)" text-anchor="end">50</text><text transform="translate(-2.6,60.8) scale(1.0,1.12)" text-anchor="end">60</text><text transform="translate(-2.6,46.4) scale(1.0,1.12)" text-anchor="end">70</text><text transform="translate(-2.6,32) scale(1.0,1.12)" text-anchor="end">80</text><text transform="translate(-2.6,17.6) scale(1.0,1.12)" text-anchor="end">90</text><text transform="translate(-2.6,3.2) scale(1.0,1.12)" text-anchor="end">100</text><text transform="translate(181.8,146.3) scale(0.88,0.95)">−20</text><text transform="translate(181.8,131.22) scale(0.88,0.95)">0</text><text transform="translate(181.8,116.14) scale(0.88,0.95)">20</text><text transform="translate(181.8,101.06) scale(0.88,0.95)">40</text><text transform="translate(181.8,85.99) scale(0.88,0.95)">60</text><text transform="translate(181.8,70.91) scale(0.88,0.95)">80</text><text transform="translate(181.8,55.83) scale(0.88,0.95)">100</text><text transform="translate(19.91,153.1) scale(1,1.05)" text-anchor="middle">−20</text><text transform="translate(59.73,153.1) scale(1,1.05)" text-anchor="middle">0</text><text transform="translate(99.56,153.1) scale(1,1.05)" text-anchor="middle">20</text><text transform="translate(139.38,153.1) scale(1,1.05)" text-anchor="middle">40</text><text transform="translate(179.2,153.1) scale(1,1.05)" text-anchor="middle">60</text></g>
<text font-family="Liberation Serif, serif" font-size="6.85" fill="#222" stroke="#222" stroke-width="0.12" transform="translate(7.5,10.4) scale(1,1.05)">CN=51</text>
<g font-family="Liberation Serif, serif" font-size="6.8" fill="#1a1a1a" stroke="#1a1a1a" stroke-width="0.18"><path d="M126.6,7.9H142" stroke="#5a5a5a" stroke-width="1.1"/><text transform="translate(143.7,10.7) scale(1.0,1.12)">0% EGR</text><path d="M126.6,17.1H142" stroke="#f25a5a" stroke-width="1.1"/><text transform="translate(143.7,19.9) scale(1.0,1.12)">10% EGR</text><path d="M126.6,26.3H142" stroke="#3f7ef0" stroke-width="1.1"/><text transform="translate(143.7,29.1) scale(1.0,1.12)">20% EGR</text><path d="M126.6,35.5H142" stroke="#4cbb7c" stroke-width="1.1"/><text transform="translate(143.7,38.3) scale(1.0,1.12)">30% EGR</text></g>
<path d="M16,51.2H36.9" stroke="#333" stroke-width="1"/><path d="M13,51.2l4.2,-1.8v3.6z" fill="#333"/>
<path d="M102.1,97.6H121.6" stroke="#333" stroke-width="1"/><path d="M124.6,97.6l-4.2,-1.8v3.6z" fill="#333"/>
<text font-family="Liberation Serif, serif" font-size="9.75" fill="#2a2a2a" stroke="#2a2a2a" stroke-width="0.25" x="89.3" y="166" text-anchor="middle">Cank angle/°CA ATDC</text>
</g>
<text font-family="Liberation Serif, serif" font-size="9.02" fill="#2a2a2a" stroke="#2a2a2a" stroke-width="0.23" text-anchor="middle" textLength="77.6" lengthAdjust="spacingAndGlyphs" transform="translate(21.7,527.05) rotate(-90)">Cylinder pressure/bar</text>
<text font-family="Liberation Serif, serif" font-size="8.73" fill="#2a2a2a" stroke="#2a2a2a" stroke-width="0.23" text-anchor="middle" textLength="111.1" lengthAdjust="spacingAndGlyphs" transform="translate(229.85,535.55) rotate(-90)">Cylinder heat rate/kJ·(m<tspan font-size="6.95" dy="-3.66">3</tspan><tspan dy="3.66">·CA)</tspan><tspan font-size="7.14" dy="-3.94">-1</tspan></text>
<g transform="translate(262.8,460)">
<polyline points="0,122.5 0.9,122.6 1.9,122.7 2.8,122.8 3.7,122.9 4.7,123 5.6,123.1 6.5,123.2 7.5,123.3 8.4,123.5 9.3,123.6 10.3,123.7 11.2,123.8 12.1,123.8 13.1,123.9 14,124 14.9,124 15.9,124.1 16.8,124.2 17.7,124.2 18.7,124.3 19.6,124.3 20.5,124.3 21.5,124.3 22.4,124.2 23.3,124.2 24.3,124.2 25.2,124.2 26.1,124.2 27.1,124.2 28,124.2 28.9,123.7 29.9,123.3 30.8,122.8 31.7,122.4 32.7,123.1 33.6,123.8 34.5,123.6 35.5,123.5 36.4,123.4 37.3,123.3 38.3,123.1 39.2,123 40.1,122.9 41.1,122.8 42,122.7 42.9,122.5 43.9,116.1 44.8,109.7 45.7,104.8 46.7,101.6 47.6,98.2 48.5,95.4 49.5,92.8 50.4,91.1 51.3,88.1 52.3,85.8 53.2,84 54.1,83.3 55.1,82.7 56,82 56.9,80.9 57.9,79.6 58.8,79.6 59.7,80.2 60.7,81 61.6,82 62.5,82.9 63.5,83.5 64.4,86.9 65.3,89.9 66.3,92.7 67.2,95.9 68.1,99.4 69.1,101.7 70,102.9 70.9,103.6 71.9,105.3 72.8,106.7 73.7,108.5 74.7,108.9 75.6,109.5 76.5,109.3 77.5,108.5 78.4,109.2 79.3,108.5 80.3,108.3 81.2,108.5 82.1,109 83.1,109.7 84,109.5 84.9,109.3 85.9,109.4 86.8,109.1 87.7,109.4 88.7,109.3 89.6,109.8 90.5,109.8 91.5,109.4 92.4,108.9 93.3,109 94.3,108.6 95.2,108.5 96.1,108.2 97.1,108.8 98,108.7 98.9,108.7 99.9,108.7 100.8,109.3 101.7,109.1 102.7,109.4 103.6,109.9 104.5,110 105.5,110.5 106.4,110.9 107.3,111.2 108.3,111.3 109.2,111.5 110.1,111.8 111.1,112.1 112,112 112.9,112.3 113.9,112.8 114.8,112.9 115.7,113.1 116.7,113.6 117.6,113.7 118.5,113.8 119.5,114.2 120.4,114.3 121.3,114.3 122.3,114.6 123.2,114.8 124.1,115 125.1,115.1 126,115.6 126.9,115.6 127.9,115.7 128.8,115.5 129.7,115.8 130.7,115.8 131.6,116 132.5,116 133.5,115.9 134.4,115.9 135.3,116.1 136.3,116.1 137.2,116.5 138.1,116.2 139.1,116.2 140,116.2 140.9,116.3 141.9,116.4 142.8,116.3 143.7,116.4 144.7,116.5 145.6,116.9 146.5,116.9 147.5,116.6 148.4,116.7 149.3,116.8 150.3,117 151.2,117.1 152.1,117.2 153.1,116.9 154,117 154.9,116.8 155.9,116.8 156.8,116.8 157.7,117 158.7,117.3 159.6,117.4 160.5,117.6 161.5,117.4 162.4,117.3 163.3,117.7 164.3,117.7 165.2,117.6 166.1,117.7 167.1,117.7 168,117.8" fill="none" stroke="#5a5a5a" stroke-width="0.89" stroke-linejoin="round"/>
<polyline points="0,122.5 0.9,122.6 1.9,122.7 2.8,122.8 3.7,122.9 4.7,123 5.6,123.1 6.5,123.2 7.5,123.3 8.4,123.5 9.3,123.6 10.3,123.7 11.2,123.8 12.1,123.8 13.1,123.9 14,124 14.9,124 15.9,124.1 16.8,124.2 17.7,124.2 18.7,124.3 19.6,124.3 20.5,124.3 21.5,124.3 22.4,124.2 23.3,124.2 24.3,124.2 25.2,124.2 26.1,124.2 27.1,124.2 28,124.2 28.9,123.7 29.9,123.3 30.8,122.8 31.7,122.4 32.7,123.1 33.6,123.8 34.5,123.7 35.5,123.6 36.4,123.5 37.3,123.4 38.3,123.4 39.2,123.3 40.1,123.2 41.1,123.1 42,123 42.9,123 43.9,122.9 44.8,122.8 45.7,122.7 46.7,122.6 47.6,122.6 48.5,117.4 49.5,111 50.4,105.5 51.3,103.7 52.3,101.9 53.2,100.3 54.1,98.6 55.1,96.7 56,94.4 56.9,92.7 57.9,91.3 58.8,89.1 59.7,87.4 60.7,86.9 61.6,86.2 62.5,85.6 63.5,85.2 64.4,84.9 65.3,84.2 66.3,83.7 67.2,85.5 68.1,85.6 69.1,86.5 70,87.3 70.9,88.8 71.9,91.7 72.8,95.7 73.7,99.3 74.7,102.8 75.6,104.3 76.5,103.9 77.5,104.2 78.4,104.9 79.3,105.4 80.3,106 81.2,106.7 82.1,106.3 83.1,107.3 84,107.2 84.9,107.1 85.9,107.2 86.8,107.9 87.7,107.7 88.7,107.7 89.6,108 90.5,108 91.5,107.9 92.4,108.2 93.3,108.7 94.3,108.3 95.2,108.1 96.1,108.1 97.1,107.8 98,107.6 98.9,108.1 99.9,109 100.8,109.5 101.7,109.4 102.7,109.4 103.6,109.8 104.5,110 105.5,110.1 106.4,110.4 107.3,110.9 108.3,111.3 109.2,111.4 110.1,111.8 111.1,111.9 112,111.9 112.9,112.5 113.9,112.7 114.8,113.1 115.7,113.3 116.7,113.2 117.6,113.4 118.5,113.5 119.5,113.4 120.4,113.5 121.3,113.7 122.3,113.9 123.2,113.9 124.1,113.9 125.1,114.2 126,114 126.9,114.2 127.9,114.3 128.8,114.5 129.7,114.5 130.7,114.6 131.6,114.9 132.5,114.7 133.5,114.9 134.4,115 135.3,114.8 136.3,115 137.2,115 138.1,115.1 139.1,115.2 140,115.4 140.9,115.5 141.9,115.5 142.8,115.5 143.7,115.6 144.7,115.8 145.6,115.9 146.5,116 147.5,116.1 148.4,116.2 149.3,116.3 150.3,116.2 151.2,116.2 152.1,116.4 153.1,116.4 154,116.3 154.9,116.4 155.9,116.6 156.8,116.7 157.7,116.5 158.7,116.7 159.6,116.7 160.5,116.9 161.5,116.9 162.4,117.1 163.3,117.3 164.3,117.5 165.2,117.6 166.1,117.4 167.1,117.5 168,117.6" fill="none" stroke="#f25a5a" stroke-width="0.89" stroke-linejoin="round"/>
<polyline points="0,122.5 0.9,122.6 1.9,122.7 2.8,122.8 3.7,122.9 4.7,123 5.6,123.1 6.5,123.2 7.5,123.3 8.4,123.5 9.3,123.6 10.3,123.7 11.2,123.8 12.1,123.8 13.1,123.9 14,124 14.9,124 15.9,124.1 16.8,124.2 17.7,124.2 18.7,124.3 19.6,124.3 20.5,124.3 21.5,124.3 22.4,124.2 23.3,124.2 24.3,124.2 25.2,124.2 26.1,124.2 27.1,124.2 28,124.2 28.9,123.7 29.9,123.3 30.8,122.8 31.7,122.4 32.7,123.1 33.6,123.8 34.5,123.7 35.5,123.7 36.4,123.6 37.3,123.5 38.3,123.5 39.2,123.4 40.1,123.4 41.1,123.3 42,123.3 42.9,123.2 43.9,123.2 44.8,123.1 45.7,123.1 46.7,123 47.6,123 48.5,122.9 49.5,122.9 50.4,122.8 51.3,122.8 52.3,122.7 53.2,122.7 54.1,122.6 55.1,122.5 56,119.5 56.9,115.8 57.9,112 58.8,108.4 59.7,106 60.7,103.3 61.6,101.2 62.5,98.6 63.5,97.4 64.4,96.4 65.3,95.6 66.3,94.2 67.2,93.3 68.1,91.8 69.1,91 70,89.4 70.9,88.5 71.9,87.5 72.8,86.9 73.7,89.3 74.7,90.7 75.6,92.5 76.5,94.3 77.5,97 78.4,98.8 79.3,100.6 80.3,102.4 81.2,104.1 82.1,105 83.1,104.9 84,105.4 84.9,105.8 85.9,106.5 86.8,106.6 87.7,106.7 88.7,107.4 89.6,107.3 90.5,107.2 91.5,107.8 92.4,108 93.3,108.5 94.3,109 95.2,108.5 96.1,108.8 97.1,108.8 98,108.7 98.9,108.8 99.9,108.7 100.8,109 101.7,109.5 102.7,110 103.6,110 104.5,110.2 105.5,110.2 106.4,110 107.3,110.2 108.3,110.5 109.2,110.5 110.1,110.4 111.1,110.5 112,110.8 112.9,110.8 113.9,111 114.8,111.3 115.7,111.3 116.7,111.7 117.6,111.8 118.5,112 119.5,112.1 120.4,112.3 121.3,112.2 122.3,112.1 123.2,112.1 124.1,112.4 125.1,112.5 126,112.7 126.9,112.8 127.9,113 128.8,113 129.7,113.3 130.7,113.3 131.6,113.5 132.5,113.4 133.5,113.7 134.4,113.9 135.3,113.7 136.3,113.9 137.2,113.8 138.1,114.1 139.1,114.3 140,114.3 140.9,114.5 141.9,114.5 142.8,114.6 143.7,114.6 144.7,114.8 145.6,114.8 146.5,115 147.5,115 148.4,115.2 149.3,115.2 150.3,115.5 151.2,115.6 152.1,115.7 153.1,116 154,116.3 154.9,116.2 155.9,116.3 156.8,116.3 157.7,116.6 158.7,116.5 159.6,116.7 160.5,116.9 161.5,117 162.4,117.1 163.3,117.2 164.3,117.2 165.2,117.3 166.1,117.5 167.1,117.4 168,117.6" fill="none" stroke="#3f7ef0" stroke-width="0.89" stroke-linejoin="round"/>
<polyline points="0,122.5 0.9,122.6 1.9,122.7 2.8,122.8 3.7,122.9 4.7,123 5.6,123.1 6.5,123.2 7.5,123.3 8.4,123.5 9.3,123.6 10.3,123.7 11.2,123.8 12.1,123.8 13.1,123.9 14,124 14.9,124 15.9,124.1 16.8,124.2 17.7,124.2 18.7,124.3 19.6,124.3 20.5,124.3 21.5,124.3 22.4,124.2 23.3,124.2 24.3,124.2 25.2,124.2 26.1,124.2 27.1,124.2 28,124.2 28.9,123.7 29.9,123.3 30.8,122.8 31.7,122.4 32.7,123.1 33.6,123.8 34.5,123.7 35.5,123.7 36.4,123.6 37.3,123.6 38.3,123.6 39.2,123.5 40.1,123.5 41.1,123.4 42,123.4 42.9,123.4 43.9,123.3 44.8,123.3 45.7,123.2 46.7,123.2 47.6,123.2 48.5,123.1 49.5,123.1 50.4,123 51.3,123 52.3,123 53.2,122.9 54.1,122.9 55.1,122.9 56,122.8 56.9,122.8 57.9,122.7 58.8,122.7 59.7,122.7 60.7,122.6 61.6,122.6 62.5,122.5 63.5,118 64.4,113.5 65.3,109.6 66.3,106.5 67.2,103.8 68.1,101.2 69.1,98.1 70,96.8 70.9,95.5 71.9,93.6 72.8,91.9 73.7,91 74.7,90.6 75.6,90.2 76.5,89.6 77.5,89.3 78.4,90.6 79.3,94.5 80.3,98 81.2,100.2 82.1,101.3 83.1,101.8 84,102.9 84.9,103.7 85.9,103.7 86.8,104.6 87.7,104.9 88.7,104.3 89.6,104.9 90.5,105 91.5,106 92.4,106 93.3,106.1 94.3,106.1 95.2,105.8 96.1,106.3 97.1,106.4 98,107.1 98.9,106.9 99.9,106.9 100.8,107.3 101.7,107.1 102.7,107.5 103.6,107.1 104.5,107.5 105.5,107.6 106.4,108.1 107.3,107.8 108.3,108.3 109.2,108.3 110.1,108.7 111.1,108.9 112,109.2 112.9,109.9 113.9,110.2 114.8,110.4 115.7,110.7 116.7,110.9 117.6,111.2 118.5,111.6 119.5,111.8 120.4,112 121.3,112.3 122.3,112.8 123.2,113 124.1,113.3 125.1,113.5 126,114.1 126.9,114.2 127.9,114.4 128.8,114.6 129.7,114.6 130.7,114.7 131.6,115.1 132.5,115 133.5,114.8 134.4,114.8 135.3,115 136.3,115 137.2,115.1 138.1,115.2 139.1,115.3 140,115.6 140.9,115.4 141.9,115.6 142.8,115.5 143.7,115.5 144.7,115.7 145.6,115.8 146.5,116 147.5,116.1 148.4,116.1 149.3,116.1 150.3,116.1 151.2,116.1 152.1,116.3 153.1,116.4 154,116.4 154.9,116.6 155.9,116.7 156.8,116.6 157.7,116.9 158.7,117 159.6,117.3 160.5,117.4 161.5,117.3 162.4,117.3 163.3,117.3 164.3,117.4 165.2,117.5 166.1,117.4 167.1,117.4 168,117.3" fill="none" stroke="#4cbb7c" stroke-width="0.89" stroke-linejoin="round"/>
<polyline points="0,102.6 0.9,101.7 1.9,100.8 2.8,99.9 3.7,98.9 4.7,97.9 5.6,96.9 6.5,95.9 7.5,94.9 8.4,93.8 9.3,92.8 10.3,91.7 11.2,90.6 12.1,89.5 13.1,88.4 14,87.2 14.9,86.1 15.9,84.9 16.8,83.7 17.7,82.5 18.7,81.2 19.6,80 20.5,78.7 21.5,77.4 22.4,76.1 23.3,74.8 24.3,73.4 25.2,72 26.1,70.5 27.1,69.1 28,67.7 28.9,66.4 29.9,65.2 30.8,64 31.7,62.8 32.7,61.7 33.6,60.6 34.5,59.5 35.5,58.5 36.4,57.6 37.3,56.7 38.3,56 39.2,55.3 40.1,54.8 41.1,54.3 42,53.7 42.9,53 43.9,52.2 44.8,51.1 45.7,49.3 46.7,46.2 47.6,44.1 48.5,42.6 49.5,40.9 50.4,36.9 51.3,33.8 52.3,33.6 53.2,35.5 54.1,36.2 55.1,31.8 56,25.9 56.9,25.2 57.9,26.1 58.8,23.9 59.7,21.5 60.7,18.4 61.6,17.6 62.5,18.4 63.5,19 64.4,18.3 65.3,15.8 66.3,13.3 67.2,14 68.1,14.9 69.1,15.2 70,15.1 70.9,16.4 71.9,18.8 72.8,19.7 73.7,20.8 74.7,21.1 75.6,22.9 76.5,23.8 77.5,25.5 78.4,26.6 79.3,28.9 80.3,29.8 81.2,31.7 82.1,33.3 83.1,34.6 84,36.3 84.9,37.5 85.9,39.6 86.8,41.4 87.7,43.4 88.7,44.6 89.6,46.2 90.5,49.1 91.5,51.2 92.4,53 93.3,54.6 94.3,56.3 95.2,58 96.1,59.7 97.1,61.4 98,63 98.9,64.6 99.9,66.1 100.8,67.6 101.7,69.1 102.7,70.5 103.6,71.9 104.5,73.3 105.5,74.7 106.4,76 107.3,77.4 108.3,78.7 109.2,80 110.1,81.3 111.1,82.5 112,83.7 112.9,84.9 113.9,86 114.8,87.1 115.7,88.2 116.7,89.2 117.6,90.1 118.5,91 119.5,91.9 120.4,92.8 121.3,93.6 122.3,94.4 123.2,95.3 124.1,96 125.1,96.8 126,97.5 126.9,98.3 127.9,99 128.8,99.6 129.7,100.3 130.7,101 131.6,101.6 132.5,102.2 133.5,102.8 134.4,103.4 135.3,103.9 136.3,104.4 137.2,105 138.1,105.5 139.1,106 140,106.4 140.9,106.9 141.9,107.3 142.8,107.8 143.7,108.2 144.7,108.6 145.6,109 146.5,109.4 147.5,109.8 148.4,110.1 149.3,110.5 150.3,110.8 151.2,111.2 152.1,111.5 153.1,111.8 154,112.2 154.9,112.5 155.9,112.8 156.8,113.1 157.7,113.4 158.7,113.7 159.6,114 160.5,114.2 161.5,114.5 162.4,114.8 163.3,115 164.3,115.3 165.2,115.5 166.1,115.7 167.1,116 168,116.2" fill="none" stroke="#5a5a5a" stroke-width="0.94" stroke-linejoin="round"/>
<polyline points="0,104.3 0.9,103.3 1.9,102.3 2.8,101.3 3.7,100.3 4.7,99.3 5.6,98.3 6.5,97.2 7.5,96.1 8.4,95.1 9.3,94 10.3,92.8 11.2,91.7 12.1,90.6 13.1,89.4 14,88.2 14.9,87 15.9,85.7 16.8,84.5 17.7,83.2 18.7,81.9 19.6,80.6 20.5,79.3 21.5,78 22.4,76.7 23.3,75.3 24.3,73.9 25.2,72.4 26.1,70.9 27.1,69.4 28,68 28.9,66.6 29.9,65.4 30.8,64.1 31.7,62.9 32.7,61.7 33.6,60.6 34.5,59.5 35.5,58.5 36.4,57.6 37.3,56.7 38.3,55.8 39.2,54.8 40.1,53.8 41.1,52.9 42,52.1 42.9,51.4 43.9,50.9 44.8,50.7 45.7,50.8 46.7,51.1 47.6,51.2 48.5,50.9 49.5,50.5 50.4,50.2 51.3,50.9 52.3,51.2 53.2,52.2 54.1,52.4 55.1,53.5 56,50.4 56.9,47.9 57.9,49.4 58.8,50.3 59.7,48.7 60.7,45.7 61.6,45.2 62.5,43.9 63.5,42.7 64.4,43 65.3,44.6 66.3,45.1 67.2,44.9 68.1,45.1 69.1,45.1 70,44.9 70.9,43.6 71.9,42.2 72.8,41.1 73.7,40.8 74.7,41.2 75.6,40.8 76.5,40.2 77.5,40.2 78.4,39.8 79.3,39.3 80.3,40.1 81.2,41.1 82.1,41.5 83.1,43.1 84,43.8 84.9,45.1 85.9,47.4 86.8,48.3 87.7,49.6 88.7,50 89.6,51.6 90.5,53.4 91.5,55.1 92.4,57.1 93.3,58 94.3,59.5 95.2,60.9 96.1,62.2 97.1,63.6 98,65 98.9,66.4 99.9,67.8 100.8,69.1 101.7,70.5 102.7,71.8 103.6,73.1 104.5,74.5 105.5,75.9 106.4,77.3 107.3,78.7 108.3,80.1 109.2,81.4 110.1,82.8 111.1,84.2 112,85.5 112.9,86.7 113.9,88 114.8,89.2 115.7,90.3 116.7,91.3 117.6,92.3 118.5,93.2 119.5,94.1 120.4,94.9 121.3,95.8 122.3,96.6 123.2,97.4 124.1,98.2 125.1,99 126,99.7 126.9,100.4 127.9,101.1 128.8,101.8 129.7,102.5 130.7,103.1 131.6,103.8 132.5,104.4 133.5,105 134.4,105.5 135.3,106.1 136.3,106.6 137.2,107.1 138.1,107.6 139.1,108.1 140,108.6 140.9,109.1 141.9,109.5 142.8,109.9 143.7,110.4 144.7,110.8 145.6,111.2 146.5,111.6 147.5,111.9 148.4,112.3 149.3,112.7 150.3,113 151.2,113.3 152.1,113.7 153.1,114 154,114.3 154.9,114.6 155.9,115 156.8,115.3 157.7,115.6 158.7,115.8 159.6,116.1 160.5,116.4 161.5,116.7 162.4,116.9 163.3,117.2 164.3,117.4 165.2,117.7 166.1,117.9 167.1,118.1 168,118.3" fill="none" stroke="#4cbb7c" stroke-width="0.94" stroke-linejoin="round"/>
<polyline points="0,103 0.9,102.1 1.9,101.2 2.8,100.2 3.7,99.3 4.7,98.3 5.6,97.3 6.5,96.2 7.5,95.2 8.4,94.1 9.3,93.1 10.3,92 11.2,90.9 12.1,89.8 13.1,88.6 14,87.5 14.9,86.3 15.9,85.1 16.8,83.9 17.7,82.7 18.7,81.4 19.6,80.1 20.5,78.9 21.5,77.6 22.4,76.3 23.3,74.9 24.3,73.5 25.2,72.1 26.1,70.6 27.1,69.2 28,67.8 28.9,66.5 29.9,65.2 30.8,64 31.7,62.8 32.7,61.7 33.6,60.6 34.5,59.5 35.5,58.5 36.4,57.6 37.3,56.7 38.3,55.9 39.2,55.3 40.1,54.7 41.1,54.1 42,53.5 42.9,52.8 43.9,52 44.8,51.1 45.7,49.8 46.7,47.9 47.6,46.2 48.5,44.7 49.5,44.7 50.4,46.7 51.3,44.9 52.3,38.3 53.2,34.6 54.1,32.7 55.1,32.5 56,33.1 56.9,34.3 57.9,36.3 58.8,37.4 59.7,34 60.7,29.7 61.6,26.4 62.5,24.5 63.5,24 64.4,24.3 65.3,25.7 66.3,26.4 67.2,26 68.1,24.2 69.1,21.2 70,20.6 70.9,21.1 71.9,21.8 72.8,22.7 73.7,23.2 74.7,24.3 75.6,24.8 76.5,26.3 77.5,27.2 78.4,29 79.3,29 80.3,29.8 81.2,31.4 82.1,32.6 83.1,34.7 84,36.2 84.9,37.8 85.9,40.3 86.8,41.9 87.7,43.6 88.7,46 89.6,47.9 90.5,49.4 91.5,51.3 92.4,53.1 93.3,54.5 94.3,56.2 95.2,57.9 96.1,59.6 97.1,61.3 98,63 98.9,64.6 99.9,66.2 100.8,67.8 101.7,69.3 102.7,70.8 103.6,72.3 104.5,73.7 105.5,75.1 106.4,76.5 107.3,77.9 108.3,79.3 109.2,80.6 110.1,82 111.1,83.3 112,84.5 112.9,85.7 113.9,86.9 114.8,88 115.7,89.1 116.7,90.1 117.6,91.1 118.5,92 119.5,92.9 120.4,93.7 121.3,94.6 122.3,95.4 123.2,96.2 124.1,97 125.1,97.7 126,98.5 126.9,99.2 127.9,99.9 128.8,100.6 129.7,101.3 130.7,101.9 131.6,102.5 132.5,103.1 133.5,103.7 134.4,104.3 135.3,104.9 136.3,105.4 137.2,105.9 138.1,106.4 139.1,106.9 140,107.4 140.9,107.8 141.9,108.3 142.8,108.7 143.7,109.1 144.7,109.5 145.6,109.9 146.5,110.3 147.5,110.7 148.4,111.1 149.3,111.4 150.3,111.8 151.2,112.1 152.1,112.5 153.1,112.8 154,113.1 154.9,113.4 155.9,113.7 156.8,114 157.7,114.3 158.7,114.6 159.6,114.9 160.5,115.2 161.5,115.5 162.4,115.7 163.3,116 164.3,116.2 165.2,116.5 166.1,116.7 167.1,116.9 168,117.1" fill="none" stroke="#f25a5a" stroke-width="0.94" stroke-linejoin="round"/>
<polyline points="0,102.2 0.9,101.3 1.9,100.4 2.8,99.5 3.7,98.5 4.7,97.6 5.6,96.6 6.5,95.6 7.5,94.6 8.4,93.5 9.3,92.5 10.3,91.4 11.2,90.4 12.1,89.3 13.1,88.1 14,87 14.9,85.9 15.9,84.7 16.8,83.5 17.7,82.3 18.7,81 19.6,79.8 20.5,78.5 21.5,77.3 22.4,76 23.3,74.7 24.3,73.3 25.2,71.9 26.1,70.4 27.1,69 28,67.6 28.9,66.3 29.9,65.1 30.8,64 31.7,62.8 32.7,61.7 33.6,60.6 34.5,59.5 35.5,58.5 36.4,57.6 37.3,56.7 38.3,55.9 39.2,55.1 40.1,54.3 41.1,53.6 42,52.9 42.9,52.2 43.9,51.6 44.8,50.9 45.7,50.3 46.7,49.7 47.6,48.9 48.5,48 49.5,46.3 50.4,45.1 51.3,43.3 52.3,42.5 53.2,42.5 54.1,45.1 55.1,47.5 56,44.3 56.9,39.1 57.9,36.2 58.8,34.6 59.7,36.2 60.7,38.8 61.6,38.9 62.5,36.8 63.5,34.7 64.4,33.4 65.3,31.8 66.3,31.5 67.2,32.7 68.1,34.3 69.1,34.4 70,32.8 70.9,31.3 71.9,31 72.8,32.3 73.7,32.6 74.7,33.4 75.6,33 76.5,34.4 77.5,35.3 78.4,36.9 79.3,37.1 80.3,38 81.2,38.4 82.1,39.9 83.1,40.8 84,41.5 84.9,42.6 85.9,43.7 86.8,44.6 87.7,45.8 88.7,47.3 89.6,48.9 90.5,50.1 91.5,51.8 92.4,52.9 93.3,54.5 94.3,56.2 95.2,57.9 96.1,59.5 97.1,61.2 98,62.9 98.9,64.6 99.9,66.3 100.8,68 101.7,69.6 102.7,71.1 103.6,72.5 104.5,73.9 105.5,75.3 106.4,76.7 107.3,78 108.3,79.4 109.2,80.7 110.1,82 111.1,83.3 112,84.5 112.9,85.7 113.9,86.8 114.8,87.9 115.7,89 116.7,90 117.6,90.9 118.5,91.8 119.5,92.7 120.4,93.6 121.3,94.4 122.3,95.3 123.2,96.1 124.1,96.8 125.1,97.6 126,98.3 126.9,99.1 127.9,99.8 128.8,100.5 129.7,101.1 130.7,101.8 131.6,102.4 132.5,103 133.5,103.6 134.4,104.2 135.3,104.7 136.3,105.3 137.2,105.8 138.1,106.3 139.1,106.8 140,107.2 140.9,107.7 141.9,108.2 142.8,108.6 143.7,109 144.7,109.4 145.6,109.8 146.5,110.2 147.5,110.6 148.4,110.9 149.3,111.3 150.3,111.7 151.2,112 152.1,112.3 153.1,112.7 154,113 154.9,113.3 155.9,113.6 156.8,113.9 157.7,114.2 158.7,114.5 159.6,114.8 160.5,115.1 161.5,115.3 162.4,115.6 163.3,115.8 164.3,116.1 165.2,116.3 166.1,116.6 167.1,116.8 168,117" fill="none" stroke="#3f7ef0" stroke-width="0.94" stroke-linejoin="round"/>
</g>
<g transform="translate(262.8,460) scale(0.93750,0.94028)">
<rect x="0" y="0" width="179.2" height="144" fill="none" stroke="#3a3a3a" stroke-width="1.3"/>
<path d="M0,136.8h1.6M0,129.6h2.8M0,122.4h1.6M0,115.2h2.8M0,108h1.6M0,100.8h2.8M0,93.6h1.6M0,86.4h2.8M0,79.2h1.6M0,72h2.8M0,64.8h1.6M0,57.6h2.8M0,50.4h1.6M0,43.2h2.8M0,36h1.6M0,28.8h2.8M0,21.6h1.6M0,14.4h2.8M0,7.2h1.6M19.91,144v-2.8M39.82,144v-1.6M59.73,144v-2.8M79.64,144v-1.6M99.56,144v-2.8M119.47,144v-1.6M139.38,144v-2.8M159.29,144v-1.6M179.2,128.92h-2.4M179.2,113.84h-2.4M179.2,98.76h-2.4M179.2,83.69h-2.4M179.2,68.61h-2.4M179.2,53.53h-2.4" stroke="#444" stroke-width="1" fill="none"/>
<g font-family="Liberation Serif, serif" font-size="6.8" fill="#555"><text transform="translate(-2.6,147.2) scale(1.0,1.12)" text-anchor="end">0</text><text transform="translate(-2.6,132.8) scale(1.0,1.12)" text-anchor="end">10</text><text transform="translate(-2.6,118.4) scale(1.0,1.12)" text-anchor="end">20</text><text transform="translate(-2.6,104) scale(1.0,1.12)" text-anchor="end">30</text><text transform="translate(-2.6,89.6) scale(1.0,1.12)" text-anchor="end">40</text><text transform="translate(-2.6,75.2) scale(1.0,1.12)" text-anchor="end">50</text><text transform="translate(-2.6,60.8) scale(1.0,1.12)" text-anchor="end">60</text><text transform="translate(-2.6,46.4) scale(1.0,1.12)" text-anchor="end">70</text><text transform="translate(-2.6,32) scale(1.0,1.12)" text-anchor="end">80</text><text transform="translate(-2.6,17.6) scale(1.0,1.12)" text-anchor="end">90</text><text transform="translate(-2.6,3.2) scale(1.0,1.12)" text-anchor="end">100</text><text transform="translate(181.8,146.3) scale(0.88,0.95)">−20</text><text transform="translate(181.8,131.22) scale(0.88,0.95)">0</text><text transform="translate(181.8,116.14) scale(0.88,0.95)">20</text><text transform="translate(181.8,101.06) scale(0.88,0.95)">40</text><text transform="translate(181.8,85.99) scale(0.88,0.95)">60</text><text transform="translate(181.8,70.91) scale(0.88,0.95)">80</text><text transform="translate(181.8,55.83) scale(0.88,0.95)">100</text><text transform="translate(19.91,153.1) scale(1,1.05)" text-anchor="middle">−20</text><text transform="translate(59.73,153.1) scale(1,1.05)" text-anchor="middle">0</text><text transform="translate(99.56,153.1) scale(1,1.05)" text-anchor="middle">20</text><text transform="translate(139.38,153.1) scale(1,1.05)" text-anchor="middle">40</text><text transform="translate(179.2,153.1) scale(1,1.05)" text-anchor="middle">60</text></g>
<text font-family="Liberation Serif, serif" font-size="6.85" fill="#222" stroke="#222" stroke-width="0.12" transform="translate(7.5,10.4) scale(1,1.05)">CN=53.9</text>
<g font-family="Liberation Serif, serif" font-size="6.8" fill="#1a1a1a" stroke="#1a1a1a" stroke-width="0.18"><path d="M126.6,7.9H142" stroke="#5a5a5a" stroke-width="1.1"/><text transform="translate(143.7,10.7) scale(1.0,1.12)">0% EGR</text><path d="M126.6,17.1H142" stroke="#f25a5a" stroke-width="1.1"/><text transform="translate(143.7,19.9) scale(1.0,1.12)">10% EGR</text><path d="M126.6,26.3H142" stroke="#3f7ef0" stroke-width="1.1"/><text transform="translate(143.7,29.1) scale(1.0,1.12)">20% EGR</text><path d="M126.6,35.5H142" stroke="#4cbb7c" stroke-width="1.1"/><text transform="translate(143.7,38.3) scale(1.0,1.12)">30% EGR</text></g>
<path d="M16,51.2H36.9" stroke="#333" stroke-width="1"/><path d="M13,51.2l4.2,-1.8v3.6z" fill="#333"/>
<path d="M102.1,97.6H121.6" stroke="#333" stroke-width="1"/><path d="M124.6,97.6l-4.2,-1.8v3.6z" fill="#333"/>
<text font-family="Liberation Serif, serif" font-size="9.75" fill="#2a2a2a" stroke="#2a2a2a" stroke-width="0.25" x="89.3" y="166" text-anchor="middle">Cank angle/°CA ATDC</text>
</g>
<text font-family="Liberation Serif, serif" font-size="9.01" fill="#2a2a2a" stroke="#2a2a2a" stroke-width="0.23" text-anchor="middle" textLength="77.6" lengthAdjust="spacingAndGlyphs" transform="translate(243.71,527.05) rotate(-90)">Cylinder pressure/bar</text>
<text font-family="Liberation Serif, serif" font-size="8.73" fill="#2a2a2a" stroke="#2a2a2a" stroke-width="0.23" text-anchor="middle" textLength="111.3" lengthAdjust="spacingAndGlyphs" transform="translate(452.35,535.65) rotate(-90)">Cylinder heat rate/kJ·(m<tspan font-size="6.95" dy="-3.66">3</tspan><tspan dy="3.66">·CA)</tspan><tspan font-size="7.14" dy="-3.94">-1</tspan></text>
<g transform="translate(483.5,463.8)">
<polyline points="0,120.2 0.9,120.2 1.8,120.3 2.8,120.3 3.7,120.4 4.6,120.4 5.5,120.5 6.4,120.5 7.3,120.5 8.2,120.6 9.2,120.6 10.1,120.7 11,120.7 11.9,120.8 12.8,120.8 13.8,120.8 14.7,120.7 15.6,120.7 16.5,120.7 17.4,120.6 18.3,120.6 19.2,120.6 20.2,120.5 21.1,120.5 22,120.5 22.9,120.5 23.8,120.5 24.8,120.5 25.7,120.5 26.6,120.5 27.5,120.5 28.4,120.4 29.3,120.4 30.2,120.4 31.2,120.4 32.1,120.4 33,120.4 33.9,120.4 34.8,120.4 35.8,120.4 36.7,120.4 37.6,120.3 38.5,120.3 39.4,120.3 40.3,120.3 41.2,120.3 42.2,120.3 43.1,120.3 44,120.3 44.9,120.3 45.8,120.2 46.8,120.2 47.7,120.2 48.6,120.2 49.5,120.2 50.4,120.2 51.3,120.2 52.2,120.2 53.2,113.9 54.1,106.1 55,98.2 55.9,93.5 56.8,90.9 57.7,87.8 58.7,86.4 59.6,83.8 60.5,82 61.4,79.7 62.3,78.2 63.3,76.1 64.2,74.5 65.1,72.3 66,69.3 66.9,67.6 67.8,65.3 68.8,63.4 69.7,61.2 70.6,59.5 71.5,62.2 72.4,64 73.3,66.4 74.2,68.4 75.2,71.9 76.1,74.3 77,77.6 77.9,80.4 78.8,84.2 79.8,87.2 80.7,88.9 81.6,91 82.5,93.1 83.4,95.8 84.3,98.1 85.3,98.8 86.2,98.9 87.1,99.8 88,99.9 88.9,100.3 89.8,100 90.8,100.5 91.7,101.1 92.6,102.1 93.5,102.5 94.4,102.8 95.3,103.3 96.2,103.9 97.2,103.5 98.1,103.6 99,103.9 99.9,104.6 100.8,105 101.8,105 102.7,105.7 103.6,105.8 104.5,106.3 105.4,106.8 106.3,107.2 107.2,107.5 108.2,108.2 109.1,108.5 110,108.8 110.9,109 111.8,109.1 112.8,109.2 113.7,109.9 114.6,110.1 115.5,110.5 116.4,110.9 117.3,111.2 118.2,111.5 119.2,111.5 120.1,112 121,111.9 121.9,112.5 122.8,112.6 123.8,112.9 124.7,113.4 125.6,113.7 126.5,113.5 127.4,113.5 128.3,113.6 129.2,113.5 130.2,113.5 131.1,113.5 132,113.8 132.9,113.9 133.8,113.9 134.8,114.1 135.7,114.2 136.6,114.3 137.5,114.4 138.4,114.4 139.3,114.4 140.2,114.7 141.2,114.6 142.1,114.7 143,114.5 143.9,114.7 144.8,114.5 145.8,114.6 146.7,114.6 147.6,114.8 148.5,114.7 149.4,114.9 150.3,114.9 151.2,114.9 152.2,115 153.1,115.2 154,115.2 154.9,115.2 155.8,115.2 156.8,115.4 157.7,115.3 158.6,115.5 159.5,115.4 160.4,115.5 161.3,115.6 162.2,115.5 163.2,115.6 164.1,115.7 165,116" fill="none" stroke="#5a5a5a" stroke-width="0.87" stroke-linejoin="round"/>
<polyline points="0,120.2 0.9,120.2 1.8,120.3 2.8,120.3 3.7,120.4 4.6,120.4 5.5,120.5 6.4,120.5 7.3,120.5 8.2,120.6 9.2,120.6 10.1,120.7 11,120.7 11.9,120.8 12.8,120.8 13.8,120.8 14.7,120.7 15.6,120.7 16.5,120.7 17.4,120.6 18.3,120.6 19.2,120.6 20.2,120.5 21.1,120.5 22,120.5 22.9,120.5 23.8,120.5 24.8,120.5 25.7,120.5 26.6,120.5 27.5,120.5 28.4,120.5 29.3,120.5 30.2,120.4 31.2,120.4 32.1,120.4 33,120.4 33.9,120.4 34.8,120.4 35.8,120.4 36.7,120.4 37.6,120.4 38.5,120.4 39.4,120.3 40.3,120.3 41.2,120.3 42.2,120.3 43.1,120.3 44,120.3 44.9,120.3 45.8,120.3 46.8,120.3 47.7,120.3 48.6,120.2 49.5,120.2 50.4,120.2 51.3,120.2 52.2,120.2 53.2,120.2 54.1,120.2 55,120.2 55.9,120.2 56.8,112.7 57.7,103.4 58.7,96.7 59.6,94 60.5,92 61.4,90.6 62.3,88.6 63.3,86.8 64.2,85.9 65.1,84.8 66,82.1 66.9,80 67.8,77.1 68.8,74.8 69.7,72.5 70.6,69.2 71.5,67.2 72.4,63.8 73.3,65 74.2,67.1 75.2,70.2 76.1,72.9 77,75.5 77.9,77.8 78.8,81.1 79.8,83.2 80.7,86.3 81.6,88.6 82.5,92 83.4,93.6 84.3,94.8 85.3,95.3 86.2,95.6 87.1,96.8 88,96.9 88.9,97.9 89.8,98.9 90.8,99.9 91.7,100.6 92.6,101 93.5,101.4 94.4,101.7 95.3,101.8 96.2,101.8 97.2,102.4 98.1,102.6 99,103.2 99.9,103.9 100.8,104.3 101.8,104.2 102.7,104.9 103.6,105 104.5,105.6 105.4,105.9 106.3,106.5 107.2,106.4 108.2,106.8 109.1,107.1 110,107.8 110.9,108.1 111.8,108.5 112.8,108.7 113.7,109.2 114.6,109.3 115.5,109.6 116.4,110 117.3,110 118.2,110.5 119.2,110.8 120.1,110.9 121,111.3 121.9,111.5 122.8,111.7 123.8,112 124.7,112.5 125.6,112.7 126.5,112.7 127.4,112.9 128.3,112.9 129.2,113 130.2,113.2 131.1,113.1 132,113.1 132.9,113.4 133.8,113.3 134.8,113.5 135.7,113.6 136.6,113.7 137.5,113.5 138.4,113.8 139.3,113.7 140.2,113.9 141.2,113.9 142.1,113.9 143,114.1 143.9,114.1 144.8,114.2 145.8,114.4 146.7,114.4 147.6,114.6 148.5,114.6 149.4,114.8 150.3,114.8 151.2,114.8 152.2,114.8 153.1,115 154,115.1 154.9,114.9 155.8,114.8 156.8,114.9 157.7,115.2 158.6,115.2 159.5,115.4 160.4,115.4 161.3,115.5 162.2,115.5 163.2,115.8 164.1,115.6 165,115.7" fill="none" stroke="#f25a5a" stroke-width="0.87" stroke-linejoin="round"/>
<polyline points="0,120.2 0.9,120.2 1.8,120.3 2.8,120.3 3.7,120.4 4.6,120.4 5.5,120.5 6.4,120.5 7.3,120.5 8.2,120.6 9.2,120.6 10.1,120.7 11,120.7 11.9,120.8 12.8,120.8 13.8,120.8 14.7,120.7 15.6,120.7 16.5,120.7 17.4,120.6 18.3,120.6 19.2,120.6 20.2,120.5 21.1,120.5 22,120.5 22.9,120.5 23.8,120.5 24.8,120.5 25.7,120.5 26.6,120.5 27.5,120.5 28.4,120.5 29.3,120.5 30.2,120.5 31.2,120.4 32.1,120.4 33,120.4 33.9,120.4 34.8,120.4 35.8,120.4 36.7,120.4 37.6,120.4 38.5,120.4 39.4,120.4 40.3,120.4 41.2,120.3 42.2,120.3 43.1,120.3 44,120.3 44.9,120.3 45.8,120.3 46.8,120.3 47.7,120.3 48.6,120.3 49.5,120.3 50.4,120.3 51.3,120.3 52.2,120.2 53.2,120.2 54.1,120.2 55,120.2 55.9,120.2 56.8,120.2 57.7,120.2 58.7,120.2 59.6,120.2 60.5,114.5 61.4,107.4 62.3,101 63.3,96.2 64.2,94.6 65.1,93.2 66,91.5 66.9,89.9 67.8,88.4 68.8,87.4 69.7,85 70.6,82 71.5,80.1 72.4,77.7 73.3,74.8 74.2,72.1 75.2,69.5 76.1,66.8 77,65.9 77.9,68.8 78.8,71.3 79.8,74.6 80.7,76 81.6,78.7 82.5,80.5 83.4,83.4 84.3,86.4 85.3,89.8 86.2,92 87.1,93.9 88,94.6 88.9,95.3 89.8,96.8 90.8,97.2 91.7,98.1 92.6,98.7 93.5,99.1 94.4,99.6 95.3,100.3 96.2,100.8 97.2,101.6 98.1,101.6 99,102.1 99.9,102.6 100.8,103.1 101.8,103.2 102.7,103.4 103.6,103.9 104.5,104.4 105.4,104.7 106.3,105.5 107.2,105.8 108.2,106 109.1,106.2 110,106.3 110.9,106.8 111.8,107.3 112.8,107.8 113.7,107.9 114.6,108.2 115.5,108.5 116.4,108.8 117.3,109 118.2,109.3 119.2,109.9 120.1,109.9 121,110.3 121.9,110.5 122.8,111.1 123.8,111.5 124.7,111.6 125.6,111.8 126.5,112 127.4,112.3 128.3,112.9 129.2,113 130.2,112.8 131.1,112.7 132,112.8 132.9,112.7 133.8,113 134.8,112.9 135.7,113.1 136.6,113.3 137.5,113.3 138.4,113.4 139.3,113.4 140.2,113.6 141.2,113.7 142.1,113.6 143,113.6 143.9,114.1 144.8,113.9 145.8,114.2 146.7,114.4 147.6,114.4 148.5,114.5 149.4,114.3 150.3,114.5 151.2,114.6 152.2,114.6 153.1,114.8 154,114.7 154.9,114.8 155.8,114.9 156.8,114.9 157.7,114.8 158.6,114.8 159.5,114.8 160.4,115 161.3,115.3 162.2,115.3 163.2,115.6 164.1,115.6 165,115.9" fill="none" stroke="#3f7ef0" stroke-width="0.87" stroke-linejoin="round"/>
<polyline points="0,120.2 0.9,120.2 1.8,120.3 2.8,120.3 3.7,120.4 4.6,120.4 5.5,120.5 6.4,120.5 7.3,120.5 8.2,120.6 9.2,120.6 10.1,120.7 11,120.7 11.9,120.8 12.8,120.8 13.8,120.8 14.7,120.7 15.6,120.7 16.5,120.7 17.4,120.6 18.3,120.6 19.2,120.6 20.2,120.6 21.1,120.5 22,120.5 22.9,120.5 23.8,120.5 24.8,120.5 25.7,120.5 26.6,120.5 27.5,120.5 28.4,120.5 29.3,120.5 30.2,120.5 31.2,120.5 32.1,120.4 33,120.4 33.9,120.4 34.8,120.4 35.8,120.4 36.7,120.4 37.6,120.4 38.5,120.4 39.4,120.4 40.3,120.4 41.2,120.4 42.2,120.4 43.1,120.3 44,120.3 44.9,120.3 45.8,120.3 46.8,120.3 47.7,120.3 48.6,120.3 49.5,120.3 50.4,120.3 51.3,120.3 52.2,120.3 53.2,120.3 54.1,120.2 55,120.2 55.9,120.2 56.8,120.2 57.7,120.2 58.7,120.2 59.6,120.2 60.5,120.2 61.4,120.2 62.3,120.2 63.3,119.1 64.2,113.5 65.1,107.9 66,102.2 66.9,99.6 67.8,98.3 68.8,96.3 69.7,94.9 70.6,92.3 71.5,90.7 72.4,88 73.3,85.6 74.2,82.8 75.2,80.5 76.1,77.9 77,74.4 77.9,72 78.8,72.4 79.8,74.5 80.7,76.6 81.6,78.4 82.5,80.4 83.4,83.1 84.3,86.3 85.3,88.3 86.2,91.8 87.1,93.6 88,94.4 88.9,95 89.8,96 90.8,96.7 91.7,96.7 92.6,96.8 93.5,97.7 94.4,98.1 95.3,98.7 96.2,99.9 97.2,100.2 98.1,100.4 99,100.9 99.9,101.2 100.8,101.8 101.8,102.2 102.7,102.5 103.6,103.1 104.5,103.7 105.4,103.8 106.3,104.3 107.2,104.4 108.2,104.9 109.1,105.3 110,106.1 110.9,106.1 111.8,106.4 112.8,107 113.7,107.1 114.6,107.7 115.5,107.8 116.4,108.5 117.3,108.7 118.2,109.2 119.2,109.5 120.1,110.2 121,110.4 121.9,110.8 122.8,111.3 123.8,111.6 124.7,111.8 125.6,112.3 126.5,112.5 127.4,112.5 128.3,112.6 129.2,112.6 130.2,112.6 131.1,112.5 132,112.6 132.9,112.8 133.8,112.9 134.8,113 135.7,112.9 136.6,112.9 137.5,113.1 138.4,113.1 139.3,113.5 140.2,113.5 141.2,113.4 142.1,113.4 143,113.6 143.9,113.6 144.8,113.7 145.8,114.1 146.7,114.1 147.6,113.9 148.5,114.1 149.4,114.1 150.3,114.3 151.2,114.2 152.2,114.3 153.1,114.5 154,114.6 154.9,114.7 155.8,114.6 156.8,114.5 157.7,114.8 158.6,114.8 159.5,115 160.4,115.2 161.3,115.3 162.2,115.4 163.2,115.3 164.1,115.4 165,115.5" fill="none" stroke="#4cbb7c" stroke-width="0.87" stroke-linejoin="round"/>
<polyline points="0,104.6 0.9,103.9 1.8,103.1 2.8,102.4 3.7,101.6 4.6,100.7 5.5,99.9 6.4,99 7.3,98.1 8.2,97.1 9.2,96.2 10.1,95.2 11,94.2 11.9,93.2 12.8,92.2 13.8,91.1 14.7,89.9 15.6,88.8 16.5,87.6 17.4,86.3 18.3,85.1 19.2,83.8 20.2,82.5 21.1,81.2 22,79.9 22.9,78.5 23.8,77 24.8,75.6 25.7,74.1 26.6,72.7 27.5,71.3 28.4,70 29.3,68.8 30.2,67.5 31.2,66.3 32.1,65.1 33,64 33.9,62.8 34.8,61.7 35.8,60.7 36.7,59.7 37.6,58.7 38.5,57.8 39.4,57 40.3,56.1 41.2,55.3 42.2,54.5 43.1,53.8 44,53.2 44.9,52.8 45.8,52.4 46.8,52 47.7,51.5 48.6,50.4 49.5,44.6 50.4,41.8 51.3,41.4 52.2,40.4 53.2,36.9 54.1,33.4 55,31.4 55.9,32.3 56.8,33.5 57.7,32.1 58.7,26.7 59.6,22.1 60.5,20.2 61.4,22.1 62.3,20 63.3,15.8 64.2,14.7 65.1,15.4 66,16.8 66.9,15.5 67.8,13.5 68.8,12.8 69.7,12.1 70.6,13.5 71.5,14.1 72.4,16.1 73.3,17.3 74.2,19.8 75.2,20.3 76.1,21.8 77,23.5 77.9,24.5 78.8,26 79.8,26.4 80.7,29.6 81.6,31.2 82.5,34.1 83.4,35.1 84.3,35.9 85.3,37.3 86.2,39.7 87.1,41.5 88,42.6 88.9,44.4 89.8,46.1 90.8,47.7 91.7,49.6 92.6,51.2 93.5,52.9 94.4,54.4 95.3,56 96.2,57.4 97.2,58.9 98.1,60.3 99,61.7 99.9,63.1 100.8,64.4 101.8,65.7 102.7,67 103.6,68.3 104.5,69.6 105.4,70.9 106.3,72.2 107.2,73.4 108.2,74.6 109.1,75.8 110,77 110.9,78.2 111.8,79.3 112.8,80.4 113.7,81.4 114.6,82.5 115.5,83.5 116.4,84.5 117.3,85.4 118.2,86.4 119.2,87.3 120.1,88.2 121,89.1 121.9,90 122.8,90.9 123.8,91.7 124.7,92.5 125.6,93.4 126.5,94.1 127.4,94.9 128.3,95.7 129.2,96.4 130.2,97.1 131.1,97.8 132,98.5 132.9,99.1 133.8,99.8 134.8,100.4 135.7,100.9 136.6,101.5 137.5,102 138.4,102.6 139.3,103.1 140.2,103.6 141.2,104.1 142.1,104.6 143,105 143.9,105.5 144.8,105.9 145.8,106.3 146.7,106.7 147.6,107.1 148.5,107.5 149.4,107.9 150.3,108.3 151.2,108.6 152.2,109 153.1,109.3 154,109.7 154.9,110 155.8,110.3 156.8,110.6 157.7,110.9 158.6,111.2 159.5,111.5 160.4,111.8 161.3,112.1 162.2,112.3 163.2,112.6 164.1,112.8 165,113" fill="none" stroke="#5a5a5a" stroke-width="0.92" stroke-linejoin="round"/>
<polyline points="0,106.2 0.9,105.4 1.8,104.6 2.8,103.8 3.7,103 4.6,102.1 5.5,101.2 6.4,100.3 7.3,99.3 8.2,98.3 9.2,97.3 10.1,96.3 11,95.3 11.9,94.2 12.8,93.1 13.8,92 14.7,90.8 15.6,89.6 16.5,88.3 17.4,87.1 18.3,85.8 19.2,84.4 20.2,83.1 21.1,81.8 22,80.4 22.9,78.9 23.8,77.5 24.8,76 25.7,74.5 26.6,73 27.5,71.6 28.4,70.2 29.3,69 30.2,67.7 31.2,66.4 32.1,65.2 33,64 33.9,62.8 34.8,61.7 35.8,60.7 36.7,59.7 37.6,58.7 38.5,57.7 39.4,56.7 40.3,55.8 41.2,54.9 42.2,54.3 43.1,53.8 44,53.5 44.9,53.3 45.8,53.1 46.8,53.1 47.7,52.8 48.6,53 49.5,52.2 50.4,51.6 51.3,50.6 52.2,49.9 53.2,48.6 54.1,47.6 55,47.7 55.9,46.3 56.8,46.5 57.7,45.3 58.7,44.5 59.6,42.6 60.5,42.1 61.4,42.3 62.3,42.5 63.3,42.3 64.2,43.4 65.1,43.2 66,44.1 66.9,41.7 67.8,37.9 68.8,35.6 69.7,37.6 70.6,38.9 71.5,39 72.4,39.7 73.3,40.5 74.2,40.5 75.2,40.5 76.1,39.1 77,39.3 77.9,39.2 78.8,40.2 79.8,40.5 80.7,39.9 81.6,40.4 82.5,40.9 83.4,40.6 84.3,40.9 85.3,41 86.2,42.5 87.1,43.3 88,45.1 88.9,46.4 89.8,47.5 90.8,49.1 91.7,50.5 92.6,52.2 93.5,53.6 94.4,55.1 95.3,56.5 96.2,58 97.2,59.5 98.1,60.9 99,62.4 99.9,63.8 100.8,65.2 101.8,66.5 102.7,67.9 103.6,69.2 104.5,70.6 105.4,71.9 106.3,73.3 107.2,74.6 108.2,75.9 109.1,77.2 110,78.4 110.9,79.7 111.8,80.8 112.8,82 113.7,83.1 114.6,84.2 115.5,85.2 116.4,86.2 117.3,87.1 118.2,88.1 119.2,89 120.1,89.9 121,90.8 121.9,91.7 122.8,92.6 123.8,93.4 124.7,94.3 125.6,95.1 126.5,95.9 127.4,96.6 128.3,97.4 129.2,98.1 130.2,98.8 131.1,99.5 132,100.2 132.9,100.9 133.8,101.5 134.8,102.1 135.7,102.7 136.6,103.2 137.5,103.8 138.4,104.3 139.3,104.8 140.2,105.3 141.2,105.8 142.1,106.3 143,106.7 143.9,107.2 144.8,107.6 145.8,108 146.7,108.5 147.6,108.9 148.5,109.2 149.4,109.6 150.3,110 151.2,110.3 152.2,110.7 153.1,111 154,111.4 154.9,111.7 155.8,112 156.8,112.4 157.7,112.7 158.6,113 159.5,113.2 160.4,113.5 161.3,113.8 162.2,114 163.2,114.3 164.1,114.5 165,114.7" fill="none" stroke="#4cbb7c" stroke-width="0.92" stroke-linejoin="round"/>
<polyline points="0,105 0.9,104.3 1.8,103.5 2.8,102.7 3.7,101.9 4.6,101.1 5.5,100.2 6.4,99.3 7.3,98.4 8.2,97.4 9.2,96.5 10.1,95.5 11,94.5 11.9,93.5 12.8,92.4 13.8,91.3 14.7,90.2 15.6,89 16.5,87.7 17.4,86.5 18.3,85.2 19.2,84 20.2,82.7 21.1,81.4 22,80 22.9,78.6 23.8,77.1 24.8,75.7 25.7,74.2 26.6,72.8 27.5,71.4 28.4,70.1 29.3,68.8 30.2,67.6 31.2,66.3 32.1,65.1 33,64 33.9,62.8 34.8,61.7 35.8,60.7 36.7,59.7 37.6,58.7 38.5,57.8 39.4,57 40.3,56.1 41.2,55.3 42.2,54.5 43.1,53.8 44,53.2 44.9,52.6 45.8,52.1 46.8,51.7 47.7,51.1 48.6,50.6 49.5,48.5 50.4,46 51.3,43.6 52.2,40.8 53.2,38.3 54.1,36.6 55,35.2 55.9,35.7 56.8,36.7 57.7,35.7 58.7,34.5 59.6,32.5 60.5,29.5 61.4,26.5 62.3,24.6 63.3,23 64.2,22.7 65.1,23 66,22.5 66.9,22 67.8,20.3 68.8,18.8 69.7,18.9 70.6,19.8 71.5,20.8 72.4,21.2 73.3,21.1 74.2,22.2 75.2,22.5 76.1,23.9 77,25 77.9,25.5 78.8,26.3 79.8,27.7 80.7,29.1 81.6,31.2 82.5,33.5 83.4,35.1 84.3,37.4 85.3,39.5 86.2,40.4 87.1,41.7 88,42.7 88.9,44.4 89.8,46.2 90.8,48.1 91.7,49.6 92.6,51.2 93.5,52.8 94.4,54.3 95.3,55.9 96.2,57.4 97.2,58.9 98.1,60.4 99,61.8 99.9,63.3 100.8,64.7 101.8,66 102.7,67.4 103.6,68.7 104.5,70.1 105.4,71.4 106.3,72.7 107.2,74 108.2,75.3 109.1,76.5 110,77.8 110.9,79 111.8,80.1 112.8,81.3 113.7,82.4 114.6,83.4 115.5,84.4 116.4,85.4 117.3,86.3 118.2,87.3 119.2,88.2 120.1,89.1 121,90 121.9,90.9 122.8,91.8 123.8,92.6 124.7,93.5 125.6,94.3 126.5,95.1 127.4,95.8 128.3,96.6 129.2,97.3 130.2,98.1 131.1,98.7 132,99.4 132.9,100.1 133.8,100.7 134.8,101.3 135.7,101.9 136.6,102.4 137.5,103 138.4,103.5 139.3,104 140.2,104.5 141.2,105 142.1,105.5 143,105.9 143.9,106.4 144.8,106.8 145.8,107.3 146.7,107.7 147.6,108.1 148.5,108.5 149.4,108.8 150.3,109.2 151.2,109.6 152.2,109.9 153.1,110.3 154,110.6 154.9,110.9 155.8,111.2 156.8,111.6 157.7,111.9 158.6,112.2 159.5,112.5 160.4,112.7 161.3,113 162.2,113.3 163.2,113.5 164.1,113.7 165,114" fill="none" stroke="#f25a5a" stroke-width="0.92" stroke-linejoin="round"/>
<polyline points="0,104.2 0.9,103.5 1.8,102.8 2.8,102 3.7,101.2 4.6,100.4 5.5,99.5 6.4,98.7 7.3,97.8 8.2,96.9 9.2,95.9 10.1,94.9 11,94 11.9,93 12.8,91.9 13.8,90.8 14.7,89.7 15.6,88.5 16.5,87.4 17.4,86.1 18.3,84.9 19.2,83.6 20.2,82.4 21.1,81.1 22,79.7 22.9,78.3 23.8,76.9 24.8,75.5 25.7,74 26.6,72.6 27.5,71.3 28.4,70 29.3,68.7 30.2,67.5 31.2,66.3 32.1,65.1 33,64 33.9,62.8 34.8,61.7 35.8,60.7 36.7,59.7 37.6,58.7 38.5,57.8 39.4,57 40.3,56.1 41.2,55.3 42.2,54.5 43.1,53.8 44,53.1 44.9,52.5 45.8,52 46.8,51.3 47.7,50.9 48.6,49.9 49.5,49.5 50.4,47.6 51.3,45.5 52.2,43.8 53.2,44.5 54.1,44.4 55,44.5 55.9,43.8 56.8,42 57.7,39.5 58.7,36.6 59.6,34.3 60.5,33 61.4,31.7 62.3,31.1 63.3,30.6 64.2,30.3 65.1,29.8 66,29 66.9,29.3 67.8,29.6 68.8,29.8 69.7,28.7 70.6,28.5 71.5,29.1 72.4,29.6 73.3,30.8 74.2,30.9 75.2,31.2 76.1,30.7 77,31.1 77.9,31.8 78.8,31.6 79.8,32.9 80.7,33.9 81.6,35.9 82.5,37.7 83.4,38.4 84.3,39.4 85.3,40.4 86.2,41.8 87.1,43.2 88,43.9 88.9,45.4 89.8,46.7 90.8,48.6 91.7,49.7 92.6,51 93.5,52.6 94.4,54.1 95.3,55.6 96.2,57.1 97.2,58.7 98.1,60.2 99,61.7 99.9,63.1 100.8,64.5 101.8,65.8 102.7,67.2 103.6,68.5 104.5,69.8 105.4,71.1 106.3,72.4 107.2,73.7 108.2,74.9 109.1,76.1 110,77.3 110.9,78.5 111.8,79.6 112.8,80.8 113.7,81.8 114.6,82.9 115.5,83.9 116.4,84.9 117.3,85.8 118.2,86.8 119.2,87.7 120.1,88.6 121,89.5 121.9,90.4 122.8,91.3 123.8,92.1 124.7,92.9 125.6,93.8 126.5,94.5 127.4,95.3 128.3,96.1 129.2,96.8 130.2,97.5 131.1,98.2 132,98.9 132.9,99.5 133.8,100.2 134.8,100.8 135.7,101.3 136.6,101.9 137.5,102.4 138.4,103 139.3,103.5 140.2,104 141.2,104.5 142.1,105 143,105.4 143.9,105.9 144.8,106.3 145.8,106.7 146.7,107.1 147.6,107.5 148.5,107.9 149.4,108.3 150.3,108.7 151.2,109 152.2,109.4 153.1,109.7 154,110.1 154.9,110.4 155.8,110.7 156.8,111 157.7,111.3 158.6,111.6 159.5,111.9 160.4,112.2 161.3,112.5 162.2,112.7 163.2,113 164.1,113.2 165,113.4" fill="none" stroke="#3f7ef0" stroke-width="0.92" stroke-linejoin="round"/>
</g>
<g transform="translate(483.5,463.8) scale(0.92076,0.91806)">
<rect x="0" y="0" width="179.2" height="144" fill="none" stroke="#3a3a3a" stroke-width="1.3"/>
<path d="M0,136.8h1.6M0,129.6h2.8M0,122.4h1.6M0,115.2h2.8M0,108h1.6M0,100.8h2.8M0,93.6h1.6M0,86.4h2.8M0,79.2h1.6M0,72h2.8M0,64.8h1.6M0,57.6h2.8M0,50.4h1.6M0,43.2h2.8M0,36h1.6M0,28.8h2.8M0,21.6h1.6M0,14.4h2.8M0,7.2h1.6M19.91,144v-2.8M39.82,144v-1.6M59.73,144v-2.8M79.64,144v-1.6M99.56,144v-2.8M119.47,144v-1.6M139.38,144v-2.8M159.29,144v-1.6M179.2,128.92h-2.4M179.2,113.84h-2.4M179.2,98.76h-2.4M179.2,83.69h-2.4M179.2,68.61h-2.4M179.2,53.53h-2.4" stroke="#444" stroke-width="1" fill="none"/>
<g font-family="Liberation Serif, serif" font-size="6.8" fill="#555"><text transform="translate(-2.6,147.2) scale(1.0,1.12)" text-anchor="end">0</text><text transform="translate(-2.6,132.8) scale(1.0,1.12)" text-anchor="end">10</text><text transform="translate(-2.6,118.4) scale(1.0,1.12)" text-anchor="end">20</text><text transform="translate(-2.6,104) scale(1.0,1.12)" text-anchor="end">30</text><text transform="translate(-2.6,89.6) scale(1.0,1.12)" text-anchor="end">40</text><text transform="translate(-2.6,75.2) scale(1.0,1.12)" text-anchor="end">50</text><text transform="translate(-2.6,60.8) scale(1.0,1.12)" text-anchor="end">60</text><text transform="translate(-2.6,46.4) scale(1.0,1.12)" text-anchor="end">70</text><text transform="translate(-2.6,32) scale(1.0,1.12)" text-anchor="end">80</text><text transform="translate(-2.6,17.6) scale(1.0,1.12)" text-anchor="end">90</text><text transform="translate(-2.6,3.2) scale(1.0,1.12)" text-anchor="end">100</text><text transform="translate(181.8,146.3) scale(0.88,0.95)">−20</text><text transform="translate(181.8,131.22) scale(0.88,0.95)">0</text><text transform="translate(181.8,116.14) scale(0.88,0.95)">20</text><text transform="translate(181.8,101.06) scale(0.88,0.95)">40</text><text transform="translate(181.8,85.99) scale(0.88,0.95)">60</text><text transform="translate(181.8,70.91) scale(0.88,0.95)">80</text><text transform="translate(181.8,55.83) scale(0.88,0.95)">100</text><text transform="translate(19.91,153.1) scale(1,1.05)" text-anchor="middle">−20</text><text transform="translate(59.73,153.1) scale(1,1.05)" text-anchor="middle">0</text><text transform="translate(99.56,153.1) scale(1,1.05)" text-anchor="middle">20</text><text transform="translate(139.38,153.1) scale(1,1.05)" text-anchor="middle">40</text><text transform="translate(179.2,153.1) scale(1,1.05)" text-anchor="middle">60</text></g>
<text font-family="Liberation Serif, serif" font-size="6.85" fill="#222" stroke="#222" stroke-width="0.12" transform="translate(7.5,10.4) scale(1,1.05)">CN=55.3</text>
<g font-family="Liberation Serif, serif" font-size="6.8" fill="#1a1a1a" stroke="#1a1a1a" stroke-width="0.18"><path d="M126.6,7.9H142" stroke="#5a5a5a" stroke-width="1.1"/><text transform="translate(143.7,10.7) scale(1.0,1.12)">0% EGR</text><path d="M126.6,17.1H142" stroke="#f25a5a" stroke-width="1.1"/><text transform="translate(143.7,19.9) scale(1.0,1.12)">10% EGR</text><path d="M126.6,26.3H142" stroke="#3f7ef0" stroke-width="1.1"/><text transform="translate(143.7,29.1) scale(1.0,1.12)">20% EGR</text><path d="M126.6,35.5H142" stroke="#4cbb7c" stroke-width="1.1"/><text transform="translate(143.7,38.3) scale(1.0,1.12)">30% EGR</text></g>
<path d="M16,51.2H36.9" stroke="#333" stroke-width="1"/><path d="M13,51.2l4.2,-1.8v3.6z" fill="#333"/>
<path d="M102.1,97.6H121.6" stroke="#333" stroke-width="1"/><path d="M124.6,97.6l-4.2,-1.8v3.6z" fill="#333"/>
<text font-family="Liberation Serif, serif" font-size="9.75" fill="#2a2a2a" stroke="#2a2a2a" stroke-width="0.25" x="89.3" y="166" text-anchor="middle">Cank angle/°CA ATDC</text>
</g>
<text font-family="Liberation Serif, serif" font-size="8.83" fill="#2a2a2a" stroke="#2a2a2a" stroke-width="0.23" text-anchor="middle" textLength="71.4" lengthAdjust="spacingAndGlyphs" transform="translate(465.73,528.25) rotate(-90)">Cylinder pressure/bar</text>
<text font-family="Liberation Serif, serif" font-size="8.55" fill="#2a2a2a" stroke="#2a2a2a" stroke-width="0.23" text-anchor="middle" textLength="99.1" lengthAdjust="spacingAndGlyphs" transform="translate(670.5,533.65) rotate(-90)">Cylinder heat rate/kJ·(m<tspan font-size="6.8" dy="-3.59">3</tspan><tspan dy="3.59">·CA)</tspan><tspan font-size="6.99" dy="-3.86">-1</tspan></text>
<g transform="translate(148.9,641.9)">
<polyline points="0,125 1,125 1.9,125.1 2.9,125.1 3.8,125.1 4.8,125.2 5.7,125.2 6.7,125.2 7.6,125.2 8.6,125.3 9.5,125.3 10.5,125.3 11.4,125.3 12.4,125.4 13.3,125.4 14.3,125.4 15.3,125.4 16.2,125.4 17.2,125.4 18.1,125.4 19.1,125.4 20,125.4 21,125.3 21.9,125.3 22.9,125.3 23.8,125.3 24.8,125.3 25.7,125.3 26.7,125.3 27.6,125.2 28.6,125.2 29.6,125.2 30.5,125.2 31.5,125.2 32.4,125.2 33.4,125.2 34.3,125.2 35.3,125.2 36.2,125.2 37.2,125.1 38.1,125.1 39.1,125.1 40,125.1 41,125.1 41.9,125.1 42.9,125.1 43.9,125.1 44.8,125.1 45.8,125 46.7,125 47.7,125 48.6,117.3 49.6,109.6 50.5,103.4 51.5,99.6 52.4,95.6 53.4,91.5 54.3,87.9 55.3,85.5 56.2,83 57.2,81.3 58.2,77.9 59.1,75.7 60.1,72.6 61,71.4 62,70.7 62.9,70 63.9,69.5 64.8,68.2 65.8,67.7 66.7,66.2 67.7,67.5 68.6,70.6 69.6,74 70.5,77.6 71.5,80.7 72.5,84.1 73.4,86.9 74.4,89.4 75.3,91.3 76.3,94 77.2,95.5 78.2,98.5 79.1,99.9 80.1,100.6 81,101.9 82,102 82.9,102.8 83.9,103.7 84.8,104.3 85.8,105 86.8,105.9 87.7,107.1 88.7,107.7 89.6,107.8 90.6,108.9 91.5,108.9 92.5,108.8 93.4,109.5 94.4,109.6 95.3,109.7 96.3,110.3 97.2,110.5 98.2,111 99.1,111.1 100.1,111.1 101.1,111.2 102,111.7 103,111.7 103.9,112.3 104.9,112.6 105.8,112.8 106.8,113 107.7,112.7 108.7,113.2 109.6,113.8 110.6,114 111.5,114.7 112.5,114.9 113.4,115.2 114.4,115.5 115.4,115.9 116.3,116.1 117.3,116.3 118.2,116.6 119.2,117.2 120.1,117.6 121.1,117.9 122,118.2 123,118.4 123.9,118.8 124.9,119.3 125.8,119.6 126.8,119.6 127.7,119.6 128.7,119.7 129.7,119.7 130.6,119.9 131.6,119.9 132.5,119.8 133.5,119.9 134.4,119.6 135.4,119.9 136.3,119.8 137.3,120 138.2,119.9 139.2,120 140.1,120 141.1,119.8 142,120.1 143,120.1 144,120.1 144.9,120 145.9,120.1 146.8,120.3 147.8,120.4 148.7,120.6 149.7,120.4 150.6,120.5 151.6,120.4 152.5,120.6 153.5,120.6 154.4,120.6 155.4,120.8 156.3,120.9 157.3,120.8 158.3,120.7 159.2,120.6 160.2,120.7 161.1,120.6 162.1,120.9 163,121 164,121 164.9,120.9 165.9,121.1 166.8,120.9 167.8,120.9 168.7,121.1 169.7,121.2 170.6,121 171.6,121" fill="none" stroke="#5a5a5a" stroke-width="0.91" stroke-linejoin="round"/>
<polyline points="0,125 1,125 1.9,125.1 2.9,125.1 3.8,125.1 4.8,125.2 5.7,125.2 6.7,125.2 7.6,125.2 8.6,125.3 9.5,125.3 10.5,125.3 11.4,125.3 12.4,125.4 13.3,125.4 14.3,125.4 15.3,125.4 16.2,125.4 17.2,125.4 18.1,125.4 19.1,125.4 20,125.4 21,125.3 21.9,125.3 22.9,125.3 23.8,125.3 24.8,125.3 25.7,125.3 26.7,125.3 27.6,125.3 28.6,125.2 29.6,125.2 30.5,125.2 31.5,125.2 32.4,125.2 33.4,125.2 34.3,125.2 35.3,125.2 36.2,125.2 37.2,125.2 38.1,125.2 39.1,125.2 40,125.1 41,125.1 41.9,125.1 42.9,125.1 43.9,125.1 44.8,125.1 45.8,125.1 46.7,125.1 47.7,125.1 48.6,125.1 49.6,125.1 50.5,125 51.5,125 52.4,125 53.4,125 54.3,117.2 55.3,109.4 56.2,101.6 57.2,97.3 58.2,94 59.1,91 60.1,88.2 61,85.6 62,82.6 62.9,80.1 63.9,78.7 64.8,77.8 65.8,76.9 66.7,75.7 67.7,74.3 68.6,73.3 69.6,71.6 70.5,71.2 71.5,69.6 72.5,68.6 73.4,70.1 74.4,72.7 75.3,76.4 76.3,78.7 77.2,81.9 78.2,84.5 79.1,85.8 80.1,87.8 81,89.9 82,92.1 82.9,94.5 83.9,96.3 84.8,97 85.8,97.6 86.8,98.3 87.7,99.3 88.7,100.2 89.6,100.8 90.6,102.1 91.5,103.2 92.5,103.5 93.4,104.7 94.4,105.4 95.3,106 96.3,106.8 97.2,107 98.2,107 99.1,107.3 100.1,107.6 101.1,108.2 102,108.2 103,108.7 103.9,109.3 104.9,109.6 105.8,110.2 106.8,110.7 107.7,110.8 108.7,110.9 109.6,111.1 110.6,111.8 111.5,112 112.5,112.3 113.4,112.1 114.4,112.2 115.4,112.6 116.3,112.7 117.3,113.1 118.2,113.5 119.2,113.7 120.1,114.2 121.1,114.3 122,114.6 123,114.8 123.9,115.3 124.9,115.5 125.8,115.9 126.8,115.9 127.7,116.2 128.7,116.4 129.7,116.9 130.6,116.9 131.6,117 132.5,117.1 133.5,117.3 134.4,117.5 135.4,117.3 136.3,117.2 137.3,117.2 138.2,117.3 139.2,117.4 140.1,117.7 141.1,117.8 142,117.9 143,118.1 144,118.4 144.9,118.4 145.9,118.5 146.8,118.3 147.8,118.6 148.7,118.6 149.7,118.6 150.6,118.5 151.6,118.4 152.5,118.4 153.5,118.5 154.4,118.6 155.4,118.6 156.3,118.7 157.3,118.9 158.3,118.8 159.2,119 160.2,119.2 161.1,119.3 162.1,119.2 163,119.1 164,119.3 164.9,119.2 165.9,119.4 166.8,119.5 167.8,119.4 168.7,119.8 169.7,119.8 170.6,120 171.6,120.1" fill="none" stroke="#f25a5a" stroke-width="0.91" stroke-linejoin="round"/>
<polyline points="0,125 1,125 1.9,125.1 2.9,125.1 3.8,125.1 4.8,125.2 5.7,125.2 6.7,125.2 7.6,125.2 8.6,125.3 9.5,125.3 10.5,125.3 11.4,125.3 12.4,125.4 13.3,125.4 14.3,125.4 15.3,125.4 16.2,125.4 17.2,125.4 18.1,125.4 19.1,125.4 20,125.4 21,125.3 21.9,125.3 22.9,125.3 23.8,125.3 24.8,125.3 25.7,125.3 26.7,125.3 27.6,125.3 28.6,125.3 29.6,125.2 30.5,125.2 31.5,125.2 32.4,125.2 33.4,125.2 34.3,125.2 35.3,125.2 36.2,125.2 37.2,125.2 38.1,125.2 39.1,125.2 40,125.2 41,125.2 41.9,125.2 42.9,125.1 43.9,125.1 44.8,125.1 45.8,125.1 46.7,125.1 47.7,125.1 48.6,125.1 49.6,125.1 50.5,125.1 51.5,125.1 52.4,125.1 53.4,125.1 54.3,125.1 55.3,125.1 56.2,125 57.2,125 58.2,125 59.1,124 60.1,119 61,114 62,108.8 62.9,104 63.9,101.3 64.8,98.6 65.8,96.4 66.7,92.8 67.7,89.5 68.6,87.9 69.6,85.9 70.5,84.4 71.5,83 72.5,81.3 73.4,79.5 74.4,78.2 75.3,76.9 76.3,76 77.2,74.2 78.2,72.5 79.1,74.8 80.1,77.3 81,79.6 82,82 82.9,84.8 83.9,86.7 84.8,88.7 85.8,90.1 86.8,92 87.7,94.4 88.7,95.6 89.6,96.3 90.6,97.6 91.5,98.4 92.5,98.7 93.4,99.3 94.4,100.6 95.3,101 96.3,101.9 97.2,103 98.2,103.5 99.1,103.7 100.1,104.9 101.1,105.4 102,105.1 103,105.7 103.9,106.3 104.9,106.8 105.8,107.1 106.8,107.5 107.7,108.1 108.7,108.2 109.6,109 110.6,109.4 111.5,110 112.5,110.3 113.4,110.7 114.4,111.1 115.4,111.4 116.3,111.6 117.3,111.8 118.2,112.2 119.2,112.7 120.1,112.8 121.1,113.2 122,113.4 123,113.5 123.9,113.8 124.9,114.2 125.8,114.3 126.8,114.5 127.7,115.1 128.7,115.4 129.7,115.8 130.6,116 131.6,116.4 132.5,116.5 133.5,116.6 134.4,116.4 135.4,116.7 136.3,116.7 137.3,116.8 138.2,116.6 139.2,116.8 140.1,116.7 141.1,116.9 142,116.8 143,117 144,117.1 144.9,117.2 145.9,117.4 146.8,117.5 147.8,117.6 148.7,117.7 149.7,117.9 150.6,117.7 151.6,117.7 152.5,117.8 153.5,117.8 154.4,118.1 155.4,118 156.3,118.1 157.3,118 158.3,118.5 159.2,118.6 160.2,118.7 161.1,118.8 162.1,118.9 163,118.9 164,119 164.9,119.1 165.9,119.2 166.8,119.2 167.8,119.2 168.7,119.6 169.7,119.3 170.6,119.4 171.6,119.4" fill="none" stroke="#3f7ef0" stroke-width="0.91" stroke-linejoin="round"/>
<polyline points="0,125 1,125 1.9,125.1 2.9,125.1 3.8,125.1 4.8,125.2 5.7,125.2 6.7,125.2 7.6,125.2 8.6,125.3 9.5,125.3 10.5,125.3 11.4,125.3 12.4,125.4 13.3,125.4 14.3,125.4 15.3,125.4 16.2,125.4 17.2,125.4 18.1,125.4 19.1,125.4 20,125.4 21,125.3 21.9,125.3 22.9,125.3 23.8,125.3 24.8,125.3 25.7,125.3 26.7,125.3 27.6,125.3 28.6,125.3 29.6,125.3 30.5,125.2 31.5,125.2 32.4,125.2 33.4,125.2 34.3,125.2 35.3,125.2 36.2,125.2 37.2,125.2 38.1,125.2 39.1,125.2 40,125.2 41,125.2 41.9,125.2 42.9,125.2 43.9,125.2 44.8,125.2 45.8,125.2 46.7,125.1 47.7,125.1 48.6,125.1 49.6,125.1 50.5,125.1 51.5,125.1 52.4,125.1 53.4,125.1 54.3,125.1 55.3,125.1 56.2,125.1 57.2,125.1 58.2,125.1 59.1,125.1 60.1,125.1 61,125.1 62,125 62.9,125 63.9,125 64.8,125 65.8,121.9 66.7,116.6 67.7,111.4 68.6,106.2 69.6,103.3 70.5,101.4 71.5,98.6 72.5,97.6 73.4,96.4 74.4,95 75.3,94.2 76.3,91.6 77.2,89.5 78.2,86.8 79.1,84.9 80.1,82.2 81,80.7 82,78.9 82.9,77.5 83.9,75.8 84.8,75.9 85.8,78.5 86.8,80.7 87.7,83.3 88.7,85.8 89.6,88.8 90.6,90.7 91.5,92.9 92.5,94.9 93.4,95.6 94.4,96.2 95.3,97.1 96.3,98.6 97.2,99.2 98.2,99.7 99.1,100.6 100.1,100.7 101.1,101.4 102,102.1 103,102.9 103.9,103.2 104.9,103.7 105.8,104.1 106.8,104.7 107.7,105.4 108.7,105.7 109.6,106.2 110.6,106.6 111.5,106.9 112.5,107.4 113.4,108.1 114.4,108.2 115.4,109.2 116.3,109.5 117.3,109.9 118.2,110.3 119.2,110.6 120.1,111.1 121.1,111.4 122,111.8 123,112.1 123.9,112.4 124.9,113.1 125.8,113.4 126.8,113.7 127.7,114 128.7,114.4 129.7,114.5 130.6,114.9 131.6,115 132.5,115.1 133.5,115.3 134.4,115.6 135.4,115.7 136.3,115.9 137.3,115.9 138.2,116 139.2,116.2 140.1,116 141.1,116.3 142,116.3 143,116.3 144,116.4 144.9,116.6 145.9,117.1 146.8,117.1 147.8,116.8 148.7,117.1 149.7,117.2 150.6,117.3 151.6,117.2 152.5,117.6 153.5,117.6 154.4,117.9 155.4,117.9 156.3,118.1 157.3,117.9 158.3,118.2 159.2,118.2 160.2,118.1 161.1,118.3 162.1,118.1 163,118.2 164,118.4 164.9,118.5 165.9,118.9 166.8,118.9 167.8,118.8 168.7,119 169.7,119.2 170.6,119.4 171.6,119.5" fill="none" stroke="#4cbb7c" stroke-width="0.91" stroke-linejoin="round"/>
<polyline points="0,109.4 1,108.4 1.9,107.5 2.9,106.5 3.8,105.5 4.8,104.5 5.7,103.4 6.7,102.4 7.6,101.3 8.6,100.3 9.5,99.2 10.5,98.1 11.4,97 12.4,95.8 13.3,94.7 14.3,93.5 15.3,92.3 16.2,91.1 17.2,89.8 18.1,88.6 19.1,87.3 20,86.1 21,84.8 21.9,83.5 22.9,82.2 23.8,80.9 24.8,79.5 25.7,78.1 26.7,76.7 27.6,75.3 28.6,73.9 29.6,72.6 30.5,71.4 31.5,70.2 32.4,69 33.4,67.9 34.3,66.8 35.3,65.7 36.2,64.6 37.2,63.6 38.1,62.6 39.1,61.7 40,60.8 41,60 41.9,59.2 42.9,58.3 43.9,57.5 44.8,56.7 45.8,56 46.7,55.5 47.7,55 48.6,54.3 49.6,53.5 50.5,51.9 51.5,43.8 52.4,43.6 53.4,43.9 54.3,43.2 55.3,41 56.2,36.6 57.2,32.6 58.2,33.5 59.1,34.9 60.1,33.5 61,28.6 62,23.4 62.9,22.2 63.9,23.5 64.8,22.3 65.8,18.7 66.7,16.1 67.7,14 68.6,15.3 69.6,16 70.5,15 71.5,13.5 72.5,12.5 73.4,13 74.4,13.6 75.3,13.6 76.3,14.9 77.2,15.1 78.2,17.4 79.1,18.4 80.1,20.9 81,22.4 82,22.9 82.9,24.4 83.9,26.1 84.8,28.4 85.8,30.1 86.8,31.3 87.7,34.1 88.7,35.3 89.6,37.1 90.6,39.3 91.5,40.8 92.5,42.8 93.4,45.2 94.4,47.1 95.3,49.1 96.3,51 97.2,52.7 98.2,54.4 99.1,56.1 100.1,57.8 101.1,59.4 102,60.9 103,62.5 103.9,64 104.9,65.4 105.8,66.8 106.8,68.2 107.7,69.6 108.7,70.9 109.6,72.2 110.6,73.5 111.5,74.8 112.5,76.1 113.4,77.3 114.4,78.5 115.4,79.7 116.3,80.9 117.3,82 118.2,83.1 119.2,84.2 120.1,85.3 121.1,86.3 122,87.3 123,88.4 123.9,89.4 124.9,90.4 125.8,91.4 126.8,92.4 127.7,93.3 128.7,94.3 129.7,95.2 130.6,96.1 131.6,97 132.5,97.8 133.5,98.7 134.4,99.5 135.4,100.3 136.3,101.1 137.3,101.9 138.2,102.6 139.2,103.3 140.1,104 141.1,104.7 142,105.3 143,105.9 144,106.6 144.9,107.2 145.9,107.7 146.8,108.3 147.8,108.9 148.7,109.4 149.7,109.9 150.6,110.4 151.6,110.9 152.5,111.4 153.5,111.9 154.4,112.4 155.4,112.8 156.3,113.3 157.3,113.7 158.3,114.1 159.2,114.6 160.2,115 161.1,115.4 162.1,115.8 163,116.2 164,116.5 164.9,116.9 165.9,117.3 166.8,117.6 167.8,118 168.7,118.3 169.7,118.6 170.6,118.9 171.6,119.2" fill="none" stroke="#5a5a5a" stroke-width="0.96" stroke-linejoin="round"/>
<polyline points="0,111.1 1,110.1 1.9,109 2.9,108 3.8,107 4.8,105.9 5.7,104.8 6.7,103.7 7.6,102.6 8.6,101.5 9.5,100.4 10.5,99.2 11.4,98.1 12.4,96.9 13.3,95.7 14.3,94.4 15.3,93.2 16.2,91.9 17.2,90.7 18.1,89.4 19.1,88.1 20,86.8 21,85.4 21.9,84.1 22.9,82.8 23.8,81.4 24.8,80 25.7,78.5 26.7,77 27.6,75.6 28.6,74.2 29.6,72.8 30.5,71.6 31.5,70.3 32.4,69.1 33.4,67.9 34.3,66.8 35.3,65.7 36.2,64.6 37.2,63.6 38.1,62.6 39.1,61.7 40,60.7 41,59.7 41.9,58.8 42.9,57.9 43.9,57.2 44.8,56.7 45.8,56.3 46.7,56 47.7,55.7 48.6,55.6 49.6,55.4 50.5,55 51.5,53.6 52.4,53.7 53.4,53 54.3,52.1 55.3,51.5 56.2,51.2 57.2,51 58.2,49.4 59.1,48.7 60.1,47.5 61,46.8 62,45.4 62.9,44.9 63.9,44.5 64.8,44 65.8,44.4 66.7,43.9 67.7,42.9 68.6,42.2 69.6,41.7 70.5,41.3 71.5,40.1 72.5,39.8 73.4,40.4 74.4,41.3 75.3,41.5 76.3,41.3 77.2,39.3 78.2,39 79.1,40.1 80.1,41.4 81,41.4 82,41.5 82.9,41.6 83.9,41.4 84.8,42.2 85.8,41.7 86.8,41.7 87.7,42.4 88.7,42.6 89.6,44.5 90.6,45.4 91.5,47.4 92.5,47.9 93.4,48.5 94.4,49 95.3,49.5 96.3,50.5 97.2,51.8 98.2,53.4 99.1,55.1 100.1,57 101.1,58.9 102,60.9 103,62.8 103.9,64.6 104.9,66.2 105.8,67.7 106.8,69.2 107.7,70.6 108.7,72 109.6,73.4 110.6,74.8 111.5,76.1 112.5,77.5 113.4,78.8 114.4,80 115.4,81.3 116.3,82.5 117.3,83.7 118.2,84.9 119.2,86 120.1,87.1 121.1,88.1 122,89.1 123,90.2 123.9,91.2 124.9,92.2 125.8,93.2 126.8,94.2 127.7,95.1 128.7,96.1 129.7,97 130.6,97.9 131.6,98.8 132.5,99.6 133.5,100.5 134.4,101.3 135.4,102.1 136.3,102.9 137.3,103.7 138.2,104.4 139.2,105.1 140.1,105.8 141.1,106.5 142,107.1 143,107.7 144,108.4 144.9,109 145.9,109.5 146.8,110.1 147.8,110.7 148.7,111.2 149.7,111.7 150.6,112.2 151.6,112.7 152.5,113.2 153.5,113.7 154.4,114.2 155.4,114.6 156.3,115.1 157.3,115.5 158.3,115.9 159.2,116.4 160.2,116.8 161.1,117.2 162.1,117.6 163,118 164,118.3 164.9,118.7 165.9,119.1 166.8,119.4 167.8,119.8 168.7,120.1 169.7,120.4 170.6,120.7 171.6,121" fill="none" stroke="#4cbb7c" stroke-width="0.96" stroke-linejoin="round"/>
<polyline points="0,109.8 1,108.8 1.9,107.9 2.9,106.9 3.8,105.9 4.8,104.8 5.7,103.8 6.7,102.7 7.6,101.7 8.6,100.6 9.5,99.5 10.5,98.4 11.4,97.2 12.4,96.1 13.3,94.9 14.3,93.7 15.3,92.5 16.2,91.3 17.2,90 18.1,88.8 19.1,87.5 20,86.3 21,85 21.9,83.7 22.9,82.4 23.8,81 24.8,79.6 25.7,78.2 26.7,76.8 27.6,75.4 28.6,74 29.6,72.7 30.5,71.4 31.5,70.2 32.4,69 33.4,67.9 34.3,66.8 35.3,65.7 36.2,64.6 37.2,63.6 38.1,62.6 39.1,61.7 40,60.8 41,60 41.9,59.2 42.9,58.3 43.9,57.5 44.8,56.7 45.8,56 46.7,55.3 47.7,54.7 48.6,54 49.6,53.2 50.5,52.2 51.5,50.5 52.4,46.8 53.4,45.4 54.3,43.8 55.3,43.3 56.2,42.3 57.2,41 58.2,38.5 59.1,36.8 60.1,38.1 61,38.1 62,37.1 62.9,33.5 63.9,29.4 64.8,26.7 65.8,25 66.7,24.7 67.7,24.2 68.6,23.8 69.6,24 70.5,23 71.5,21.4 72.5,20.8 73.4,20.9 74.4,21.7 75.3,22.1 76.3,23.4 77.2,23 78.2,24.6 79.1,24.6 80.1,26 81,26.3 82,27.6 82.9,28 83.9,29.6 84.8,30.8 85.8,32.6 86.8,33.8 87.7,34.8 88.7,36.1 89.6,36.9 90.6,39 91.5,40.8 92.5,43.4 93.4,45.5 94.4,47.8 95.3,49.4 96.3,51 97.2,52.6 98.2,54.3 99.1,56 100.1,57.7 101.1,59.4 102,61 103,62.6 103.9,64.2 104.9,65.7 105.8,67.2 106.8,68.6 107.7,70 108.7,71.4 109.6,72.8 110.6,74.1 111.5,75.4 112.5,76.8 113.4,78 114.4,79.3 115.4,80.5 116.3,81.7 117.3,82.9 118.2,84 119.2,85.1 120.1,86.2 121.1,87.3 122,88.3 123,89.3 123.9,90.4 124.9,91.4 125.8,92.4 126.8,93.3 127.7,94.3 128.7,95.2 129.7,96.1 130.6,97.1 131.6,97.9 132.5,98.8 133.5,99.7 134.4,100.5 135.4,101.3 136.3,102.1 137.3,102.8 138.2,103.6 139.2,104.3 140.1,105 141.1,105.6 142,106.3 143,106.9 144,107.5 144.9,108.1 145.9,108.7 146.8,109.3 147.8,109.8 148.7,110.4 149.7,110.9 150.6,111.4 151.6,111.9 152.5,112.4 153.5,112.9 154.4,113.3 155.4,113.8 156.3,114.2 157.3,114.7 158.3,115.1 159.2,115.5 160.2,115.9 161.1,116.3 162.1,116.7 163,117.1 164,117.5 164.9,117.9 165.9,118.2 166.8,118.6 167.8,118.9 168.7,119.3 169.7,119.6 170.6,119.9 171.6,120.2" fill="none" stroke="#f25a5a" stroke-width="0.96" stroke-linejoin="round"/>
<polyline points="0,109 1,108 1.9,107.1 2.9,106.1 3.8,105.1 4.8,104.1 5.7,103.1 6.7,102.1 7.6,101 8.6,100 9.5,98.9 10.5,97.8 11.4,96.7 12.4,95.6 13.3,94.4 14.3,93.2 15.3,92.1 16.2,90.9 17.2,89.6 18.1,88.4 19.1,87.2 20,85.9 21,84.6 21.9,83.4 22.9,82.1 23.8,80.8 24.8,79.4 25.7,78 26.7,76.6 27.6,75.2 28.6,73.8 29.6,72.5 30.5,71.3 31.5,70.1 32.4,69 33.4,67.9 34.3,66.8 35.3,65.7 36.2,64.6 37.2,63.6 38.1,62.6 39.1,61.7 40,60.8 41,60 41.9,59.2 42.9,58.3 43.9,57.5 44.8,56.7 45.8,55.9 46.7,55.2 47.7,54.4 48.6,53.5 49.6,52.8 50.5,52 51.5,51.2 52.4,49.9 53.4,47.9 54.3,47.2 55.3,47.6 56.2,47.1 57.2,47.3 58.2,47 59.1,45.2 60.1,43.8 61,41.6 62,40.5 62.9,36.9 63.9,35.2 64.8,32.8 65.8,33 66.7,32.6 67.7,32.5 68.6,32.2 69.6,31.4 70.5,29.1 71.5,27.8 72.5,27.5 73.4,28.7 74.4,30.1 75.3,31.2 76.3,30.8 77.2,29.6 78.2,30.3 79.1,31 80.1,32.4 81,32.7 82,33.4 82.9,34.7 83.9,36.1 84.8,36.6 85.8,37.3 86.8,37.9 87.7,39.3 88.7,40.3 89.6,41.6 90.6,42.8 91.5,43.3 92.5,44.6 93.4,46.3 94.4,47.6 95.3,49.1 96.3,50.6 97.2,52.2 98.2,53.9 99.1,55.6 100.1,57.3 101.1,59.1 102,60.8 103,62.4 103.9,64 104.9,65.5 105.8,67 106.8,68.4 107.7,69.8 108.7,71.1 109.6,72.5 110.6,73.8 111.5,75.1 112.5,76.4 113.4,77.6 114.4,78.8 115.4,80.1 116.3,81.2 117.3,82.4 118.2,83.5 119.2,84.6 120.1,85.7 121.1,86.7 122,87.8 123,88.8 123.9,89.8 124.9,90.8 125.8,91.8 126.8,92.8 127.7,93.7 128.7,94.7 129.7,95.6 130.6,96.5 131.6,97.4 132.5,98.3 133.5,99.1 134.4,99.9 135.4,100.7 136.3,101.5 137.3,102.3 138.2,103 139.2,103.7 140.1,104.4 141.1,105.1 142,105.7 143,106.4 144,107 144.9,107.6 145.9,108.2 146.8,108.7 147.8,109.3 148.7,109.8 149.7,110.3 150.6,110.8 151.6,111.3 152.5,111.8 153.5,112.3 154.4,112.8 155.4,113.2 156.3,113.7 157.3,114.1 158.3,114.6 159.2,115 160.2,115.4 161.1,115.8 162.1,116.2 163,116.6 164,117 164.9,117.3 165.9,117.7 166.8,118 167.8,118.4 168.7,118.7 169.7,119 170.6,119.3 171.6,119.6" fill="none" stroke="#3f7ef0" stroke-width="0.96" stroke-linejoin="round"/>
</g>
<g transform="translate(148.9,641.9) scale(0.95759,0.96042)">
<rect x="0" y="0" width="179.2" height="144" fill="none" stroke="#3a3a3a" stroke-width="1.3"/>
<path d="M0,136.8h1.6M0,129.6h2.8M0,122.4h1.6M0,115.2h2.8M0,108h1.6M0,100.8h2.8M0,93.6h1.6M0,86.4h2.8M0,79.2h1.6M0,72h2.8M0,64.8h1.6M0,57.6h2.8M0,50.4h1.6M0,43.2h2.8M0,36h1.6M0,28.8h2.8M0,21.6h1.6M0,14.4h2.8M0,7.2h1.6M19.91,144v-2.8M39.82,144v-1.6M59.73,144v-2.8M79.64,144v-1.6M99.56,144v-2.8M119.47,144v-1.6M139.38,144v-2.8M159.29,144v-1.6M179.2,128.92h-2.4M179.2,113.84h-2.4M179.2,98.76h-2.4M179.2,83.69h-2.4M179.2,68.61h-2.4M179.2,53.53h-2.4" stroke="#444" stroke-width="1" fill="none"/>
<g font-family="Liberation Serif, serif" font-size="6.8" fill="#555"><text transform="translate(-2.6,147.2) scale(1.0,1.12)" text-anchor="end">0</text><text transform="translate(-2.6,132.8) scale(1.0,1.12)" text-anchor="end">10</text><text transform="translate(-2.6,118.4) scale(1.0,1.12)" text-anchor="end">20</text><text transform="translate(-2.6,104) scale(1.0,1.12)" text-anchor="end">30</text><text transform="translate(-2.6,89.6) scale(1.0,1.12)" text-anchor="end">40</text><text transform="translate(-2.6,75.2) scale(1.0,1.12)" text-anchor="end">50</text><text transform="translate(-2.6,60.8) scale(1.0,1.12)" text-anchor="end">60</text><text transform="translate(-2.6,46.4) scale(1.0,1.12)" text-anchor="end">70</text><text transform="translate(-2.6,32) scale(1.0,1.12)" text-anchor="end">80</text><text transform="translate(-2.6,17.6) scale(1.0,1.12)" text-anchor="end">90</text><text transform="translate(-2.6,3.2) scale(1.0,1.12)" text-anchor="end">100</text><text transform="translate(181.8,146.3) scale(0.88,0.95)">−20</text><text transform="translate(181.8,131.22) scale(0.88,0.95)">0</text><text transform="translate(181.8,116.14) scale(0.88,0.95)">20</text><text transform="translate(181.8,101.06) scale(0.88,0.95)">40</text><text transform="translate(181.8,85.99) scale(0.88,0.95)">60</text><text transform="translate(181.8,70.91) scale(0.88,0.95)">80</text><text transform="translate(181.8,55.83) scale(0.88,0.95)">100</text><text transform="translate(19.91,153.1) scale(1,1.05)" text-anchor="middle">−20</text><text transform="translate(59.73,153.1) scale(1,1.05)" text-anchor="middle">0</text><text transform="translate(99.56,153.1) scale(1,1.05)" text-anchor="middle">20</text><text transform="translate(139.38,153.1) scale(1,1.05)" text-anchor="middle">40</text><text transform="translate(179.2,153.1) scale(1,1.05)" text-anchor="middle">60</text></g>
<text font-family="Liberation Serif, serif" font-size="6.85" fill="#222" stroke="#222" stroke-width="0.12" transform="translate(7.5,10.4) scale(1,1.05)">CN=57.4</text>
<g font-family="Liberation Serif, serif" font-size="6.8" fill="#1a1a1a" stroke="#1a1a1a" stroke-width="0.18"><path d="M126.6,7.9H142" stroke="#5a5a5a" stroke-width="1.1"/><text transform="translate(143.7,10.7) scale(1.0,1.12)">0% EGR</text><path d="M126.6,17.1H142" stroke="#f25a5a" stroke-width="1.1"/><text transform="translate(143.7,19.9) scale(1.0,1.12)">10% EGR</text><path d="M126.6,26.3H142" stroke="#3f7ef0" stroke-width="1.1"/><text transform="translate(143.7,29.1) scale(1.0,1.12)">20% EGR</text><path d="M126.6,35.5H142" stroke="#4cbb7c" stroke-width="1.1"/><text transform="translate(143.7,38.3) scale(1.0,1.12)">30% EGR</text></g>
<path d="M16,51.2H36.9" stroke="#333" stroke-width="1"/><path d="M13,51.2l4.2,-1.8v3.6z" fill="#333"/>
<path d="M102.1,97.6H121.6" stroke="#333" stroke-width="1"/><path d="M124.6,97.6l-4.2,-1.8v3.6z" fill="#333"/>
<text font-family="Liberation Serif, serif" font-size="9.75" fill="#2a2a2a" stroke="#2a2a2a" stroke-width="0.25" x="89.3" y="166" text-anchor="middle">Cank angle/°CA ATDC</text>
</g>
<text font-family="Liberation Serif, serif" font-size="9.21" fill="#2a2a2a" stroke="#2a2a2a" stroke-width="0.24" text-anchor="middle" textLength="78.3" lengthAdjust="spacingAndGlyphs" transform="translate(130.02,710.8) rotate(-90)">Cylinder pressure/bar</text>
<text font-family="Liberation Serif, serif" font-size="8.92" fill="#2a2a2a" stroke="#2a2a2a" stroke-width="0.24" text-anchor="middle" textLength="107.5" lengthAdjust="spacingAndGlyphs" transform="translate(342.1,717.15) rotate(-90)">Cylinder heat rate/kJ·(m<tspan font-size="7.1" dy="-3.74">3</tspan><tspan dy="3.74">·CA)</tspan><tspan font-size="7.29" dy="-4.03">-1</tspan></text>
<g transform="translate(374.5,646)">
<polyline points="0,121.6 0.9,121.6 1.9,121.6 2.8,121.6 3.7,121.6 4.6,121.6 5.6,121.6 6.5,121.6 7.4,121.6 8.3,121.6 9.3,121.6 10.2,121.6 11.1,121.6 12.1,121.6 13,121.6 13.9,121.6 14.8,121.6 15.8,121.6 16.7,121.6 17.6,121.6 18.6,121.6 19.5,121.6 20.4,121.6 21.3,120.9 22.3,120.2 23.2,119.5 24.1,119.6 25.1,119.7 26,119.9 26.9,120.5 27.8,121.1 28.8,121.6 29.7,121.6 30.6,121.6 31.5,121.6 32.5,121.6 33.4,121.6 34.3,121.6 35.3,121.6 36.2,121.6 37.1,121.6 38,121.6 39,121.6 39.9,121.6 40.8,121.6 41.8,121.6 42.7,121.6 43.6,121.6 44.5,121.6 45.5,121.6 46.4,117.5 47.3,110.7 48.2,103.8 49.2,98.4 50.1,94.9 51,92.1 52,88.9 52.9,85.5 53.8,82.6 54.7,80.7 55.7,78.3 56.6,76.1 57.5,74.5 58.4,72.3 59.4,69.4 60.3,68 61.2,66.8 62.2,65.8 63.1,65.9 64,65 64.9,65 65.9,67.9 66.8,69.9 67.7,73 68.7,76 69.6,79.5 70.5,82.2 71.4,84.8 72.4,88 73.3,91 74.2,93.4 75.2,96.2 76.1,97.5 77,98 77.9,98.3 78.9,99.7 79.8,100 80.7,101.1 81.6,101.3 82.6,101.9 83.5,103.2 84.4,102.5 85.4,103.3 86.3,102.5 87.2,103.2 88.1,103.6 89.1,104.2 90,104 90.9,104.4 91.9,104.3 92.8,105.3 93.7,105.5 94.6,105.7 95.6,106.4 96.5,106.7 97.4,106.6 98.3,107.3 99.3,107.3 100.2,107.7 101.1,108.3 102.1,108.8 103,109.4 103.9,109.2 104.8,109.2 105.8,109.7 106.7,109.9 107.6,110.6 108.5,110.8 109.5,111.4 110.4,111.9 111.3,112.4 112.3,112.5 113.2,113 114.1,113.2 115,113.7 116,113.9 116.9,114.2 117.8,114.6 118.8,115.1 119.7,115.4 120.6,115.7 121.5,116.1 122.5,116.5 123.4,116.4 124.3,116.4 125.2,116.4 126.2,116.5 127.1,116.4 128,116.4 129,116.4 129.9,116.6 130.8,116.3 131.7,116.6 132.7,116.7 133.6,116.7 134.5,116.8 135.5,116.9 136.4,116.6 137.3,116.6 138.2,116.6 139.2,116.5 140.1,116.9 141,117.1 141.9,117.1 142.9,117.1 143.8,117.1 144.7,117 145.7,116.9 146.6,116.9 147.5,116.9 148.4,117 149.4,117.2 150.3,117 151.2,117.2 152.2,117.1 153.1,117.2 154,117.4 154.9,117.5 155.9,117.8 156.8,117.6 157.7,117.5 158.7,117.5 159.6,117.7 160.5,117.6 161.4,117.4 162.4,117.7 163.3,117.8 164.2,117.9 165.1,117.7 166.1,117.8 167,117.9" fill="none" stroke="#5a5a5a" stroke-width="0.89" stroke-linejoin="round"/>
<polyline points="0,121.6 0.9,121.6 1.9,121.6 2.8,121.6 3.7,121.6 4.6,121.6 5.6,121.6 6.5,121.6 7.4,121.6 8.3,121.6 9.3,121.6 10.2,121.6 11.1,121.6 12.1,121.6 13,121.6 13.9,121.6 14.8,121.6 15.8,121.6 16.7,121.6 17.6,121.6 18.6,121.6 19.5,121.6 20.4,121.6 21.3,120.9 22.3,120.2 23.2,119.5 24.1,119.6 25.1,119.7 26,119.9 26.9,120.5 27.8,121.1 28.8,121.6 29.7,121.6 30.6,121.6 31.5,121.6 32.5,121.6 33.4,121.6 34.3,121.6 35.3,121.6 36.2,121.6 37.1,121.6 38,121.6 39,121.6 39.9,121.6 40.8,121.6 41.8,121.6 42.7,121.6 43.6,121.6 44.5,121.6 45.5,121.6 46.4,121.6 47.3,121.6 48.2,121.6 49.2,121.6 50.1,121.6 51,121.6 52,116.8 52.9,110.7 53.8,104.6 54.7,98.3 55.7,94.8 56.6,91.9 57.5,89.6 58.4,86.8 59.4,84 60.3,80.7 61.2,77.7 62.2,76.7 63.1,75.2 64,73 64.9,72 65.9,71.5 66.8,70.6 67.7,69.2 68.7,67.7 69.6,67 70.5,69.3 71.4,72.5 72.4,75.1 73.3,77.5 74.2,79.6 75.2,82.2 76.1,84.2 77,86.8 77.9,89.1 78.9,90.7 79.8,92.9 80.7,95.5 81.6,95.7 82.6,96 83.5,96.5 84.4,97.2 85.4,97.8 86.3,98 87.2,99.6 88.1,100.3 89.1,101.1 90,101.7 90.9,102.2 91.9,102.4 92.8,103.4 93.7,103.4 94.6,103.9 95.6,104.3 96.5,104.4 97.4,104.1 98.3,104.8 99.3,105.3 100.2,105.6 101.1,106.3 102.1,106.5 103,106.7 103.9,106.8 104.8,107.2 105.8,107.6 106.7,107.9 107.6,108.3 108.5,108.8 109.5,108.8 110.4,109 111.3,109.4 112.3,109.7 113.2,110 114.1,110.1 115,110.7 116,111.1 116.9,111.3 117.8,111.5 118.8,112 119.7,112.3 120.6,112.4 121.5,112.8 122.5,113 123.4,113.2 124.3,113.6 125.2,113.6 126.2,113.9 127.1,114 128,114.1 129,114.3 129.9,114.2 130.8,114.4 131.7,114.5 132.7,114.5 133.6,114.9 134.5,115 135.5,114.9 136.4,114.8 137.3,115.1 138.2,115.2 139.2,115.4 140.1,115.4 141,115.5 141.9,115.3 142.9,115.6 143.8,115.6 144.7,115.7 145.7,115.8 146.6,115.8 147.5,115.8 148.4,115.9 149.4,115.9 150.3,115.9 151.2,115.8 152.2,116.1 153.1,116 154,116.3 154.9,116.4 155.9,116.4 156.8,116.4 157.7,116.5 158.7,116.7 159.6,116.6 160.5,116.6 161.4,116.6 162.4,116.8 163.3,116.8 164.2,117 165.1,117 166.1,117.3 167,117.2" fill="none" stroke="#f25a5a" stroke-width="0.89" stroke-linejoin="round"/>
<polyline points="0,121.6 0.9,121.6 1.9,121.6 2.8,121.6 3.7,121.6 4.6,121.6 5.6,121.6 6.5,121.6 7.4,121.6 8.3,121.6 9.3,121.6 10.2,121.6 11.1,121.6 12.1,121.6 13,121.6 13.9,121.6 14.8,121.6 15.8,121.6 16.7,121.6 17.6,121.6 18.6,121.6 19.5,121.6 20.4,121.6 21.3,120.9 22.3,120.2 23.2,119.5 24.1,119.6 25.1,119.7 26,119.9 26.9,120.5 27.8,121.1 28.8,121.6 29.7,121.6 30.6,121.6 31.5,121.6 32.5,121.6 33.4,121.6 34.3,121.6 35.3,121.6 36.2,121.6 37.1,121.6 38,121.6 39,121.6 39.9,121.6 40.8,121.6 41.8,121.6 42.7,121.6 43.6,121.6 44.5,121.6 45.5,121.6 46.4,121.6 47.3,121.6 48.2,121.6 49.2,121.6 50.1,121.6 51,121.6 52,121.6 52.9,121.6 53.8,121.6 54.7,121.6 55.7,121.6 56.6,121.6 57.5,120.7 58.4,115.8 59.4,110.9 60.3,106 61.2,101.6 62.2,98.8 63.1,96 64,93.9 64.9,90.5 65.9,88 66.8,85.6 67.7,84.1 68.7,82.1 69.6,79.7 70.5,77.7 71.4,76.4 72.4,75.1 73.3,73.7 74.2,72.6 75.2,70.9 76.1,72.1 77,73.9 77.9,76.2 78.9,79 79.8,81.5 80.7,84.2 81.6,86.1 82.6,88 83.5,89.9 84.4,91.3 85.4,92.6 86.3,94.7 87.2,95.4 88.1,95.6 89.1,96.4 90,97.2 90.9,98.3 91.9,98.9 92.8,99.3 93.7,99.4 94.6,99.8 95.6,100.4 96.5,101.5 97.4,101.9 98.3,102.2 99.3,103.1 100.2,103.1 101.1,103.7 102.1,103.7 103,104.3 103.9,105 104.8,105.2 105.8,106.1 106.7,105.8 107.6,106.1 108.5,106.3 109.5,106.7 110.4,107 111.3,107.5 112.3,108.2 113.2,108.3 114.1,108.7 115,109.1 116,109.5 116.9,109.7 117.8,109.9 118.8,110 119.7,110.5 120.6,110.5 121.5,110.9 122.5,111.1 123.4,111.5 124.3,111.5 125.2,111.6 126.2,112 127.1,112.5 128,112.7 129,113.1 129.9,113.3 130.8,113.3 131.7,113.3 132.7,113.5 133.6,113.5 134.5,113.4 135.5,113.5 136.4,113.3 137.3,113.7 138.2,113.7 139.2,113.6 140.1,113.9 141,114 141.9,114 142.9,114.3 143.8,114.4 144.7,114.5 145.7,114.4 146.6,114.6 147.5,114.5 148.4,114.5 149.4,114.9 150.3,114.8 151.2,114.9 152.2,115.1 153.1,115 154,115.3 154.9,115.3 155.9,115.3 156.8,115.6 157.7,115.5 158.7,115.9 159.6,115.8 160.5,115.8 161.4,115.8 162.4,115.6 163.3,115.7 164.2,115.8 165.1,115.7 166.1,115.9 167,116" fill="none" stroke="#3f7ef0" stroke-width="0.89" stroke-linejoin="round"/>
<polyline points="0,121.6 0.9,121.6 1.9,121.6 2.8,121.6 3.7,121.6 4.6,121.6 5.6,121.6 6.5,121.6 7.4,121.6 8.3,121.6 9.3,121.6 10.2,121.6 11.1,121.6 12.1,121.6 13,121.6 13.9,121.6 14.8,121.6 15.8,121.6 16.7,121.6 17.6,121.6 18.6,121.6 19.5,121.6 20.4,121.6 21.3,120.9 22.3,120.2 23.2,119.5 24.1,119.6 25.1,119.7 26,119.9 26.9,120.5 27.8,121.1 28.8,121.6 29.7,121.6 30.6,121.6 31.5,121.6 32.5,121.6 33.4,121.6 34.3,121.6 35.3,121.6 36.2,121.6 37.1,121.6 38,121.6 39,121.6 39.9,121.6 40.8,121.6 41.8,121.6 42.7,121.6 43.6,121.6 44.5,121.6 45.5,121.6 46.4,121.6 47.3,121.6 48.2,121.6 49.2,121.6 50.1,121.6 51,121.6 52,121.6 52.9,121.6 53.8,121.6 54.7,121.6 55.7,121.6 56.6,121.6 57.5,121.6 58.4,121.6 59.4,121.6 60.3,121.6 61.2,121.6 62.2,121.6 63.1,121.6 64,118.9 64.9,114.4 65.9,109.9 66.8,105.5 67.7,102.3 68.7,99.5 69.6,96.6 70.5,93.9 71.4,92.6 72.4,90.7 73.3,89 74.2,87.3 75.2,86.1 76.1,84.1 77,82.4 77.9,81 78.9,78.5 79.8,77.4 80.7,75.1 81.6,74.3 82.6,73.2 83.5,76.5 84.4,79.1 85.4,82.4 86.3,85.6 87.2,88.4 88.1,91.3 89.1,93.2 90,94.3 90.9,94.5 91.9,95.1 92.8,95.7 93.7,96.2 94.6,96.7 95.6,97.2 96.5,97.7 97.4,98.4 98.3,98.9 99.3,99.1 100.2,100.1 101.1,99.9 102.1,100.6 103,100.8 103.9,101.1 104.8,101.3 105.8,101.7 106.7,101.9 107.6,102.4 108.5,102.7 109.5,103.5 110.4,103.7 111.3,104.5 112.3,104.8 113.2,105 114.1,105.3 115,105.9 116,106 116.9,106.7 117.8,106.8 118.8,107.4 119.7,107.6 120.6,108 121.5,108.4 122.5,108.5 123.4,109 124.3,109.4 125.2,109.7 126.2,110.2 127.1,110.5 128,110.8 129,110.8 129.9,110.7 130.8,111 131.7,111.1 132.7,111.3 133.6,111.7 134.5,111.7 135.5,111.8 136.4,112 137.3,112.1 138.2,112.2 139.2,112.3 140.1,112.7 141,112.5 141.9,112.6 142.9,112.9 143.8,112.9 144.7,113.1 145.7,113.2 146.6,113.3 147.5,113.4 148.4,113.6 149.4,113.7 150.3,114 151.2,114.2 152.2,114.3 153.1,114.3 154,114.5 154.9,114.6 155.9,114.7 156.8,114.8 157.7,115 158.7,115 159.6,115.1 160.5,115.2 161.4,115.2 162.4,115.6 163.3,115.7 164.2,115.9 165.1,116.1 166.1,116.3 167,116.2" fill="none" stroke="#4cbb7c" stroke-width="0.89" stroke-linejoin="round"/>
<polyline points="0,106 0.9,105.3 1.9,104.5 2.8,103.7 3.7,102.8 4.6,102 5.6,101.1 6.5,100.2 7.4,99.3 8.3,98.3 9.3,97.4 10.2,96.4 11.1,95.4 12.1,94.4 13,93.3 13.9,92.2 14.8,91.1 15.8,89.9 16.7,88.7 17.6,87.5 18.6,86.2 19.5,85 20.4,83.7 21.3,82.5 22.3,81.2 23.2,80 24.1,78.7 25.1,77.4 26,76.1 26.9,74.7 27.8,73.4 28.8,72.1 29.7,70.8 30.6,69.5 31.5,68.2 32.5,66.9 33.4,65.6 34.3,64.4 35.3,63.1 36.2,61.9 37.1,60.8 38,59.7 39,58.7 39.9,57.7 40.8,56.7 41.8,55.7 42.7,54.8 43.6,53.9 44.5,53.1 45.5,52.4 46.4,51.6 47.3,50.7 48.2,49.9 49.2,48.7 50.1,46.3 51,44.6 52,42.4 52.9,41 53.8,39.2 54.7,37.3 55.7,36 56.6,34.8 57.5,33 58.4,27.9 59.4,27.8 60.3,28.1 61.2,26.1 62.2,21.2 63.1,17.7 64,17.3 64.9,17.6 65.9,17.7 66.8,16.1 67.7,14.5 68.7,12.1 69.6,11.9 70.5,11.9 71.4,13.3 72.4,14.7 73.3,15.3 74.2,14.8 75.2,15.9 76.1,16.4 77,17.8 77.9,19.1 78.9,19.6 79.8,20 80.7,21.6 81.6,22.7 82.6,24 83.5,26.1 84.4,27 85.4,28.4 86.3,30 87.2,31.4 88.1,32.7 89.1,34.7 90,36.1 90.9,37.6 91.9,39.7 92.8,41.5 93.7,43.3 94.6,45.2 95.6,47.1 96.5,48.9 97.4,50.7 98.3,52.4 99.3,54 100.2,55.7 101.1,57.4 102.1,59 103,60.6 103.9,62.2 104.8,63.8 105.8,65.3 106.7,66.7 107.6,68.1 108.5,69.5 109.5,70.8 110.4,72.1 111.3,73.4 112.3,74.7 113.2,75.9 114.1,77.1 115,78.3 116,79.5 116.9,80.7 117.8,81.9 118.8,83 119.7,84.1 120.6,85.2 121.5,86.3 122.5,87.4 123.4,88.4 124.3,89.5 125.2,90.5 126.2,91.6 127.1,92.6 128,93.6 129,94.6 129.9,95.6 130.8,96.5 131.7,97.4 132.7,98.2 133.6,99 134.5,99.8 135.5,100.5 136.4,101.2 137.3,101.8 138.2,102.4 139.2,102.9 140.1,103.5 141,104 141.9,104.5 142.9,105 143.8,105.4 144.7,105.9 145.7,106.3 146.6,106.7 147.5,107.1 148.4,107.5 149.4,107.9 150.3,108.3 151.2,108.6 152.2,109 153.1,109.3 154,109.6 154.9,110 155.9,110.3 156.8,110.6 157.7,110.9 158.7,111.2 159.6,111.5 160.5,111.8 161.4,112 162.4,112.3 163.3,112.6 164.2,112.8 165.1,113 166.1,113.2 167,113.4" fill="none" stroke="#5a5a5a" stroke-width="0.93" stroke-linejoin="round"/>
<polyline points="0,107.6 0.9,106.8 1.9,106 2.8,105.2 3.7,104.3 4.6,103.4 5.6,102.5 6.5,101.5 7.4,100.6 8.3,99.6 9.3,98.6 10.2,97.5 11.1,96.5 12.1,95.4 13,94.3 13.9,93.2 14.8,92 15.8,90.8 16.7,89.5 17.6,88.2 18.6,87 19.5,85.7 20.4,84.4 21.3,83.1 22.3,81.8 23.2,80.5 24.1,79.1 25.1,77.8 26,76.4 26.9,75 27.8,73.7 28.8,72.3 29.7,70.9 30.6,69.6 31.5,68.3 32.5,66.8 33.4,65.3 34.3,64 35.3,62.7 36.2,61.5 37.1,60.6 38,60 39,59.5 39.9,59 40.8,58.7 41.8,58.3 42.7,57.8 43.6,57.3 44.5,56.8 45.5,56.1 46.4,55.5 47.3,55 48.2,54.5 49.2,53.7 50.1,53.1 51,52.6 52,52.1 52.9,51.4 53.8,51.5 54.7,51.5 55.7,51.9 56.6,50.8 57.5,50 58.4,48.6 59.4,47.2 60.3,43.9 61.2,41.4 62.2,41.8 63.1,42.5 64,42.9 64.9,41.5 65.9,39.8 66.8,36.9 67.7,35.6 68.7,34.1 69.6,32.5 70.5,31.4 71.4,32.3 72.4,32.2 73.3,33.2 74.2,33.6 75.2,34.8 76.1,33.7 77,33.9 77.9,32.9 78.9,33.5 79.8,34.6 80.7,34.5 81.6,35.1 82.6,35.6 83.5,36.2 84.4,37.8 85.4,38.7 86.3,39.8 87.2,41.8 88.1,42.7 89.1,44.6 90,45.7 90.9,47 91.9,48.3 92.8,49 93.7,49.5 94.6,50 95.6,50.5 96.5,51 97.4,51.7 98.3,52.7 99.3,54 100.2,55.5 101.1,57.2 102.1,59 103,60.9 103.9,62.8 104.8,64.8 105.8,66.6 106.7,68.2 107.6,69.7 108.5,71.1 109.5,72.5 110.4,73.9 111.3,75.3 112.3,76.6 113.2,77.9 114.1,79.2 115,80.5 116,81.7 116.9,82.9 117.8,84 118.8,85.2 119.7,86.3 120.6,87.4 121.5,88.5 122.5,89.5 123.4,90.6 124.3,91.7 125.2,92.7 126.2,93.7 127.1,94.8 128,95.8 129,96.8 129.9,97.7 130.8,98.6 131.7,99.5 132.7,100.4 133.6,101.2 134.5,102 135.5,102.7 136.4,103.3 137.3,103.9 138.2,104.5 139.2,105.1 140.1,105.6 141,106.1 141.9,106.6 142.9,107.1 143.8,107.6 144.7,108 145.7,108.5 146.6,108.9 147.5,109.3 148.4,109.7 149.4,110.1 150.3,110.4 151.2,110.8 152.2,111.1 153.1,111.5 154,111.8 154.9,112.1 155.9,112.5 156.8,112.8 157.7,113.1 158.7,113.4 159.6,113.7 160.5,113.9 161.4,114.2 162.4,114.5 163.3,114.7 164.2,114.9 165.1,115.2 166.1,115.4 167,115.6" fill="none" stroke="#4cbb7c" stroke-width="0.93" stroke-linejoin="round"/>
<polyline points="0,106.4 0.9,105.7 1.9,104.9 2.8,104 3.7,103.2 4.6,102.3 5.6,101.5 6.5,100.5 7.4,99.6 8.3,98.7 9.3,97.7 10.2,96.7 11.1,95.7 12.1,94.6 13,93.6 13.9,92.4 14.8,91.3 15.8,90.1 16.7,88.9 17.6,87.7 18.6,86.4 19.5,85.2 20.4,83.9 21.3,82.6 22.3,81.4 23.2,80.1 24.1,78.8 25.1,77.5 26,76.1 26.9,74.8 27.8,73.5 28.8,72.1 29.7,70.8 30.6,69.5 31.5,68.2 32.5,66.9 33.4,65.6 34.3,64.4 35.3,63.1 36.2,61.9 37.1,60.8 38,59.7 39,58.6 39.9,57.6 40.8,56.6 41.8,55.6 42.7,54.8 43.6,53.9 44.5,53.3 45.5,52.6 46.4,52 47.3,51.4 48.2,50.5 49.2,49.4 50.1,47.2 51,45.5 52,44.9 52.9,43.4 53.8,42.5 54.7,41.1 55.7,40.8 56.6,38.5 57.5,35.1 58.4,32.8 59.4,32.5 60.3,32.6 61.2,30.1 62.2,26.6 63.1,23.3 64,22.4 64.9,21.5 65.9,20.3 66.8,18.7 67.7,18.8 68.7,18.2 69.6,17.1 70.5,17.2 71.4,17.8 72.4,18.1 73.3,18.7 74.2,19.5 75.2,19.9 76.1,20.7 77,21.3 77.9,21.7 78.9,21.2 79.8,21.4 80.7,22.5 81.6,23.3 82.6,25.3 83.5,27.2 84.4,28.3 85.4,29.9 86.3,31.2 87.2,33 88.1,34.3 89.1,36.1 90,37.2 90.9,38.7 91.9,40.3 92.8,42.2 93.7,44.1 94.6,45.9 95.6,47.7 96.5,49.4 97.4,51.1 98.3,52.8 99.3,54.5 100.2,56.2 101.1,57.9 102.1,59.6 103,61.3 103.9,63 104.8,64.6 105.8,66.1 106.7,67.6 107.6,69.1 108.5,70.5 109.5,71.9 110.4,73.2 111.3,74.6 112.3,75.9 113.2,77.2 114.1,78.4 115,79.7 116,80.9 116.9,82.1 117.8,83.2 118.8,84.4 119.7,85.5 120.6,86.6 121.5,87.7 122.5,88.7 123.4,89.8 124.3,90.8 125.2,91.9 126.2,92.9 127.1,94 128,95 129,96 129.9,96.9 130.8,97.8 131.7,98.7 132.7,99.6 133.6,100.4 134.5,101.2 135.5,101.9 136.4,102.5 137.3,103.1 138.2,103.7 139.2,104.3 140.1,104.8 141,105.3 141.9,105.8 142.9,106.3 143.8,106.8 144.7,107.2 145.7,107.7 146.6,108.1 147.5,108.5 148.4,108.9 149.4,109.2 150.3,109.6 151.2,110 152.2,110.3 153.1,110.7 154,111 154.9,111.3 155.9,111.6 156.8,112 157.7,112.3 158.7,112.6 159.6,112.9 160.5,113.1 161.4,113.4 162.4,113.7 163.3,113.9 164.2,114.1 165.1,114.4 166.1,114.6 167,114.8" fill="none" stroke="#f25a5a" stroke-width="0.93" stroke-linejoin="round"/>
<polyline points="0,105.6 0.9,104.9 1.9,104.1 2.8,103.3 3.7,102.5 4.6,101.6 5.6,100.8 6.5,99.9 7.4,99 8.3,98 9.3,97.1 10.2,96.1 11.1,95.1 12.1,94.1 13,93.1 13.9,92 14.8,90.8 15.8,89.7 16.7,88.5 17.6,87.3 18.6,86.1 19.5,84.8 20.4,83.6 21.3,82.3 22.3,81.1 23.2,79.8 24.1,78.6 25.1,77.3 26,76 26.9,74.6 27.8,73.3 28.8,72 29.7,70.7 30.6,69.4 31.5,68.2 32.5,66.9 33.4,65.6 34.3,64.3 35.3,63 36.2,61.9 37.1,60.8 38,59.8 39,58.8 39.9,57.9 40.8,57 41.8,56.2 42.7,55.5 43.6,54.8 44.5,54.3 45.5,53.8 46.4,53.3 47.3,52.7 48.2,51.9 49.2,51.4 50.1,51.2 51,49.8 52,48.8 52.9,47.2 53.8,46.2 54.7,45.4 55.7,44.4 56.6,43.7 57.5,43.3 58.4,42.8 59.4,40.8 60.3,37.2 61.2,34.3 62.2,34.7 63.1,35.1 64,35.2 64.9,33.7 65.9,31.8 66.8,31.3 67.7,29.8 68.7,28.2 69.6,27.5 70.5,27 71.4,25.9 72.4,26.9 73.3,26.3 74.2,26 75.2,27.1 76.1,27.9 77,28.5 77.9,29.1 78.9,29.7 79.8,30.8 80.7,30.9 81.6,31.8 82.6,33.5 83.5,33.6 84.4,34.6 85.4,36.1 86.3,37.3 87.2,38.3 88.1,38.9 89.1,40.7 90,41.2 90.9,42.1 91.9,43 92.8,44.5 93.7,46 94.6,47.4 95.6,48.8 96.5,50.2 97.4,51.6 98.3,53 99.3,54.5 100.2,56.2 101.1,57.8 102.1,59.5 103,61.3 103.9,63 104.8,64.6 105.8,66.2 106.7,67.7 107.6,69.2 108.5,70.5 109.5,71.9 110.4,73.2 111.3,74.5 112.3,75.8 113.2,77.1 114.1,78.3 115,79.5 116,80.7 116.9,81.9 117.8,83.1 118.8,84.2 119.7,85.4 120.6,86.5 121.5,87.5 122.5,88.6 123.4,89.7 124.3,90.7 125.2,91.8 126.2,92.8 127.1,93.8 128,94.8 129,95.8 129.9,96.8 130.8,97.7 131.7,98.6 132.7,99.4 133.6,100.3 134.5,101 135.5,101.7 136.4,102.4 137.3,103 138.2,103.6 139.2,104.1 140.1,104.7 141,105.2 141.9,105.7 142.9,106.2 143.8,106.6 144.7,107.1 145.7,107.5 146.6,107.9 147.5,108.3 148.4,108.7 149.4,109.1 150.3,109.5 151.2,109.8 152.2,110.2 153.1,110.5 154,110.9 154.9,111.2 155.9,111.5 156.8,111.8 157.7,112.1 158.7,112.4 159.6,112.7 160.5,113 161.4,113.3 162.4,113.5 163.3,113.8 164.2,114 165.1,114.2 166.1,114.4 167,114.6" fill="none" stroke="#3f7ef0" stroke-width="0.93" stroke-linejoin="round"/>
</g>
<g transform="translate(374.5,646) scale(0.93192,0.93542)">
<rect x="0" y="0" width="179.2" height="144" fill="none" stroke="#3a3a3a" stroke-width="1.3"/>
<path d="M0,136.8h1.6M0,129.6h2.8M0,122.4h1.6M0,115.2h2.8M0,108h1.6M0,100.8h2.8M0,93.6h1.6M0,86.4h2.8M0,79.2h1.6M0,72h2.8M0,64.8h1.6M0,57.6h2.8M0,50.4h1.6M0,43.2h2.8M0,36h1.6M0,28.8h2.8M0,21.6h1.6M0,14.4h2.8M0,7.2h1.6M19.91,144v-2.8M39.82,144v-1.6M59.73,144v-2.8M79.64,144v-1.6M99.56,144v-2.8M119.47,144v-1.6M139.38,144v-2.8M159.29,144v-1.6M179.2,128.92h-2.4M179.2,113.84h-2.4M179.2,98.76h-2.4M179.2,83.69h-2.4M179.2,68.61h-2.4M179.2,53.53h-2.4" stroke="#444" stroke-width="1" fill="none"/>
<g font-family="Liberation Serif, serif" font-size="6.8" fill="#555"><text transform="translate(-2.6,147.2) scale(1.0,1.12)" text-anchor="end">0</text><text transform="translate(-2.6,132.8) scale(1.0,1.12)" text-anchor="end">10</text><text transform="translate(-2.6,118.4) scale(1.0,1.12)" text-anchor="end">20</text><text transform="translate(-2.6,104) scale(1.0,1.12)" text-anchor="end">30</text><text transform="translate(-2.6,89.6) scale(1.0,1.12)" text-anchor="end">40</text><text transform="translate(-2.6,75.2) scale(1.0,1.12)" text-anchor="end">50</text><text transform="translate(-2.6,60.8) scale(1.0,1.12)" text-anchor="end">60</text><text transform="translate(-2.6,46.4) scale(1.0,1.12)" text-anchor="end">70</text><text transform="translate(-2.6,32) scale(1.0,1.12)" text-anchor="end">80</text><text transform="translate(-2.6,17.6) scale(1.0,1.12)" text-anchor="end">90</text><text transform="translate(-2.6,3.2) scale(1.0,1.12)" text-anchor="end">100</text><text transform="translate(181.8,146.3) scale(0.88,0.95)">−20</text><text transform="translate(181.8,131.22) scale(0.88,0.95)">0</text><text transform="translate(181.8,116.14) scale(0.88,0.95)">20</text><text transform="translate(181.8,101.06) scale(0.88,0.95)">40</text><text transform="translate(181.8,85.99) scale(0.88,0.95)">60</text><text transform="translate(181.8,70.91) scale(0.88,0.95)">80</text><text transform="translate(181.8,55.83) scale(0.88,0.95)">100</text><text transform="translate(19.91,153.1) scale(1,1.05)" text-anchor="middle">−20</text><text transform="translate(59.73,153.1) scale(1,1.05)" text-anchor="middle">0</text><text transform="translate(99.56,153.1) scale(1,1.05)" text-anchor="middle">20</text><text transform="translate(139.38,153.1) scale(1,1.05)" text-anchor="middle">40</text><text transform="translate(179.2,153.1) scale(1,1.05)" text-anchor="middle">60</text></g>
<text font-family="Liberation Serif, serif" font-size="6.85" fill="#222" stroke="#222" stroke-width="0.12" transform="translate(7.5,10.4) scale(1,1.05)">CN=59.3</text>
<g font-family="Liberation Serif, serif" font-size="6.8" fill="#1a1a1a" stroke="#1a1a1a" stroke-width="0.18"><path d="M126.6,7.9H142" stroke="#5a5a5a" stroke-width="1.1"/><text transform="translate(143.7,10.7) scale(1.0,1.12)">0% EGR</text><path d="M126.6,17.1H142" stroke="#f25a5a" stroke-width="1.1"/><text transform="translate(143.7,19.9) scale(1.0,1.12)">10% EGR</text><path d="M126.6,26.3H142" stroke="#3f7ef0" stroke-width="1.1"/><text transform="translate(143.7,29.1) scale(1.0,1.12)">20% EGR</text><path d="M126.6,35.5H142" stroke="#4cbb7c" stroke-width="1.1"/><text transform="translate(143.7,38.3) scale(1.0,1.12)">30% EGR</text></g>
<path d="M16,51.2H36.9" stroke="#333" stroke-width="1"/><path d="M13,51.2l4.2,-1.8v3.6z" fill="#333"/>
<path d="M102.1,97.6H121.6" stroke="#333" stroke-width="1"/><path d="M124.6,97.6l-4.2,-1.8v3.6z" fill="#333"/>
<text font-family="Liberation Serif, serif" font-size="9.75" fill="#2a2a2a" stroke="#2a2a2a" stroke-width="0.25" x="89.3" y="166" text-anchor="middle">Cank angle/°CA ATDC</text>
</g>
<text font-family="Liberation Serif, serif" font-size="8.96" fill="#2a2a2a" stroke="#2a2a2a" stroke-width="0.23" text-anchor="middle" textLength="75.5" lengthAdjust="spacingAndGlyphs" transform="translate(356.11,713.1) rotate(-90)">Cylinder pressure/bar</text>
<text font-family="Liberation Serif, serif" font-size="8.68" fill="#2a2a2a" stroke="#2a2a2a" stroke-width="0.23" text-anchor="middle" textLength="106" lengthAdjust="spacingAndGlyphs" transform="translate(562.57,719.6) rotate(-90)">Cylinder heat rate/kJ·(m<tspan font-size="6.91" dy="-3.64">3</tspan><tspan dy="3.64">·CA)</tspan><tspan font-size="7.1" dy="-3.92">-1</tspan></text>
</g>
</svg>
</body></html>
